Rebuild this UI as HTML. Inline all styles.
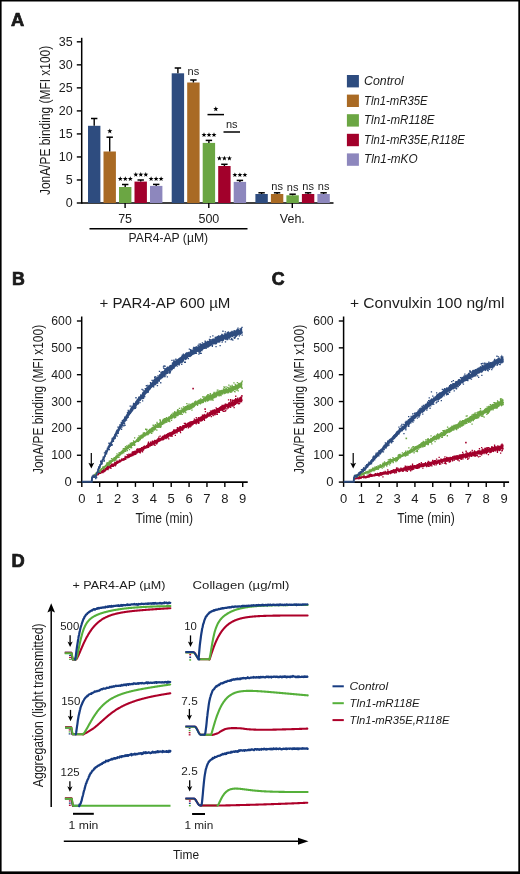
<!DOCTYPE html>
<html><head><meta charset="utf-8"><style>
html,body{margin:0;padding:0;background:#fff;}
body{width:520px;height:874px;overflow:hidden;}
svg{display:block;font-family:"Liberation Sans", sans-serif;will-change:transform;}
text{fill:#1c1c1c;}
</style></head><body>
<svg width="520" height="874" viewBox="0 0 520 874">
<rect x="0" y="0" width="520" height="874" fill="#fff"/>
<text x="11.1" y="26.1" font-size="18.3" text-anchor="start" font-weight="bold" font-style="normal" stroke="#111" stroke-width="0.7">A</text>
<line x1="81.7" y1="37.8" x2="81.7" y2="203.75" stroke="#000" stroke-width="1.5"/>
<line x1="76.8" y1="203.0" x2="81.7" y2="203.0" stroke="#000" stroke-width="1.4"/>
<text x="72.6" y="207.4" font-size="12.5" text-anchor="end" font-weight="normal" font-style="normal" >0</text>
<line x1="76.8" y1="179.975" x2="81.7" y2="179.975" stroke="#000" stroke-width="1.4"/>
<text x="72.6" y="184.375" font-size="12.5" text-anchor="end" font-weight="normal" font-style="normal" >5</text>
<line x1="76.8" y1="156.95" x2="81.7" y2="156.95" stroke="#000" stroke-width="1.4"/>
<text x="72.6" y="161.35" font-size="12.5" text-anchor="end" font-weight="normal" font-style="normal" >10</text>
<line x1="76.8" y1="133.925" x2="81.7" y2="133.925" stroke="#000" stroke-width="1.4"/>
<text x="72.6" y="138.32500000000002" font-size="12.5" text-anchor="end" font-weight="normal" font-style="normal" >15</text>
<line x1="76.8" y1="110.89999999999999" x2="81.7" y2="110.89999999999999" stroke="#000" stroke-width="1.4"/>
<text x="72.6" y="115.3" font-size="12.5" text-anchor="end" font-weight="normal" font-style="normal" >20</text>
<line x1="76.8" y1="87.87499999999999" x2="81.7" y2="87.87499999999999" stroke="#000" stroke-width="1.4"/>
<text x="72.6" y="92.27499999999999" font-size="12.5" text-anchor="end" font-weight="normal" font-style="normal" >25</text>
<line x1="76.8" y1="64.85" x2="81.7" y2="64.85" stroke="#000" stroke-width="1.4"/>
<text x="72.6" y="69.25" font-size="12.5" text-anchor="end" font-weight="normal" font-style="normal" >30</text>
<line x1="76.8" y1="41.82499999999999" x2="81.7" y2="41.82499999999999" stroke="#000" stroke-width="1.4"/>
<text x="72.6" y="46.22499999999999" font-size="12.5" text-anchor="end" font-weight="normal" font-style="normal" >35</text>
<line x1="81.7" y1="203.0" x2="333.5" y2="203.0" stroke="#000" stroke-width="1.6"/>
<text transform="translate(49.7,120.45) rotate(-90)" x="0" y="0" font-size="15" text-anchor="middle" textLength="149.3" lengthAdjust="spacingAndGlyphs">JonA/PE binding (MFI x100)</text>
<rect x="88.00" y="125.8" width="12.4" height="77.20" fill="#2e4c7f"/>
<line x1="94.2" y1="118.5" x2="94.2" y2="125.8" stroke="#000" stroke-width="1.4"/>
<line x1="91.0" y1="118.5" x2="97.4" y2="118.5" stroke="#000" stroke-width="1.5"/>
<rect x="103.50" y="151.5" width="12.4" height="51.50" fill="#a96a24"/>
<line x1="109.7" y1="137.2" x2="109.7" y2="151.5" stroke="#000" stroke-width="1.4"/>
<line x1="106.5" y1="137.2" x2="112.9" y2="137.2" stroke="#000" stroke-width="1.5"/>
<rect x="119.00" y="187.0" width="12.4" height="16.00" fill="#6ba643"/>
<line x1="125.2" y1="184.5" x2="125.2" y2="187.0" stroke="#000" stroke-width="1.4"/>
<line x1="122.0" y1="184.5" x2="128.4" y2="184.5" stroke="#000" stroke-width="1.5"/>
<rect x="134.50" y="181.6" width="12.4" height="21.40" fill="#a2002b"/>
<line x1="140.7" y1="180.0" x2="140.7" y2="181.6" stroke="#000" stroke-width="1.4"/>
<line x1="137.5" y1="180.0" x2="143.89999999999998" y2="180.0" stroke="#000" stroke-width="1.5"/>
<rect x="150.00" y="185.9" width="12.4" height="17.10" fill="#8d87bd"/>
<line x1="156.2" y1="184.4" x2="156.2" y2="185.9" stroke="#000" stroke-width="1.4"/>
<line x1="153.0" y1="184.4" x2="159.39999999999998" y2="184.4" stroke="#000" stroke-width="1.5"/>
<rect x="171.70" y="73.3" width="12.4" height="129.70" fill="#2e4c7f"/>
<line x1="177.89999999999998" y1="68.0" x2="177.89999999999998" y2="73.3" stroke="#000" stroke-width="1.4"/>
<line x1="174.7" y1="68.0" x2="181.09999999999997" y2="68.0" stroke="#000" stroke-width="1.5"/>
<rect x="187.20" y="82.5" width="12.4" height="120.50" fill="#a96a24"/>
<line x1="193.39999999999998" y1="80.0" x2="193.39999999999998" y2="82.5" stroke="#000" stroke-width="1.4"/>
<line x1="190.2" y1="80.0" x2="196.59999999999997" y2="80.0" stroke="#000" stroke-width="1.5"/>
<rect x="202.70" y="142.9" width="12.4" height="60.10" fill="#6ba643"/>
<line x1="208.89999999999998" y1="140.4" x2="208.89999999999998" y2="142.9" stroke="#000" stroke-width="1.4"/>
<line x1="205.7" y1="140.4" x2="212.09999999999997" y2="140.4" stroke="#000" stroke-width="1.5"/>
<rect x="218.20" y="166.0" width="12.4" height="37.00" fill="#a2002b"/>
<line x1="224.39999999999998" y1="164.3" x2="224.39999999999998" y2="166.0" stroke="#000" stroke-width="1.4"/>
<line x1="221.2" y1="164.3" x2="227.59999999999997" y2="164.3" stroke="#000" stroke-width="1.5"/>
<rect x="233.70" y="181.9" width="12.4" height="21.10" fill="#8d87bd"/>
<line x1="239.89999999999998" y1="180.4" x2="239.89999999999998" y2="181.9" stroke="#000" stroke-width="1.4"/>
<line x1="236.7" y1="180.4" x2="243.09999999999997" y2="180.4" stroke="#000" stroke-width="1.5"/>
<rect x="255.40" y="194.0" width="12.4" height="9.00" fill="#2e4c7f"/>
<line x1="261.6" y1="192.8" x2="261.6" y2="194.0" stroke="#000" stroke-width="1.4"/>
<line x1="258.40000000000003" y1="192.8" x2="264.8" y2="192.8" stroke="#000" stroke-width="1.5"/>
<rect x="270.90" y="194.0" width="12.4" height="9.00" fill="#a96a24"/>
<line x1="277.09999999999997" y1="192.8" x2="277.09999999999997" y2="194.0" stroke="#000" stroke-width="1.4"/>
<line x1="273.9" y1="192.8" x2="280.29999999999995" y2="192.8" stroke="#000" stroke-width="1.5"/>
<rect x="286.40" y="195.3" width="12.4" height="7.70" fill="#6ba643"/>
<line x1="292.59999999999997" y1="194.2" x2="292.59999999999997" y2="195.3" stroke="#000" stroke-width="1.4"/>
<line x1="289.4" y1="194.2" x2="295.79999999999995" y2="194.2" stroke="#000" stroke-width="1.5"/>
<rect x="301.90" y="194.0" width="12.4" height="9.00" fill="#a2002b"/>
<line x1="308.09999999999997" y1="192.8" x2="308.09999999999997" y2="194.0" stroke="#000" stroke-width="1.4"/>
<line x1="304.9" y1="192.8" x2="311.29999999999995" y2="192.8" stroke="#000" stroke-width="1.5"/>
<rect x="317.40" y="194.0" width="12.4" height="9.00" fill="#8d87bd"/>
<line x1="323.59999999999997" y1="192.8" x2="323.59999999999997" y2="194.0" stroke="#000" stroke-width="1.4"/>
<line x1="320.4" y1="192.8" x2="326.79999999999995" y2="192.8" stroke="#000" stroke-width="1.5"/>
<line x1="125.1" y1="203.0" x2="125.1" y2="208.0" stroke="#000" stroke-width="1.4"/>
<line x1="208.8" y1="203.0" x2="208.8" y2="208.0" stroke="#000" stroke-width="1.4"/>
<line x1="292.3" y1="203.0" x2="292.3" y2="208.0" stroke="#000" stroke-width="1.4"/>
<text x="125.1" y="223.2" font-size="12.5" text-anchor="middle" font-weight="normal" font-style="normal" >75</text>
<text x="208.9" y="223.2" font-size="12.5" text-anchor="middle" font-weight="normal" font-style="normal" >500</text>
<text x="292.3" y="223.0" font-size="12.5" text-anchor="middle" font-weight="normal" font-style="normal" >Veh.</text>
<line x1="89.5" y1="228.7" x2="247.5" y2="228.7" stroke="#000" stroke-width="1.5"/>
<text x="128.6" y="242.2" font-size="12.5" text-anchor="start" font-weight="normal" font-style="normal" textLength="79.5" lengthAdjust="spacingAndGlyphs" >PAR4-AP (&#181;M)</text>
<polygon points="109.80,128.50 110.47,130.28 112.37,130.37 110.88,131.55 111.39,133.38 109.80,132.33 108.21,133.38 108.72,131.55 107.23,130.37 109.13,130.28" fill="#000"/>
<polygon points="120.30,176.30 120.94,178.02 122.77,178.10 121.34,179.24 121.83,181.00 120.30,179.99 118.77,181.00 119.26,179.24 117.83,178.10 119.66,178.02" fill="#000"/>
<polygon points="125.30,176.30 125.94,178.02 127.77,178.10 126.34,179.24 126.83,181.00 125.30,179.99 123.77,181.00 124.26,179.24 122.83,178.10 124.66,178.02" fill="#000"/>
<polygon points="130.30,176.30 130.94,178.02 132.77,178.10 131.34,179.24 131.83,181.00 130.30,179.99 128.77,181.00 129.26,179.24 127.83,178.10 129.66,178.02" fill="#000"/>
<polygon points="135.80,172.00 136.44,173.72 138.27,173.80 136.84,174.94 137.33,176.70 135.80,175.69 134.27,176.70 134.76,174.94 133.33,173.80 135.16,173.72" fill="#000"/>
<polygon points="140.80,172.00 141.44,173.72 143.27,173.80 141.84,174.94 142.33,176.70 140.80,175.69 139.27,176.70 139.76,174.94 138.33,173.80 140.16,173.72" fill="#000"/>
<polygon points="145.80,172.00 146.44,173.72 148.27,173.80 146.84,174.94 147.33,176.70 145.80,175.69 144.27,176.70 144.76,174.94 143.33,173.80 145.16,173.72" fill="#000"/>
<polygon points="151.10,176.30 151.74,178.02 153.57,178.10 152.14,179.24 152.63,181.00 151.10,179.99 149.57,181.00 150.06,179.24 148.63,178.10 150.46,178.02" fill="#000"/>
<polygon points="156.10,176.30 156.74,178.02 158.57,178.10 157.14,179.24 157.63,181.00 156.10,179.99 154.57,181.00 155.06,179.24 153.63,178.10 155.46,178.02" fill="#000"/>
<polygon points="161.10,176.30 161.74,178.02 163.57,178.10 162.14,179.24 162.63,181.00 161.10,179.99 159.57,181.00 160.06,179.24 158.63,178.10 160.46,178.02" fill="#000"/>
<text x="193.4" y="75.0" font-size="11" text-anchor="middle" font-weight="normal" font-style="normal" >ns</text>
<polygon points="204.00,132.20 204.64,133.92 206.47,134.00 205.04,135.14 205.53,136.90 204.00,135.89 202.47,136.90 202.96,135.14 201.53,134.00 203.36,133.92" fill="#000"/>
<polygon points="209.00,132.20 209.64,133.92 211.47,134.00 210.04,135.14 210.53,136.90 209.00,135.89 207.47,136.90 207.96,135.14 206.53,134.00 208.36,133.92" fill="#000"/>
<polygon points="214.00,132.20 214.64,133.92 216.47,134.00 215.04,135.14 215.53,136.90 214.00,135.89 212.47,136.90 212.96,135.14 211.53,134.00 213.36,133.92" fill="#000"/>
<polygon points="219.40,155.70 220.04,157.42 221.87,157.50 220.44,158.64 220.93,160.40 219.40,159.39 217.87,160.40 218.36,158.64 216.93,157.50 218.76,157.42" fill="#000"/>
<polygon points="224.40,155.70 225.04,157.42 226.87,157.50 225.44,158.64 225.93,160.40 224.40,159.39 222.87,160.40 223.36,158.64 221.93,157.50 223.76,157.42" fill="#000"/>
<polygon points="229.40,155.70 230.04,157.42 231.87,157.50 230.44,158.64 230.93,160.40 229.40,159.39 227.87,160.40 228.36,158.64 226.93,157.50 228.76,157.42" fill="#000"/>
<polygon points="234.90,172.40 235.54,174.12 237.37,174.20 235.94,175.34 236.43,177.10 234.90,176.09 233.37,177.10 233.86,175.34 232.43,174.20 234.26,174.12" fill="#000"/>
<polygon points="239.90,172.40 240.54,174.12 242.37,174.20 240.94,175.34 241.43,177.10 239.90,176.09 238.37,177.10 238.86,175.34 237.43,174.20 239.26,174.12" fill="#000"/>
<polygon points="244.90,172.40 245.54,174.12 247.37,174.20 245.94,175.34 246.43,177.10 244.90,176.09 243.37,177.10 243.86,175.34 242.43,174.20 244.26,174.12" fill="#000"/>
<line x1="207.5" y1="114.6" x2="224.0" y2="114.6" stroke="#000" stroke-width="1.5"/>
<polygon points="215.80,106.30 216.47,108.08 218.37,108.17 216.88,109.35 217.39,111.18 215.80,110.13 214.21,111.18 214.72,109.35 213.23,108.17 215.13,108.08" fill="#000"/>
<line x1="223.5" y1="132.0" x2="240.0" y2="132.0" stroke="#000" stroke-width="1.5"/>
<text x="231.7" y="127.7" font-size="11" text-anchor="middle" font-weight="normal" font-style="normal" >ns</text>
<text x="277.09999999999997" y="189.6" font-size="11" text-anchor="middle" font-weight="normal" font-style="normal" >ns</text>
<text x="292.59999999999997" y="190.6" font-size="11" text-anchor="middle" font-weight="normal" font-style="normal" >ns</text>
<text x="308.09999999999997" y="189.6" font-size="11" text-anchor="middle" font-weight="normal" font-style="normal" >ns</text>
<text x="323.59999999999997" y="189.6" font-size="11" text-anchor="middle" font-weight="normal" font-style="normal" >ns</text>
<rect x="346.9" y="75.00" width="12" height="12.4" fill="#2e4c7f"/>
<text x="364.0" y="85.00" font-size="12.5" text-anchor="start" font-weight="normal" font-style="italic" textLength="39.8" lengthAdjust="spacingAndGlyphs" >Control</text>
<rect x="346.9" y="94.60" width="12" height="12.4" fill="#a96a24"/>
<text x="364.0" y="104.60" font-size="12.5" text-anchor="start" font-weight="normal" font-style="italic" textLength="63.6" lengthAdjust="spacingAndGlyphs" >Tln1-mR35E</text>
<rect x="346.9" y="114.20" width="12" height="12.4" fill="#6ba643"/>
<text x="364.0" y="124.20" font-size="12.5" text-anchor="start" font-weight="normal" font-style="italic" textLength="70.6" lengthAdjust="spacingAndGlyphs" >Tln1-mR118E</text>
<rect x="346.9" y="133.80" width="12" height="12.4" fill="#a2002b"/>
<text x="364.0" y="143.80" font-size="12.5" text-anchor="start" font-weight="normal" font-style="italic" textLength="100.8" lengthAdjust="spacingAndGlyphs" >Tln1-mR35E,R118E</text>
<rect x="346.9" y="153.40" width="12" height="12.4" fill="#8d87bd"/>
<text x="364.0" y="163.40" font-size="12.5" text-anchor="start" font-weight="normal" font-style="italic" textLength="53.6" lengthAdjust="spacingAndGlyphs" >Tln1-mKO</text>
<text x="12.0" y="284.9" font-size="17.8" text-anchor="start" font-weight="bold" font-style="normal" stroke="#111" stroke-width="0.7">B</text>
<line x1="81.7" y1="316.5" x2="81.7" y2="482.85" stroke="#000" stroke-width="1.5"/>
<line x1="76.9" y1="482.1" x2="81.7" y2="482.1" stroke="#000" stroke-width="1.4"/>
<text x="71.7" y="486.1" font-size="13" text-anchor="end" font-weight="normal" font-style="normal" >0</text>
<line x1="76.9" y1="455.25" x2="81.7" y2="455.25" stroke="#000" stroke-width="1.4"/>
<text x="71.7" y="459.25" font-size="13" text-anchor="end" font-weight="normal" font-style="normal" textLength="20.4" lengthAdjust="spacingAndGlyphs" >100</text>
<line x1="76.9" y1="428.40000000000003" x2="81.7" y2="428.40000000000003" stroke="#000" stroke-width="1.4"/>
<text x="71.7" y="432.40000000000003" font-size="13" text-anchor="end" font-weight="normal" font-style="normal" textLength="20.4" lengthAdjust="spacingAndGlyphs" >200</text>
<line x1="76.9" y1="401.55" x2="81.7" y2="401.55" stroke="#000" stroke-width="1.4"/>
<text x="71.7" y="405.55" font-size="13" text-anchor="end" font-weight="normal" font-style="normal" textLength="20.4" lengthAdjust="spacingAndGlyphs" >300</text>
<line x1="76.9" y1="374.70000000000005" x2="81.7" y2="374.70000000000005" stroke="#000" stroke-width="1.4"/>
<text x="71.7" y="378.70000000000005" font-size="13" text-anchor="end" font-weight="normal" font-style="normal" textLength="20.4" lengthAdjust="spacingAndGlyphs" >400</text>
<line x1="76.9" y1="347.85" x2="81.7" y2="347.85" stroke="#000" stroke-width="1.4"/>
<text x="71.7" y="351.85" font-size="13" text-anchor="end" font-weight="normal" font-style="normal" textLength="20.4" lengthAdjust="spacingAndGlyphs" >500</text>
<line x1="76.9" y1="321.0" x2="81.7" y2="321.0" stroke="#000" stroke-width="1.4"/>
<text x="71.7" y="325.0" font-size="13" text-anchor="end" font-weight="normal" font-style="normal" textLength="20.4" lengthAdjust="spacingAndGlyphs" >600</text>
<line x1="81.7" y1="482.1" x2="247.71999999999997" y2="482.1" stroke="#000" stroke-width="1.6"/>
<line x1="81.8" y1="482.1" x2="81.8" y2="486.90000000000003" stroke="#000" stroke-width="1.4"/>
<text x="81.8" y="502.7" font-size="13" text-anchor="middle" font-weight="normal" font-style="normal" >0</text>
<line x1="99.67999999999999" y1="482.1" x2="99.67999999999999" y2="486.90000000000003" stroke="#000" stroke-width="1.4"/>
<text x="99.67999999999999" y="502.7" font-size="13" text-anchor="middle" font-weight="normal" font-style="normal" >1</text>
<line x1="117.56" y1="482.1" x2="117.56" y2="486.90000000000003" stroke="#000" stroke-width="1.4"/>
<text x="117.56" y="502.7" font-size="13" text-anchor="middle" font-weight="normal" font-style="normal" >2</text>
<line x1="135.44" y1="482.1" x2="135.44" y2="486.90000000000003" stroke="#000" stroke-width="1.4"/>
<text x="135.44" y="502.7" font-size="13" text-anchor="middle" font-weight="normal" font-style="normal" >3</text>
<line x1="153.32" y1="482.1" x2="153.32" y2="486.90000000000003" stroke="#000" stroke-width="1.4"/>
<text x="153.32" y="502.7" font-size="13" text-anchor="middle" font-weight="normal" font-style="normal" >4</text>
<line x1="171.2" y1="482.1" x2="171.2" y2="486.90000000000003" stroke="#000" stroke-width="1.4"/>
<text x="171.2" y="502.7" font-size="13" text-anchor="middle" font-weight="normal" font-style="normal" >5</text>
<line x1="189.07999999999998" y1="482.1" x2="189.07999999999998" y2="486.90000000000003" stroke="#000" stroke-width="1.4"/>
<text x="189.07999999999998" y="502.7" font-size="13" text-anchor="middle" font-weight="normal" font-style="normal" >6</text>
<line x1="206.95999999999998" y1="482.1" x2="206.95999999999998" y2="486.90000000000003" stroke="#000" stroke-width="1.4"/>
<text x="206.95999999999998" y="502.7" font-size="13" text-anchor="middle" font-weight="normal" font-style="normal" >7</text>
<line x1="224.83999999999997" y1="482.1" x2="224.83999999999997" y2="486.90000000000003" stroke="#000" stroke-width="1.4"/>
<text x="224.83999999999997" y="502.7" font-size="13" text-anchor="middle" font-weight="normal" font-style="normal" >8</text>
<line x1="242.71999999999997" y1="482.1" x2="242.71999999999997" y2="486.90000000000003" stroke="#000" stroke-width="1.4"/>
<text x="242.71999999999997" y="502.7" font-size="13" text-anchor="middle" font-weight="normal" font-style="normal" >9</text>
<text x="99.6" y="307.9" font-size="14" text-anchor="start" font-weight="normal" font-style="normal" textLength="130.8" lengthAdjust="spacingAndGlyphs" >+ PAR4-AP 600 &#181;M</text>
<text x="135.5" y="523.2" font-size="14" text-anchor="start" font-weight="normal" font-style="normal" textLength="57.5" lengthAdjust="spacingAndGlyphs" >Time (min)</text>
<text transform="translate(42.7,399.45) rotate(-90)" x="0" y="0" font-size="15" text-anchor="middle" textLength="149.1" lengthAdjust="spacingAndGlyphs">JonA/PE binding (MFI x100)</text>
<polygon points="91.8,477.6 92.6,476.6 93.4,475.9 94.2,475.0 95.0,474.7 95.8,474.5 96.6,473.8 97.4,473.1 98.2,473.0 99.0,472.6 99.8,471.9 100.6,471.5 101.4,470.8 102.2,470.9 103.0,469.8 103.8,469.1 104.6,469.1 105.4,468.4 106.2,467.1 107.0,467.2 107.8,467.0 108.6,466.4 109.4,466.0 110.2,465.9 111.0,465.1 111.8,464.5 112.6,464.3 113.4,463.6 114.2,463.2 115.0,462.9 115.8,461.7 116.6,461.4 117.4,460.6 118.2,461.0 119.0,459.6 119.8,460.0 120.6,459.9 121.4,459.1 122.2,459.0 123.0,457.9 123.8,458.1 124.6,457.4 125.4,456.8 126.2,455.9 127.0,456.2 127.8,455.0 128.6,454.9 129.4,453.9 130.2,453.9 131.0,453.7 131.8,452.9 132.6,452.4 133.4,451.8 134.2,451.6 135.0,451.3 135.8,451.3 136.6,449.5 137.4,449.6 138.2,448.5 139.0,449.4 139.8,448.1 140.6,448.1 141.4,448.4 142.2,447.5 143.0,447.4 143.8,446.9 144.6,445.8 145.4,446.0 146.2,444.9 147.0,444.8 147.8,443.7 148.6,444.7 149.4,443.0 150.2,442.3 151.0,442.7 151.8,442.1 152.6,441.6 153.4,440.9 154.2,440.3 155.0,439.9 155.8,440.2 156.6,439.3 157.4,439.2 158.2,437.6 159.0,437.9 159.8,438.0 160.6,437.7 161.4,437.5 162.2,436.3 163.0,435.7 163.8,436.0 164.6,435.1 165.4,434.8 166.2,434.0 167.0,433.8 167.8,433.1 168.6,432.7 169.4,432.3 170.2,432.2 171.0,431.8 171.8,432.1 172.6,431.0 173.4,429.7 174.2,429.3 175.0,429.6 175.8,429.2 176.6,429.0 177.4,428.3 178.2,427.9 179.0,427.2 179.8,426.1 180.6,426.2 181.4,426.9 182.2,426.0 183.0,425.0 183.8,424.9 184.6,424.5 185.4,424.3 186.2,424.1 187.0,422.9 187.8,423.0 188.6,423.5 189.4,421.7 190.2,421.8 191.0,421.3 191.8,421.2 192.6,421.7 193.4,420.5 194.2,420.1 195.0,420.2 195.8,419.0 196.6,418.2 197.4,418.6 198.2,418.3 199.0,417.4 199.8,417.2 200.6,416.9 201.4,416.3 202.2,416.1 203.0,415.2 203.8,414.9 204.6,413.6 205.4,414.7 206.2,414.5 207.0,413.0 207.8,412.1 208.6,413.5 209.4,413.1 210.2,412.3 211.0,410.2 211.8,411.0 212.6,409.8 213.4,409.8 214.2,409.4 215.0,409.1 215.8,409.8 216.6,408.0 217.4,408.2 218.2,407.9 219.0,407.2 219.8,406.8 220.6,405.9 221.4,406.0 222.2,405.3 223.0,405.4 223.8,405.6 224.6,405.1 225.4,403.9 226.2,403.5 227.0,404.0 227.8,404.0 228.6,402.1 229.4,401.8 230.2,402.8 231.0,401.5 231.8,401.7 232.6,401.2 233.4,401.8 234.2,399.5 235.0,399.5 235.8,399.4 236.6,398.6 237.4,397.1 238.2,399.0 239.0,397.4 239.8,397.7 240.6,396.3 241.4,396.8 242.2,395.9 242.2,402.4 241.4,402.2 240.6,402.5 239.8,402.6 239.0,402.2 238.2,402.9 237.4,403.1 236.6,403.9 235.8,405.0 235.0,404.9 234.2,405.5 233.4,405.3 232.6,406.2 231.8,405.8 231.0,406.6 230.2,407.0 229.4,407.4 228.6,408.6 227.8,407.7 227.0,408.1 226.2,407.1 225.4,409.8 224.6,409.8 223.8,409.6 223.0,411.9 222.2,411.1 221.4,410.5 220.6,410.6 219.8,411.7 219.0,412.4 218.2,412.9 217.4,413.4 216.6,412.6 215.8,413.7 215.0,414.6 214.2,414.9 213.4,414.0 212.6,415.4 211.8,415.0 211.0,415.7 210.2,416.4 209.4,416.7 208.6,416.7 207.8,417.2 207.0,418.0 206.2,418.6 205.4,418.3 204.6,419.3 203.8,420.1 203.0,419.8 202.2,421.2 201.4,420.4 200.6,421.6 199.8,421.3 199.0,422.2 198.2,422.5 197.4,422.9 196.6,423.2 195.8,422.9 195.0,423.7 194.2,423.5 193.4,424.6 192.6,424.6 191.8,425.3 191.0,425.7 190.2,427.2 189.4,426.1 188.6,426.9 187.8,427.0 187.0,427.3 186.2,428.4 185.4,427.8 184.6,428.8 183.8,428.4 183.0,429.9 182.2,430.0 181.4,429.5 180.6,431.3 179.8,431.1 179.0,431.5 178.2,431.9 177.4,432.4 176.6,432.5 175.8,432.8 175.0,434.1 174.2,434.3 173.4,434.8 172.6,434.7 171.8,435.3 171.0,435.9 170.2,436.5 169.4,435.9 168.6,436.4 167.8,437.7 167.0,438.4 166.2,438.2 165.4,438.8 164.6,438.7 163.8,440.2 163.0,440.6 162.2,440.4 161.4,440.4 160.6,441.0 159.8,441.8 159.0,441.8 158.2,442.5 157.4,443.3 156.6,443.3 155.8,443.2 155.0,443.7 154.2,444.0 153.4,444.7 152.6,444.4 151.8,445.5 151.0,445.9 150.2,446.5 149.4,446.2 148.6,447.0 147.8,447.8 147.0,447.7 146.2,448.2 145.4,449.1 144.6,448.9 143.8,449.2 143.0,450.4 142.2,450.6 141.4,450.9 140.6,451.6 139.8,451.5 139.0,451.7 138.2,453.1 137.4,453.3 136.6,453.4 135.8,454.5 135.0,455.3 134.2,455.0 133.4,455.2 132.6,455.9 131.8,456.2 131.0,456.6 130.2,457.3 129.4,456.7 128.6,458.0 127.8,458.1 127.0,458.1 126.2,458.8 125.4,459.2 124.6,460.3 123.8,460.6 123.0,460.2 122.2,461.2 121.4,461.3 120.6,461.7 119.8,462.3 119.0,462.8 118.2,463.7 117.4,463.5 116.6,464.5 115.8,464.7 115.0,465.3 114.2,464.8 113.4,465.8 112.6,466.6 111.8,466.6 111.0,467.7 110.2,468.0 109.4,468.2 108.6,468.4 107.8,469.3 107.0,469.1 106.2,470.3 105.4,470.7 104.6,471.1 103.8,471.3 103.0,472.1 102.2,472.2 101.4,472.9 100.6,473.0 99.8,474.0 99.0,474.0 98.2,474.5 97.4,474.9 96.6,475.3 95.8,475.8 95.0,477.1 94.2,476.8 93.4,477.3 92.6,477.7 91.8,477.7" fill="#a2002b"/>
<path d="M209.8 412.3h1.3v1.3h-1.3zM192.0 422.2h1.3v1.3h-1.3zM171.4 434.7h1.3v1.3h-1.3zM170.6 434.7h1.3v1.3h-1.3zM238.3 400.5h1.3v1.3h-1.3zM170.2 433.8h1.3v1.3h-1.3zM104.7 468.6h1.3v1.3h-1.3zM103.3 469.5h1.3v1.3h-1.3zM181.1 428.5h1.3v1.3h-1.3zM201.6 417.1h1.3v1.3h-1.3zM186.0 425.6h1.3v1.3h-1.3zM203.1 414.5h1.3v1.3h-1.3zM136.1 449.0h1.3v1.3h-1.3zM147.6 442.6h1.3v1.3h-1.3zM131.8 453.0h1.3v1.3h-1.3zM147.8 446.7h1.3v1.3h-1.3zM132.0 454.9h1.3v1.3h-1.3zM216.8 408.0h1.3v1.3h-1.3zM114.2 461.8h1.3v1.3h-1.3zM123.2 459.2h1.3v1.3h-1.3zM198.8 419.5h1.3v1.3h-1.3zM151.6 440.9h1.3v1.3h-1.3zM143.1 448.8h1.3v1.3h-1.3zM237.7 400.4h1.3v1.3h-1.3zM225.7 408.3h1.3v1.3h-1.3zM124.9 457.8h1.3v1.3h-1.3zM115.4 463.6h1.3v1.3h-1.3zM165.7 435.9h1.3v1.3h-1.3zM177.9 427.6h1.3v1.3h-1.3zM144.0 446.6h1.3v1.3h-1.3zM180.5 426.7h1.3v1.3h-1.3zM193.5 422.8h1.3v1.3h-1.3zM213.9 409.4h1.3v1.3h-1.3zM128.3 453.6h1.3v1.3h-1.3zM188.5 425.0h1.3v1.3h-1.3zM100.8 472.0h1.3v1.3h-1.3zM101.8 471.6h1.3v1.3h-1.3zM100.4 472.2h1.3v1.3h-1.3zM109.5 464.7h1.3v1.3h-1.3zM209.0 412.4h1.3v1.3h-1.3zM147.6 444.2h1.3v1.3h-1.3zM165.8 435.4h1.3v1.3h-1.3zM159.5 435.5h1.3v1.3h-1.3zM123.1 458.3h1.3v1.3h-1.3zM99.0 472.4h1.3v1.3h-1.3zM119.3 459.4h1.3v1.3h-1.3zM220.4 408.4h1.3v1.3h-1.3zM142.8 449.2h1.3v1.3h-1.3zM155.0 441.1h1.3v1.3h-1.3zM131.7 454.9h1.3v1.3h-1.3zM202.9 418.5h1.3v1.3h-1.3zM197.1 420.3h1.3v1.3h-1.3zM149.5 444.5h1.3v1.3h-1.3zM167.8 433.8h1.3v1.3h-1.3zM151.3 444.8h1.3v1.3h-1.3zM177.8 428.5h1.3v1.3h-1.3zM180.8 426.5h1.3v1.3h-1.3zM178.4 430.1h1.3v1.3h-1.3zM226.9 403.7h1.3v1.3h-1.3zM234.1 402.6h1.3v1.3h-1.3zM99.8 472.5h1.3v1.3h-1.3zM148.9 444.4h1.3v1.3h-1.3zM98.2 472.8h1.3v1.3h-1.3zM148.1 446.0h1.3v1.3h-1.3zM212.1 413.6h1.3v1.3h-1.3zM193.7 418.5h1.3v1.3h-1.3zM176.9 427.6h1.3v1.3h-1.3zM105.1 469.7h1.3v1.3h-1.3zM213.4 412.3h1.3v1.3h-1.3zM183.7 422.8h1.3v1.3h-1.3zM137.4 448.7h1.3v1.3h-1.3zM209.5 413.5h1.3v1.3h-1.3zM98.0 472.1h1.3v1.3h-1.3zM120.2 460.5h1.3v1.3h-1.3zM210.1 413.4h1.3v1.3h-1.3zM99.0 472.5h1.3v1.3h-1.3zM111.9 463.6h1.3v1.3h-1.3zM167.1 435.7h1.3v1.3h-1.3zM198.3 422.5h1.3v1.3h-1.3zM180.2 426.7h1.3v1.3h-1.3zM97.7 473.9h1.3v1.3h-1.3zM133.2 454.0h1.3v1.3h-1.3zM197.7 420.4h1.3v1.3h-1.3zM144.2 446.7h1.3v1.3h-1.3zM121.2 458.2h1.3v1.3h-1.3zM92.5 475.7h1.3v1.3h-1.3zM131.4 454.7h1.3v1.3h-1.3zM231.2 405.1h1.3v1.3h-1.3zM99.6 472.8h1.3v1.3h-1.3zM174.8 432.3h1.3v1.3h-1.3zM228.1 406.4h1.3v1.3h-1.3zM196.8 418.9h1.3v1.3h-1.3zM134.1 450.7h1.3v1.3h-1.3zM189.1 423.9h1.3v1.3h-1.3zM110.0 466.2h1.3v1.3h-1.3zM166.7 435.1h1.3v1.3h-1.3zM131.5 451.8h1.3v1.3h-1.3zM223.0 406.0h1.3v1.3h-1.3zM221.5 404.8h1.3v1.3h-1.3zM206.0 415.5h1.3v1.3h-1.3zM148.3 443.2h1.3v1.3h-1.3zM211.2 412.3h1.3v1.3h-1.3zM238.6 400.3h1.3v1.3h-1.3zM147.4 445.3h1.3v1.3h-1.3zM170.6 435.1h1.3v1.3h-1.3zM116.4 461.0h1.3v1.3h-1.3zM108.3 464.8h1.3v1.3h-1.3zM199.8 420.0h1.3v1.3h-1.3zM101.2 472.0h1.3v1.3h-1.3zM182.0 429.5h1.3v1.3h-1.3zM109.1 466.5h1.3v1.3h-1.3zM192.1 423.0h1.3v1.3h-1.3zM204.7 416.1h1.3v1.3h-1.3zM232.7 399.7h1.3v1.3h-1.3zM150.4 442.7h1.3v1.3h-1.3zM150.4 444.2h1.3v1.3h-1.3zM151.9 441.9h1.3v1.3h-1.3zM197.6 422.7h1.3v1.3h-1.3zM209.8 410.4h1.3v1.3h-1.3zM109.5 465.7h1.3v1.3h-1.3zM140.7 450.2h1.3v1.3h-1.3zM100.4 470.9h1.3v1.3h-1.3zM127.3 454.7h1.3v1.3h-1.3zM201.8 414.8h1.3v1.3h-1.3zM232.1 401.2h1.3v1.3h-1.3zM238.6 402.7h1.3v1.3h-1.3zM102.3 470.6h1.3v1.3h-1.3zM152.2 443.3h1.3v1.3h-1.3zM222.5 406.2h1.3v1.3h-1.3zM167.6 435.8h1.3v1.3h-1.3zM144.4 446.9h1.3v1.3h-1.3zM209.0 412.0h1.3v1.3h-1.3zM221.3 406.9h1.3v1.3h-1.3zM114.0 463.7h1.3v1.3h-1.3zM169.4 435.4h1.3v1.3h-1.3zM114.2 463.3h1.3v1.3h-1.3zM119.1 461.1h1.3v1.3h-1.3zM171.4 435.7h1.3v1.3h-1.3zM129.9 453.6h1.3v1.3h-1.3zM212.4 409.7h1.3v1.3h-1.3zM146.8 446.8h1.3v1.3h-1.3zM119.2 461.0h1.3v1.3h-1.3zM186.2 424.9h1.3v1.3h-1.3zM131.3 454.2h1.3v1.3h-1.3zM102.1 470.1h1.3v1.3h-1.3zM241.4 399.4h1.3v1.3h-1.3zM119.7 459.9h1.3v1.3h-1.3zM111.8 465.5h1.3v1.3h-1.3zM164.0 434.6h1.3v1.3h-1.3zM92.8 475.6h1.3v1.3h-1.3zM210.1 413.4h1.3v1.3h-1.3zM103.4 469.2h1.3v1.3h-1.3zM98.1 473.2h1.3v1.3h-1.3zM236.5 400.5h1.3v1.3h-1.3zM169.4 432.7h1.3v1.3h-1.3zM230.9 403.7h1.3v1.3h-1.3zM226.2 404.4h1.3v1.3h-1.3zM201.8 414.4h1.3v1.3h-1.3zM96.6 472.9h1.3v1.3h-1.3zM188.3 422.6h1.3v1.3h-1.3zM101.9 470.1h1.3v1.3h-1.3zM93.8 475.5h1.3v1.3h-1.3zM218.3 411.0h1.3v1.3h-1.3zM138.0 450.9h1.3v1.3h-1.3zM203.8 419.6h1.3v1.3h-1.3zM171.3 434.6h1.3v1.3h-1.3zM209.3 413.3h1.3v1.3h-1.3zM187.7 427.1h1.3v1.3h-1.3zM237.5 402.6h1.3v1.3h-1.3zM163.1 436.2h1.3v1.3h-1.3zM219.6 409.2h1.3v1.3h-1.3zM214.9 413.0h1.3v1.3h-1.3zM179.8 428.7h1.3v1.3h-1.3zM167.8 436.0h1.3v1.3h-1.3zM156.4 440.9h1.3v1.3h-1.3zM188.7 425.0h1.3v1.3h-1.3zM121.4 459.0h1.3v1.3h-1.3zM157.8 440.2h1.3v1.3h-1.3zM188.8 423.1h1.3v1.3h-1.3zM138.1 451.0h1.3v1.3h-1.3zM124.5 455.7h1.3v1.3h-1.3zM108.1 467.2h1.3v1.3h-1.3zM212.4 414.5h1.3v1.3h-1.3zM223.0 408.2h1.3v1.3h-1.3zM216.8 410.0h1.3v1.3h-1.3zM197.7 420.3h1.3v1.3h-1.3zM182.5 425.5h1.3v1.3h-1.3zM100.8 470.5h1.3v1.3h-1.3zM223.7 406.0h1.3v1.3h-1.3zM162.9 436.7h1.3v1.3h-1.3zM194.7 422.5h1.3v1.3h-1.3zM110.3 464.8h1.3v1.3h-1.3zM203.6 418.3h1.3v1.3h-1.3zM114.1 461.9h1.3v1.3h-1.3zM235.3 399.6h1.3v1.3h-1.3zM198.3 418.9h1.3v1.3h-1.3zM171.4 434.4h1.3v1.3h-1.3zM189.8 422.2h1.3v1.3h-1.3zM126.5 454.0h1.3v1.3h-1.3zM166.7 435.6h1.3v1.3h-1.3zM105.0 468.6h1.3v1.3h-1.3zM133.9 451.0h1.3v1.3h-1.3zM134.8 450.6h1.3v1.3h-1.3zM116.8 461.2h1.3v1.3h-1.3zM154.3 441.6h1.3v1.3h-1.3zM101.6 471.2h1.3v1.3h-1.3zM96.0 473.1h1.3v1.3h-1.3zM141.9 451.2h1.3v1.3h-1.3zM240.3 398.8h1.3v1.3h-1.3zM200.8 417.1h1.3v1.3h-1.3zM156.1 441.5h1.3v1.3h-1.3zM122.0 459.1h1.3v1.3h-1.3zM110.3 467.8h1.3v1.3h-1.3zM154.4 443.0h1.3v1.3h-1.3zM189.8 422.6h1.3v1.3h-1.3zM215.6 409.8h1.3v1.3h-1.3zM161.3 437.1h1.3v1.3h-1.3zM219.4 408.1h1.3v1.3h-1.3zM213.4 412.9h1.3v1.3h-1.3zM219.1 407.6h1.3v1.3h-1.3zM141.8 450.3h1.3v1.3h-1.3zM161.9 437.3h1.3v1.3h-1.3zM116.1 462.2h1.3v1.3h-1.3zM179.5 430.0h1.3v1.3h-1.3zM98.5 471.2h1.3v1.3h-1.3zM162.3 435.8h1.3v1.3h-1.3zM116.6 462.6h1.3v1.3h-1.3zM163.5 436.6h1.3v1.3h-1.3zM119.2 460.5h1.3v1.3h-1.3zM92.4 476.5h1.3v1.3h-1.3zM155.2 440.1h1.3v1.3h-1.3zM156.1 440.2h1.3v1.3h-1.3zM173.0 429.6h1.3v1.3h-1.3zM110.8 463.6h1.3v1.3h-1.3zM166.6 437.0h1.3v1.3h-1.3zM136.9 449.5h1.3v1.3h-1.3zM104.3 468.5h1.3v1.3h-1.3zM153.4 443.9h1.3v1.3h-1.3zM191.8 424.1h1.3v1.3h-1.3zM137.4 449.8h1.3v1.3h-1.3zM198.7 417.8h1.3v1.3h-1.3zM210.0 413.1h1.3v1.3h-1.3zM94.3 474.5h1.3v1.3h-1.3zM124.4 458.3h1.3v1.3h-1.3zM134.5 452.3h1.3v1.3h-1.3zM180.7 428.0h1.3v1.3h-1.3zM164.9 437.1h1.3v1.3h-1.3zM177.0 430.8h1.3v1.3h-1.3zM103.2 471.2h1.3v1.3h-1.3zM135.1 453.8h1.3v1.3h-1.3zM116.2 460.5h1.3v1.3h-1.3zM203.6 418.0h1.3v1.3h-1.3zM194.3 419.0h1.3v1.3h-1.3zM137.7 448.4h1.3v1.3h-1.3zM223.1 408.4h1.3v1.3h-1.3zM112.4 463.7h1.3v1.3h-1.3zM94.8 474.6h1.3v1.3h-1.3zM147.9 446.3h1.3v1.3h-1.3zM192.0 421.0h1.3v1.3h-1.3zM233.5 400.2h1.3v1.3h-1.3zM168.2 434.7h1.3v1.3h-1.3zM112.6 465.5h1.3v1.3h-1.3zM181.4 428.3h1.3v1.3h-1.3zM94.7 473.9h1.3v1.3h-1.3zM214.4 409.9h1.3v1.3h-1.3zM140.3 448.7h1.3v1.3h-1.3zM107.4 469.0h1.3v1.3h-1.3zM114.5 464.1h1.3v1.3h-1.3zM216.0 412.0h1.3v1.3h-1.3zM227.6 407.3h1.3v1.3h-1.3zM119.7 459.9h1.3v1.3h-1.3zM241.3 399.4h1.3v1.3h-1.3zM220.7 409.1h1.3v1.3h-1.3zM141.4 447.0h1.3v1.3h-1.3zM99.8 471.7h1.3v1.3h-1.3zM114.8 463.6h1.3v1.3h-1.3zM157.4 438.3h1.3v1.3h-1.3zM122.9 459.4h1.3v1.3h-1.3zM119.3 461.3h1.3v1.3h-1.3zM132.9 454.3h1.3v1.3h-1.3zM223.3 405.3h1.3v1.3h-1.3zM97.6 473.1h1.3v1.3h-1.3zM230.0 406.6h1.3v1.3h-1.3zM159.3 440.0h1.3v1.3h-1.3zM202.4 415.5h1.3v1.3h-1.3zM168.6 434.3h1.3v1.3h-1.3zM233.4 405.0h1.3v1.3h-1.3zM119.2 460.4h1.3v1.3h-1.3zM130.3 454.9h1.3v1.3h-1.3zM168.1 438.3h1.3v1.3h-1.3zM168.0 434.2h1.3v1.3h-1.3zM141.6 448.1h1.3v1.3h-1.3zM137.8 449.0h1.3v1.3h-1.3zM105.5 467.8h1.3v1.3h-1.3zM167.2 437.0h1.3v1.3h-1.3zM216.3 410.0h1.3v1.3h-1.3zM221.7 405.3h1.3v1.3h-1.3zM154.1 440.2h1.3v1.3h-1.3zM238.5 399.7h1.3v1.3h-1.3zM236.6 402.1h1.3v1.3h-1.3zM139.9 448.1h1.3v1.3h-1.3zM109.6 466.7h1.3v1.3h-1.3zM217.0 408.9h1.3v1.3h-1.3zM232.7 403.1h1.3v1.3h-1.3zM189.1 424.4h1.3v1.3h-1.3zM236.2 402.0h1.3v1.3h-1.3zM163.5 436.0h1.3v1.3h-1.3zM170.4 432.8h1.3v1.3h-1.3zM103.2 470.1h1.3v1.3h-1.3zM147.4 443.3h1.3v1.3h-1.3zM230.3 403.9h1.3v1.3h-1.3zM107.6 467.6h1.3v1.3h-1.3zM112.7 465.2h1.3v1.3h-1.3zM97.1 473.3h1.3v1.3h-1.3zM166.2 434.9h1.3v1.3h-1.3zM182.3 427.2h1.3v1.3h-1.3zM171.7 431.2h1.3v1.3h-1.3zM223.5 406.3h1.3v1.3h-1.3zM193.8 421.9h1.3v1.3h-1.3zM187.3 424.9h1.3v1.3h-1.3zM182.2 425.2h1.3v1.3h-1.3zM167.8 433.9h1.3v1.3h-1.3zM103.3 467.9h1.3v1.3h-1.3zM106.7 468.3h1.3v1.3h-1.3zM188.4 423.0h1.3v1.3h-1.3zM123.8 458.2h1.3v1.3h-1.3zM154.2 439.8h1.3v1.3h-1.3zM188.9 423.5h1.3v1.3h-1.3zM181.8 427.9h1.3v1.3h-1.3zM128.7 456.4h1.3v1.3h-1.3zM132.1 451.6h1.3v1.3h-1.3zM113.2 464.7h1.3v1.3h-1.3zM191.1 422.2h1.3v1.3h-1.3zM199.7 416.8h1.3v1.3h-1.3zM111.9 465.1h1.3v1.3h-1.3zM132.6 452.7h1.3v1.3h-1.3zM114.4 462.9h1.3v1.3h-1.3zM183.6 425.1h1.3v1.3h-1.3zM136.4 451.3h1.3v1.3h-1.3zM222.1 407.4h1.3v1.3h-1.3zM131.9 453.2h1.3v1.3h-1.3zM188.4 422.2h1.3v1.3h-1.3zM187.2 423.6h1.3v1.3h-1.3zM232.9 403.0h1.3v1.3h-1.3zM200.2 420.3h1.3v1.3h-1.3zM231.6 402.8h1.3v1.3h-1.3zM179.5 430.7h1.3v1.3h-1.3zM92.7 476.0h1.3v1.3h-1.3zM140.9 447.0h1.3v1.3h-1.3zM202.8 417.8h1.3v1.3h-1.3zM143.4 445.9h1.3v1.3h-1.3zM190.5 423.5h1.3v1.3h-1.3zM109.7 466.9h1.3v1.3h-1.3zM188.8 423.1h1.3v1.3h-1.3zM149.7 443.7h1.3v1.3h-1.3zM233.5 407.0h1.3v1.3h-1.3zM102.8 470.1h1.3v1.3h-1.3zM146.0 446.1h1.3v1.3h-1.3zM206.8 416.2h1.3v1.3h-1.3zM150.8 443.1h1.3v1.3h-1.3zM161.3 437.6h1.3v1.3h-1.3zM142.1 448.4h1.3v1.3h-1.3zM106.7 465.6h1.3v1.3h-1.3zM140.0 450.9h1.3v1.3h-1.3zM223.1 404.7h1.3v1.3h-1.3zM206.8 412.7h1.3v1.3h-1.3zM138.4 450.6h1.3v1.3h-1.3zM192.0 422.1h1.3v1.3h-1.3zM210.8 410.4h1.3v1.3h-1.3zM211.2 413.0h1.3v1.3h-1.3zM100.4 470.5h1.3v1.3h-1.3zM116.7 461.2h1.3v1.3h-1.3zM235.0 398.1h1.3v1.3h-1.3zM134.0 451.2h1.3v1.3h-1.3zM208.5 414.7h1.3v1.3h-1.3zM186.3 425.1h1.3v1.3h-1.3zM222.5 407.8h1.3v1.3h-1.3zM103.8 470.1h1.3v1.3h-1.3zM231.7 402.7h1.3v1.3h-1.3zM223.0 405.6h1.3v1.3h-1.3zM127.8 455.4h1.3v1.3h-1.3zM198.4 421.8h1.3v1.3h-1.3zM93.1 475.8h1.3v1.3h-1.3zM221.4 408.3h1.3v1.3h-1.3zM154.1 441.3h1.3v1.3h-1.3zM202.8 417.1h1.3v1.3h-1.3zM210.9 413.5h1.3v1.3h-1.3zM96.1 473.9h1.3v1.3h-1.3zM223.9 406.1h1.3v1.3h-1.3zM107.8 466.3h1.3v1.3h-1.3zM115.3 461.9h1.3v1.3h-1.3zM160.3 438.8h1.3v1.3h-1.3zM130.0 455.4h1.3v1.3h-1.3zM189.0 425.1h1.3v1.3h-1.3zM120.6 459.7h1.3v1.3h-1.3zM185.2 424.0h1.3v1.3h-1.3zM206.0 416.3h1.3v1.3h-1.3zM236.1 402.0h1.3v1.3h-1.3zM151.8 440.5h1.3v1.3h-1.3zM134.9 452.8h1.3v1.3h-1.3zM178.5 429.8h1.3v1.3h-1.3zM189.5 426.2h1.3v1.3h-1.3zM230.1 401.3h1.3v1.3h-1.3zM179.7 426.1h1.3v1.3h-1.3zM157.7 440.8h1.3v1.3h-1.3zM136.6 448.5h1.3v1.3h-1.3zM200.5 416.5h1.3v1.3h-1.3zM187.4 422.5h1.3v1.3h-1.3zM102.9 469.1h1.3v1.3h-1.3zM136.9 448.2h1.3v1.3h-1.3zM117.1 461.4h1.3v1.3h-1.3zM166.2 436.7h1.3v1.3h-1.3zM149.1 444.8h1.3v1.3h-1.3zM115.9 462.8h1.3v1.3h-1.3zM171.3 431.9h1.3v1.3h-1.3zM190.7 425.2h1.3v1.3h-1.3zM143.1 448.1h1.3v1.3h-1.3zM216.8 411.9h1.3v1.3h-1.3zM107.3 465.9h1.3v1.3h-1.3zM100.7 471.4h1.3v1.3h-1.3zM197.8 417.1h1.3v1.3h-1.3zM176.3 430.5h1.3v1.3h-1.3zM204.5 416.2h1.3v1.3h-1.3zM231.8 400.5h1.3v1.3h-1.3zM168.5 434.3h1.3v1.3h-1.3zM214.2 413.4h1.3v1.3h-1.3zM189.0 424.4h1.3v1.3h-1.3zM169.0 434.7h1.3v1.3h-1.3zM167.4 433.2h1.3v1.3h-1.3zM240.4 397.3h1.3v1.3h-1.3zM143.8 445.5h1.3v1.3h-1.3zM155.6 440.9h1.3v1.3h-1.3zM163.1 438.6h1.3v1.3h-1.3zM187.7 424.9h1.3v1.3h-1.3zM101.3 470.8h1.3v1.3h-1.3zM189.5 421.4h1.3v1.3h-1.3zM97.9 473.2h1.3v1.3h-1.3zM148.9 444.0h1.3v1.3h-1.3zM158.2 436.5h1.3v1.3h-1.3zM176.7 427.0h1.3v1.3h-1.3zM177.6 428.8h1.3v1.3h-1.3zM182.3 425.4h1.3v1.3h-1.3zM95.8 475.1h1.3v1.3h-1.3zM141.2 448.4h1.3v1.3h-1.3zM202.4 415.0h1.3v1.3h-1.3zM154.5 440.6h1.3v1.3h-1.3zM215.6 413.5h1.3v1.3h-1.3zM173.4 430.0h1.3v1.3h-1.3zM177.2 430.8h1.3v1.3h-1.3zM193.2 422.2h1.3v1.3h-1.3zM239.0 402.4h1.3v1.3h-1.3zM92.7 476.3h1.3v1.3h-1.3zM109.9 465.4h1.3v1.3h-1.3zM105.4 468.8h1.3v1.3h-1.3zM123.0 458.5h1.3v1.3h-1.3zM95.3 475.0h1.3v1.3h-1.3zM239.7 398.9h1.3v1.3h-1.3zM114.6 465.1h1.3v1.3h-1.3zM163.0 436.7h1.3v1.3h-1.3zM223.9 407.4h1.3v1.3h-1.3zM163.0 435.9h1.3v1.3h-1.3zM129.0 455.2h1.3v1.3h-1.3zM135.8 451.4h1.3v1.3h-1.3zM155.2 441.2h1.3v1.3h-1.3zM138.1 451.3h1.3v1.3h-1.3zM162.5 436.3h1.3v1.3h-1.3zM153.9 440.4h1.3v1.3h-1.3zM104.3 470.0h1.3v1.3h-1.3zM222.8 406.5h1.3v1.3h-1.3zM236.9 399.0h1.3v1.3h-1.3zM176.2 431.9h1.3v1.3h-1.3zM106.3 468.6h1.3v1.3h-1.3zM227.9 399.3h1.3v1.3h-1.3zM146.4 445.1h1.3v1.3h-1.3zM149.2 445.2h1.3v1.3h-1.3zM130.3 455.4h1.3v1.3h-1.3zM230.9 402.2h1.3v1.3h-1.3zM195.6 423.1h1.3v1.3h-1.3zM137.1 449.6h1.3v1.3h-1.3zM147.4 444.8h1.3v1.3h-1.3zM155.3 441.1h1.3v1.3h-1.3zM149.0 444.2h1.3v1.3h-1.3zM192.6 423.2h1.3v1.3h-1.3zM234.0 403.8h1.3v1.3h-1.3zM98.6 472.4h1.3v1.3h-1.3zM218.8 411.7h1.3v1.3h-1.3zM219.0 407.5h1.3v1.3h-1.3zM124.9 457.1h1.3v1.3h-1.3zM238.3 403.3h1.3v1.3h-1.3zM223.1 407.2h1.3v1.3h-1.3zM200.1 420.0h1.3v1.3h-1.3zM108.1 466.5h1.3v1.3h-1.3zM159.0 438.6h1.3v1.3h-1.3zM205.3 415.3h1.3v1.3h-1.3zM174.9 431.0h1.3v1.3h-1.3zM100.9 470.8h1.3v1.3h-1.3zM206.3 415.1h1.3v1.3h-1.3zM153.5 442.8h1.3v1.3h-1.3zM125.1 458.6h1.3v1.3h-1.3zM144.1 447.0h1.3v1.3h-1.3zM107.6 467.7h1.3v1.3h-1.3zM146.1 447.1h1.3v1.3h-1.3zM94.5 474.3h1.3v1.3h-1.3zM241.3 395.1h1.3v1.3h-1.3zM112.6 465.8h1.3v1.3h-1.3zM142.8 449.4h1.3v1.3h-1.3zM137.1 450.7h1.3v1.3h-1.3zM160.8 438.6h1.3v1.3h-1.3zM142.8 446.3h1.3v1.3h-1.3zM224.7 403.4h1.3v1.3h-1.3zM120.1 460.4h1.3v1.3h-1.3zM241.1 395.4h1.3v1.3h-1.3zM150.8 444.6h1.3v1.3h-1.3zM239.0 398.1h1.3v1.3h-1.3zM142.2 448.3h1.3v1.3h-1.3zM104.2 470.7h1.3v1.3h-1.3zM216.7 413.7h1.3v1.3h-1.3zM115.8 462.2h1.3v1.3h-1.3zM203.1 418.6h1.3v1.3h-1.3zM223.7 404.6h1.3v1.3h-1.3zM124.7 456.8h1.3v1.3h-1.3zM139.6 449.8h1.3v1.3h-1.3zM176.4 432.2h1.3v1.3h-1.3zM222.0 406.3h1.3v1.3h-1.3zM219.9 409.5h1.3v1.3h-1.3zM164.8 436.1h1.3v1.3h-1.3zM176.8 427.7h1.3v1.3h-1.3zM212.2 411.9h1.3v1.3h-1.3zM115.3 464.2h1.3v1.3h-1.3zM231.4 402.8h1.3v1.3h-1.3zM221.2 408.8h1.3v1.3h-1.3zM127.1 457.1h1.3v1.3h-1.3zM186.1 423.8h1.3v1.3h-1.3zM201.6 419.6h1.3v1.3h-1.3zM188.9 426.2h1.3v1.3h-1.3zM102.9 471.2h1.3v1.3h-1.3zM101.4 471.8h1.3v1.3h-1.3zM125.5 456.5h1.3v1.3h-1.3zM107.8 466.5h1.3v1.3h-1.3zM164.6 434.9h1.3v1.3h-1.3zM202.3 415.3h1.3v1.3h-1.3zM178.2 427.7h1.3v1.3h-1.3zM227.5 406.8h1.3v1.3h-1.3zM165.4 437.9h1.3v1.3h-1.3zM159.3 437.9h1.3v1.3h-1.3zM111.2 465.8h1.3v1.3h-1.3zM234.6 398.9h1.3v1.3h-1.3zM192.6 421.2h1.3v1.3h-1.3zM238.6 397.5h1.3v1.3h-1.3zM231.8 399.5h1.3v1.3h-1.3zM104.9 468.8h1.3v1.3h-1.3zM182.3 427.1h1.3v1.3h-1.3zM165.0 435.2h1.3v1.3h-1.3zM204.9 414.8h1.3v1.3h-1.3zM98.8 471.6h1.3v1.3h-1.3zM190.7 422.5h1.3v1.3h-1.3zM183.4 425.4h1.3v1.3h-1.3zM147.9 445.1h1.3v1.3h-1.3zM110.9 464.1h1.3v1.3h-1.3zM194.6 421.2h1.3v1.3h-1.3zM99.3 472.4h1.3v1.3h-1.3zM142.6 449.3h1.3v1.3h-1.3zM96.3 474.5h1.3v1.3h-1.3zM138.1 450.4h1.3v1.3h-1.3zM129.4 454.0h1.3v1.3h-1.3zM184.7 422.7h1.3v1.3h-1.3zM194.3 420.9h1.3v1.3h-1.3zM197.9 421.7h1.3v1.3h-1.3zM153.5 444.2h1.3v1.3h-1.3zM204.8 411.0h1.3v1.3h-1.3zM190.8 421.3h1.3v1.3h-1.3zM172.0 431.6h1.3v1.3h-1.3zM208.6 412.0h1.3v1.3h-1.3zM237.3 400.6h1.3v1.3h-1.3zM164.0 436.4h1.3v1.3h-1.3zM235.8 399.8h1.3v1.3h-1.3zM185.3 425.4h1.3v1.3h-1.3zM150.0 441.5h1.3v1.3h-1.3zM163.4 435.2h1.3v1.3h-1.3zM190.1 421.5h1.3v1.3h-1.3zM139.3 450.6h1.3v1.3h-1.3zM230.1 400.3h1.3v1.3h-1.3zM149.8 443.5h1.3v1.3h-1.3zM185.5 426.6h1.3v1.3h-1.3zM220.6 408.0h1.3v1.3h-1.3zM216.1 411.8h1.3v1.3h-1.3zM192.8 420.5h1.3v1.3h-1.3zM198.8 419.5h1.3v1.3h-1.3zM205.2 417.2h1.3v1.3h-1.3zM179.9 431.9h1.3v1.3h-1.3zM156.8 441.2h1.3v1.3h-1.3zM226.4 408.2h1.3v1.3h-1.3zM116.1 462.3h1.3v1.3h-1.3zM111.4 465.1h1.3v1.3h-1.3zM138.9 451.8h1.3v1.3h-1.3zM127.2 456.7h1.3v1.3h-1.3zM237.6 403.0h1.3v1.3h-1.3zM171.4 433.6h1.3v1.3h-1.3zM224.3 410.6h1.3v1.3h-1.3zM174.7 434.7h1.3v1.3h-1.3zM124.6 456.6h1.3v1.3h-1.3zM222.9 410.7h1.3v1.3h-1.3zM223.9 407.4h1.3v1.3h-1.3zM110.7 465.8h1.3v1.3h-1.3zM206.7 414.6h1.3v1.3h-1.3zM177.1 430.8h1.3v1.3h-1.3zM119.0 459.5h1.3v1.3h-1.3zM142.6 446.7h1.3v1.3h-1.3zM201.8 415.8h1.3v1.3h-1.3zM120.1 460.3h1.3v1.3h-1.3zM182.9 428.2h1.3v1.3h-1.3zM171.8 433.5h1.3v1.3h-1.3zM171.5 433.1h1.3v1.3h-1.3zM119.4 459.8h1.3v1.3h-1.3zM215.5 407.2h1.3v1.3h-1.3zM172.9 432.4h1.3v1.3h-1.3zM195.1 420.8h1.3v1.3h-1.3zM185.9 425.8h1.3v1.3h-1.3zM140.0 451.0h1.3v1.3h-1.3zM202.2 416.7h1.3v1.3h-1.3zM151.5 442.6h1.3v1.3h-1.3zM230.0 399.0h1.3v1.3h-1.3zM160.6 439.0h1.3v1.3h-1.3zM121.2 459.4h1.3v1.3h-1.3zM161.6 436.5h1.3v1.3h-1.3zM151.0 443.7h1.3v1.3h-1.3zM234.3 399.5h1.3v1.3h-1.3zM138.2 449.4h1.3v1.3h-1.3zM225.1 409.9h1.3v1.3h-1.3zM96.0 474.5h1.3v1.3h-1.3zM112.2 465.4h1.3v1.3h-1.3zM136.2 452.1h1.3v1.3h-1.3zM202.9 417.9h1.3v1.3h-1.3zM182.1 427.4h1.3v1.3h-1.3zM154.4 444.7h1.3v1.3h-1.3zM154.0 441.5h1.3v1.3h-1.3zM217.9 410.9h1.3v1.3h-1.3zM124.6 457.3h1.3v1.3h-1.3zM209.8 412.7h1.3v1.3h-1.3zM147.9 441.4h1.3v1.3h-1.3zM195.6 416.9h1.3v1.3h-1.3zM214.2 414.2h1.3v1.3h-1.3zM156.3 442.6h1.3v1.3h-1.3zM121.3 458.9h1.3v1.3h-1.3zM128.1 455.5h1.3v1.3h-1.3zM129.0 455.8h1.3v1.3h-1.3zM106.5 466.9h1.3v1.3h-1.3zM156.0 443.1h1.3v1.3h-1.3zM188.4 422.1h1.3v1.3h-1.3zM150.0 442.7h1.3v1.3h-1.3zM235.1 395.6h1.3v1.3h-1.3zM232.5 405.5h1.3v1.3h-1.3zM208.2 414.2h1.3v1.3h-1.3zM210.7 416.0h1.3v1.3h-1.3zM138.9 448.3h1.3v1.3h-1.3zM205.4 416.1h1.3v1.3h-1.3zM100.0 471.6h1.3v1.3h-1.3zM95.1 474.7h1.3v1.3h-1.3zM102.3 471.9h1.3v1.3h-1.3zM139.6 452.3h1.3v1.3h-1.3zM200.8 420.2h1.3v1.3h-1.3zM96.8 473.2h1.3v1.3h-1.3zM149.4 445.3h1.3v1.3h-1.3zM181.2 429.8h1.3v1.3h-1.3zM218.6 410.1h1.3v1.3h-1.3zM176.3 430.9h1.3v1.3h-1.3zM128.8 455.7h1.3v1.3h-1.3zM105.1 467.9h1.3v1.3h-1.3zM167.8 434.7h1.3v1.3h-1.3zM212.6 415.0h1.3v1.3h-1.3zM216.4 408.2h1.3v1.3h-1.3zM184.7 425.9h1.3v1.3h-1.3zM119.1 461.5h1.3v1.3h-1.3zM103.4 468.5h1.3v1.3h-1.3zM99.4 471.9h1.3v1.3h-1.3zM132.5 451.0h1.3v1.3h-1.3z" fill="#a2002b"/>
<polygon points="91.8,476.7 92.6,476.0 93.4,475.8 94.2,474.7 95.0,474.2 95.8,473.6 96.6,472.7 97.4,472.2 98.2,471.5 99.0,470.7 99.8,470.2 100.6,469.4 101.4,468.3 102.2,468.4 103.0,466.7 103.8,466.7 104.6,466.1 105.4,465.1 106.2,464.3 107.0,463.4 107.8,463.1 108.6,462.1 109.4,461.4 110.2,460.8 111.0,459.6 111.8,459.8 112.6,458.9 113.4,458.2 114.2,458.2 115.0,456.7 115.8,456.3 116.6,455.3 117.4,454.9 118.2,453.5 119.0,453.7 119.8,453.2 120.6,451.7 121.4,451.3 122.2,450.3 123.0,450.1 123.8,449.2 124.6,448.9 125.4,447.7 126.2,446.9 127.0,447.0 127.8,446.5 128.6,445.4 129.4,444.6 130.2,443.8 131.0,443.1 131.8,442.1 132.6,442.2 133.4,441.7 134.2,440.9 135.0,440.9 135.8,439.9 136.6,439.1 137.4,438.7 138.2,437.3 139.0,437.4 139.8,436.2 140.6,435.8 141.4,435.6 142.2,434.4 143.0,433.5 143.8,433.5 144.6,433.5 145.4,432.5 146.2,432.6 147.0,431.4 147.8,430.2 148.6,429.8 149.4,428.8 150.2,428.5 151.0,428.2 151.8,427.1 152.6,426.8 153.4,426.6 154.2,426.2 155.0,425.8 155.8,424.4 156.6,424.4 157.4,424.2 158.2,423.3 159.0,423.1 159.8,421.9 160.6,421.9 161.4,421.7 162.2,419.8 163.0,419.6 163.8,420.1 164.6,418.8 165.4,418.6 166.2,418.5 167.0,418.0 167.8,417.3 168.6,416.6 169.4,416.5 170.2,415.8 171.0,415.9 171.8,415.0 172.6,414.7 173.4,414.4 174.2,412.5 175.0,412.7 175.8,412.4 176.6,411.8 177.4,411.6 178.2,410.5 179.0,411.2 179.8,411.2 180.6,409.4 181.4,409.5 182.2,408.4 183.0,408.8 183.8,407.6 184.6,408.5 185.4,406.7 186.2,405.4 187.0,405.7 187.8,404.9 188.6,405.3 189.4,405.3 190.2,403.8 191.0,403.8 191.8,403.5 192.6,402.6 193.4,402.4 194.2,403.3 195.0,401.6 195.8,401.5 196.6,401.4 197.4,400.6 198.2,400.1 199.0,399.2 199.8,399.3 200.6,399.3 201.4,399.3 202.2,398.9 203.0,398.9 203.8,397.0 204.6,397.8 205.4,396.6 206.2,395.6 207.0,395.7 207.8,396.1 208.6,395.3 209.4,395.2 210.2,394.2 211.0,394.1 211.8,395.0 212.6,394.1 213.4,394.3 214.2,392.8 215.0,392.2 215.8,392.6 216.6,392.3 217.4,391.5 218.2,390.7 219.0,391.4 219.8,389.8 220.6,390.7 221.4,390.2 222.2,390.5 223.0,389.5 223.8,388.9 224.6,388.6 225.4,388.5 226.2,387.6 227.0,388.4 227.8,388.8 228.6,386.7 229.4,387.7 230.2,387.3 231.0,387.4 231.8,386.0 232.6,386.5 233.4,386.5 234.2,385.9 235.0,385.2 235.8,384.8 236.6,384.5 237.4,384.4 238.2,383.1 239.0,382.5 239.8,383.3 240.6,383.4 241.4,382.8 242.2,383.3 242.2,387.7 241.4,388.1 240.6,387.3 239.8,388.6 239.0,387.5 238.2,389.6 237.4,390.1 236.6,389.3 235.8,389.6 235.0,389.5 234.2,390.3 233.4,391.4 232.6,390.3 231.8,391.5 231.0,392.3 230.2,392.1 229.4,392.1 228.6,391.5 227.8,392.6 227.0,393.1 226.2,393.4 225.4,393.8 224.6,394.4 223.8,393.2 223.0,394.9 222.2,394.5 221.4,394.5 220.6,394.9 219.8,395.8 219.0,397.3 218.2,395.4 217.4,396.0 216.6,397.3 215.8,397.3 215.0,398.5 214.2,398.0 213.4,399.1 212.6,398.2 211.8,399.3 211.0,399.8 210.2,398.6 209.4,400.2 208.6,401.0 207.8,402.1 207.0,401.3 206.2,400.8 205.4,401.5 204.6,400.7 203.8,402.9 203.0,403.1 202.2,402.8 201.4,403.4 200.6,404.7 199.8,404.1 199.0,404.2 198.2,404.4 197.4,404.9 196.6,405.1 195.8,405.4 195.0,406.2 194.2,407.4 193.4,406.7 192.6,407.5 191.8,408.5 191.0,409.0 190.2,408.1 189.4,408.9 188.6,409.9 187.8,410.5 187.0,410.0 186.2,411.1 185.4,411.8 184.6,412.3 183.8,413.7 183.0,412.4 182.2,412.3 181.4,413.9 180.6,413.1 179.8,414.8 179.0,414.3 178.2,415.9 177.4,415.9 176.6,416.6 175.8,416.7 175.0,417.8 174.2,416.7 173.4,418.2 172.6,418.2 171.8,418.7 171.0,418.6 170.2,419.4 169.4,421.4 168.6,420.6 167.8,421.8 167.0,421.0 166.2,422.3 165.4,423.6 164.6,423.4 163.8,423.4 163.0,424.9 162.2,424.9 161.4,425.6 160.6,425.5 159.8,426.6 159.0,427.0 158.2,427.9 157.4,427.9 156.6,427.6 155.8,428.7 155.0,429.5 154.2,430.4 153.4,430.5 152.6,431.0 151.8,431.9 151.0,432.8 150.2,433.6 149.4,433.7 148.6,434.1 147.8,434.6 147.0,434.7 146.2,435.6 145.4,436.0 144.6,436.4 143.8,437.6 143.0,437.7 142.2,438.3 141.4,438.8 140.6,440.0 139.8,440.3 139.0,440.9 138.2,442.2 137.4,442.0 136.6,441.9 135.8,442.9 135.0,443.5 134.2,444.3 133.4,446.0 132.6,446.0 131.8,446.2 131.0,446.6 130.2,447.3 129.4,448.2 128.6,448.5 127.8,449.1 127.0,449.7 126.2,450.7 125.4,451.2 124.6,451.9 123.8,452.3 123.0,453.3 122.2,454.4 121.4,454.0 120.6,455.3 119.8,455.7 119.0,456.4 118.2,456.2 117.4,457.3 116.6,458.3 115.8,458.9 115.0,459.4 114.2,460.4 113.4,461.3 112.6,462.0 111.8,461.8 111.0,463.3 110.2,464.0 109.4,464.5 108.6,464.6 107.8,466.1 107.0,466.1 106.2,467.1 105.4,467.6 104.6,468.4 103.8,468.8 103.0,469.0 102.2,469.6 101.4,470.9 100.6,471.5 99.8,472.0 99.0,472.4 98.2,473.1 97.4,473.8 96.6,474.3 95.8,475.0 95.0,475.5 94.2,476.4 93.4,477.1 92.6,476.9 91.8,477.9" fill="#6ba643"/>
<path d="M227.7 390.9h1.3v1.3h-1.3zM127.5 447.1h1.3v1.3h-1.3zM117.7 454.2h1.3v1.3h-1.3zM179.2 413.7h1.3v1.3h-1.3zM122.5 451.3h1.3v1.3h-1.3zM173.8 414.3h1.3v1.3h-1.3zM234.1 386.7h1.3v1.3h-1.3zM221.2 392.0h1.3v1.3h-1.3zM128.8 448.9h1.3v1.3h-1.3zM229.0 389.0h1.3v1.3h-1.3zM151.8 428.2h1.3v1.3h-1.3zM170.3 414.9h1.3v1.3h-1.3zM140.7 434.6h1.3v1.3h-1.3zM241.6 380.5h1.3v1.3h-1.3zM138.0 438.9h1.3v1.3h-1.3zM202.3 399.8h1.3v1.3h-1.3zM184.8 406.6h1.3v1.3h-1.3zM195.1 400.4h1.3v1.3h-1.3zM107.7 462.8h1.3v1.3h-1.3zM172.4 414.6h1.3v1.3h-1.3zM241.1 381.8h1.3v1.3h-1.3zM176.3 413.7h1.3v1.3h-1.3zM121.6 451.7h1.3v1.3h-1.3zM100.0 469.6h1.3v1.3h-1.3zM141.5 437.2h1.3v1.3h-1.3zM203.6 398.0h1.3v1.3h-1.3zM95.9 474.0h1.3v1.3h-1.3zM99.4 469.2h1.3v1.3h-1.3zM190.3 406.6h1.3v1.3h-1.3zM223.9 392.0h1.3v1.3h-1.3zM157.7 424.2h1.3v1.3h-1.3zM185.4 408.8h1.3v1.3h-1.3zM130.6 442.4h1.3v1.3h-1.3zM132.9 440.2h1.3v1.3h-1.3zM163.1 420.8h1.3v1.3h-1.3zM124.9 447.8h1.3v1.3h-1.3zM160.0 424.1h1.3v1.3h-1.3zM114.3 457.6h1.3v1.3h-1.3zM230.2 389.6h1.3v1.3h-1.3zM189.0 406.9h1.3v1.3h-1.3zM106.2 464.6h1.3v1.3h-1.3zM121.0 452.1h1.3v1.3h-1.3zM216.0 393.1h1.3v1.3h-1.3zM147.8 430.7h1.3v1.3h-1.3zM131.0 446.9h1.3v1.3h-1.3zM95.6 472.0h1.3v1.3h-1.3zM193.0 403.9h1.3v1.3h-1.3zM177.4 414.3h1.3v1.3h-1.3zM217.7 394.0h1.3v1.3h-1.3zM117.5 456.6h1.3v1.3h-1.3zM204.6 399.8h1.3v1.3h-1.3zM215.7 391.4h1.3v1.3h-1.3zM215.3 393.5h1.3v1.3h-1.3zM203.7 396.4h1.3v1.3h-1.3zM158.3 425.9h1.3v1.3h-1.3zM99.2 471.4h1.3v1.3h-1.3zM188.4 405.8h1.3v1.3h-1.3zM96.0 473.3h1.3v1.3h-1.3zM105.0 465.0h1.3v1.3h-1.3zM153.3 425.2h1.3v1.3h-1.3zM110.2 460.5h1.3v1.3h-1.3zM159.7 420.7h1.3v1.3h-1.3zM219.3 391.3h1.3v1.3h-1.3zM118.2 454.6h1.3v1.3h-1.3zM211.4 397.2h1.3v1.3h-1.3zM241.2 387.3h1.3v1.3h-1.3zM97.7 471.2h1.3v1.3h-1.3zM155.4 426.5h1.3v1.3h-1.3zM197.9 402.6h1.3v1.3h-1.3zM201.5 401.2h1.3v1.3h-1.3zM134.0 437.3h1.3v1.3h-1.3zM213.0 393.5h1.3v1.3h-1.3zM147.6 432.8h1.3v1.3h-1.3zM122.2 449.5h1.3v1.3h-1.3zM169.5 417.6h1.3v1.3h-1.3zM183.7 410.6h1.3v1.3h-1.3zM217.3 389.4h1.3v1.3h-1.3zM191.4 404.7h1.3v1.3h-1.3zM104.6 466.0h1.3v1.3h-1.3zM178.0 412.2h1.3v1.3h-1.3zM143.6 432.0h1.3v1.3h-1.3zM197.5 402.7h1.3v1.3h-1.3zM98.9 470.1h1.3v1.3h-1.3zM190.4 407.0h1.3v1.3h-1.3zM210.4 397.0h1.3v1.3h-1.3zM98.2 470.7h1.3v1.3h-1.3zM94.5 474.2h1.3v1.3h-1.3zM225.4 388.7h1.3v1.3h-1.3zM225.9 388.4h1.3v1.3h-1.3zM118.5 452.0h1.3v1.3h-1.3zM230.0 387.9h1.3v1.3h-1.3zM152.9 429.1h1.3v1.3h-1.3zM169.7 417.2h1.3v1.3h-1.3zM162.5 421.4h1.3v1.3h-1.3zM142.2 434.4h1.3v1.3h-1.3zM224.3 389.4h1.3v1.3h-1.3zM183.4 410.5h1.3v1.3h-1.3zM231.5 384.7h1.3v1.3h-1.3zM185.1 412.0h1.3v1.3h-1.3zM230.3 388.1h1.3v1.3h-1.3zM169.1 421.0h1.3v1.3h-1.3zM163.1 423.0h1.3v1.3h-1.3zM177.5 411.6h1.3v1.3h-1.3zM93.0 475.6h1.3v1.3h-1.3zM206.8 398.1h1.3v1.3h-1.3zM113.0 459.1h1.3v1.3h-1.3zM233.2 388.8h1.3v1.3h-1.3zM98.8 470.1h1.3v1.3h-1.3zM198.0 400.5h1.3v1.3h-1.3zM207.0 396.7h1.3v1.3h-1.3zM173.1 412.5h1.3v1.3h-1.3zM106.5 463.8h1.3v1.3h-1.3zM213.4 395.2h1.3v1.3h-1.3zM140.2 437.2h1.3v1.3h-1.3zM135.2 440.9h1.3v1.3h-1.3zM195.6 402.1h1.3v1.3h-1.3zM237.4 387.3h1.3v1.3h-1.3zM106.5 461.9h1.3v1.3h-1.3zM157.3 424.1h1.3v1.3h-1.3zM192.8 403.6h1.3v1.3h-1.3zM133.5 443.2h1.3v1.3h-1.3zM230.4 389.5h1.3v1.3h-1.3zM182.2 411.1h1.3v1.3h-1.3zM103.5 466.6h1.3v1.3h-1.3zM115.3 457.7h1.3v1.3h-1.3zM113.6 456.9h1.3v1.3h-1.3zM160.3 422.9h1.3v1.3h-1.3zM228.2 384.5h1.3v1.3h-1.3zM108.9 463.8h1.3v1.3h-1.3zM114.8 458.9h1.3v1.3h-1.3zM123.8 448.7h1.3v1.3h-1.3zM177.8 410.6h1.3v1.3h-1.3zM156.4 421.8h1.3v1.3h-1.3zM154.7 423.9h1.3v1.3h-1.3zM113.8 458.0h1.3v1.3h-1.3zM215.3 393.6h1.3v1.3h-1.3zM163.8 418.0h1.3v1.3h-1.3zM221.5 390.4h1.3v1.3h-1.3zM96.7 471.8h1.3v1.3h-1.3zM160.5 423.4h1.3v1.3h-1.3zM147.2 432.8h1.3v1.3h-1.3zM217.9 392.4h1.3v1.3h-1.3zM195.6 403.0h1.3v1.3h-1.3zM170.0 416.7h1.3v1.3h-1.3zM116.3 453.3h1.3v1.3h-1.3zM194.1 403.8h1.3v1.3h-1.3zM226.0 389.5h1.3v1.3h-1.3zM208.2 398.4h1.3v1.3h-1.3zM236.7 382.0h1.3v1.3h-1.3zM180.5 412.0h1.3v1.3h-1.3zM139.0 436.6h1.3v1.3h-1.3zM125.2 448.8h1.3v1.3h-1.3zM211.6 397.8h1.3v1.3h-1.3zM213.5 391.7h1.3v1.3h-1.3zM187.0 404.7h1.3v1.3h-1.3zM209.0 398.5h1.3v1.3h-1.3zM164.8 418.0h1.3v1.3h-1.3zM219.4 390.3h1.3v1.3h-1.3zM195.9 403.7h1.3v1.3h-1.3zM128.3 445.6h1.3v1.3h-1.3zM179.9 412.3h1.3v1.3h-1.3zM190.2 406.0h1.3v1.3h-1.3zM122.5 450.6h1.3v1.3h-1.3zM232.0 389.6h1.3v1.3h-1.3zM212.5 399.4h1.3v1.3h-1.3zM113.9 457.7h1.3v1.3h-1.3zM125.0 450.6h1.3v1.3h-1.3zM92.5 476.3h1.3v1.3h-1.3zM232.5 387.5h1.3v1.3h-1.3zM118.2 454.7h1.3v1.3h-1.3zM216.7 391.4h1.3v1.3h-1.3zM168.6 416.5h1.3v1.3h-1.3zM100.7 469.2h1.3v1.3h-1.3zM123.7 449.5h1.3v1.3h-1.3zM130.7 445.9h1.3v1.3h-1.3zM206.4 395.2h1.3v1.3h-1.3zM147.1 431.3h1.3v1.3h-1.3zM113.4 457.5h1.3v1.3h-1.3zM233.5 386.6h1.3v1.3h-1.3zM169.0 419.3h1.3v1.3h-1.3zM102.1 466.6h1.3v1.3h-1.3zM237.5 387.4h1.3v1.3h-1.3zM193.1 402.9h1.3v1.3h-1.3zM158.1 423.7h1.3v1.3h-1.3zM113.9 458.9h1.3v1.3h-1.3zM195.8 402.2h1.3v1.3h-1.3zM106.7 464.6h1.3v1.3h-1.3zM232.5 387.6h1.3v1.3h-1.3zM204.4 398.3h1.3v1.3h-1.3zM198.7 400.6h1.3v1.3h-1.3zM207.2 394.0h1.3v1.3h-1.3zM221.2 390.0h1.3v1.3h-1.3zM162.2 421.8h1.3v1.3h-1.3zM213.4 395.1h1.3v1.3h-1.3zM108.6 460.7h1.3v1.3h-1.3zM196.8 404.1h1.3v1.3h-1.3zM204.4 399.8h1.3v1.3h-1.3zM123.7 447.9h1.3v1.3h-1.3zM108.8 461.0h1.3v1.3h-1.3zM229.1 389.6h1.3v1.3h-1.3zM225.4 386.3h1.3v1.3h-1.3zM108.6 461.5h1.3v1.3h-1.3zM180.2 410.7h1.3v1.3h-1.3zM119.2 453.2h1.3v1.3h-1.3zM122.7 450.4h1.3v1.3h-1.3zM231.0 388.7h1.3v1.3h-1.3zM191.2 403.5h1.3v1.3h-1.3zM205.5 397.2h1.3v1.3h-1.3zM134.3 444.3h1.3v1.3h-1.3zM208.1 394.3h1.3v1.3h-1.3zM192.2 403.7h1.3v1.3h-1.3zM143.9 434.2h1.3v1.3h-1.3zM166.3 417.9h1.3v1.3h-1.3zM129.4 446.8h1.3v1.3h-1.3zM181.0 410.5h1.3v1.3h-1.3zM120.1 453.6h1.3v1.3h-1.3zM159.2 419.2h1.3v1.3h-1.3zM219.9 394.5h1.3v1.3h-1.3zM190.4 407.5h1.3v1.3h-1.3zM182.1 408.4h1.3v1.3h-1.3zM108.9 463.4h1.3v1.3h-1.3zM214.9 394.7h1.3v1.3h-1.3zM184.7 410.1h1.3v1.3h-1.3zM233.9 390.7h1.3v1.3h-1.3zM231.7 387.9h1.3v1.3h-1.3zM231.4 385.7h1.3v1.3h-1.3zM172.0 415.5h1.3v1.3h-1.3zM207.2 395.0h1.3v1.3h-1.3zM107.3 462.5h1.3v1.3h-1.3zM98.8 469.9h1.3v1.3h-1.3zM209.6 395.0h1.3v1.3h-1.3zM192.7 406.4h1.3v1.3h-1.3zM233.6 388.8h1.3v1.3h-1.3zM137.6 437.4h1.3v1.3h-1.3zM166.1 421.1h1.3v1.3h-1.3zM209.7 393.1h1.3v1.3h-1.3zM183.1 408.1h1.3v1.3h-1.3zM218.9 392.3h1.3v1.3h-1.3zM151.1 430.9h1.3v1.3h-1.3zM218.4 394.2h1.3v1.3h-1.3zM220.8 392.7h1.3v1.3h-1.3zM227.1 392.1h1.3v1.3h-1.3zM151.6 429.8h1.3v1.3h-1.3zM227.9 392.0h1.3v1.3h-1.3zM138.3 437.0h1.3v1.3h-1.3zM180.9 407.5h1.3v1.3h-1.3zM238.6 384.5h1.3v1.3h-1.3zM188.4 408.0h1.3v1.3h-1.3zM180.7 411.1h1.3v1.3h-1.3zM146.1 434.0h1.3v1.3h-1.3zM168.9 418.7h1.3v1.3h-1.3zM165.5 420.5h1.3v1.3h-1.3zM193.4 405.5h1.3v1.3h-1.3zM172.8 413.9h1.3v1.3h-1.3zM139.7 438.9h1.3v1.3h-1.3zM120.7 450.9h1.3v1.3h-1.3zM239.7 384.8h1.3v1.3h-1.3zM184.7 405.9h1.3v1.3h-1.3zM118.0 455.0h1.3v1.3h-1.3zM142.7 432.6h1.3v1.3h-1.3zM189.3 408.7h1.3v1.3h-1.3zM127.8 444.5h1.3v1.3h-1.3zM225.9 390.4h1.3v1.3h-1.3zM172.9 414.8h1.3v1.3h-1.3zM193.9 402.1h1.3v1.3h-1.3zM191.3 407.4h1.3v1.3h-1.3zM116.3 455.3h1.3v1.3h-1.3zM231.4 390.9h1.3v1.3h-1.3zM218.5 390.7h1.3v1.3h-1.3zM114.0 456.9h1.3v1.3h-1.3zM177.3 409.0h1.3v1.3h-1.3zM171.0 417.2h1.3v1.3h-1.3zM138.4 439.6h1.3v1.3h-1.3zM148.2 431.4h1.3v1.3h-1.3zM130.9 443.7h1.3v1.3h-1.3zM186.5 405.8h1.3v1.3h-1.3zM156.2 429.5h1.3v1.3h-1.3zM107.2 464.3h1.3v1.3h-1.3zM126.1 445.3h1.3v1.3h-1.3zM114.8 456.7h1.3v1.3h-1.3zM186.2 402.9h1.3v1.3h-1.3zM175.0 416.7h1.3v1.3h-1.3zM150.8 432.4h1.3v1.3h-1.3zM173.9 417.1h1.3v1.3h-1.3zM186.1 407.6h1.3v1.3h-1.3zM124.5 448.3h1.3v1.3h-1.3zM100.5 468.0h1.3v1.3h-1.3zM235.9 387.4h1.3v1.3h-1.3zM119.9 451.9h1.3v1.3h-1.3zM128.3 445.5h1.3v1.3h-1.3zM197.4 400.8h1.3v1.3h-1.3zM239.4 384.5h1.3v1.3h-1.3zM110.6 461.6h1.3v1.3h-1.3zM152.3 431.0h1.3v1.3h-1.3zM220.0 392.5h1.3v1.3h-1.3zM104.8 465.5h1.3v1.3h-1.3zM129.6 443.4h1.3v1.3h-1.3zM183.9 406.7h1.3v1.3h-1.3zM216.1 391.6h1.3v1.3h-1.3zM107.5 464.2h1.3v1.3h-1.3zM154.4 427.2h1.3v1.3h-1.3zM180.6 412.4h1.3v1.3h-1.3zM173.9 415.3h1.3v1.3h-1.3zM172.2 414.8h1.3v1.3h-1.3zM240.5 382.1h1.3v1.3h-1.3zM239.2 384.4h1.3v1.3h-1.3zM123.6 447.9h1.3v1.3h-1.3zM130.4 447.3h1.3v1.3h-1.3zM151.9 428.9h1.3v1.3h-1.3zM107.2 463.1h1.3v1.3h-1.3zM114.0 460.1h1.3v1.3h-1.3zM176.6 412.3h1.3v1.3h-1.3zM239.6 386.2h1.3v1.3h-1.3zM136.1 439.8h1.3v1.3h-1.3zM121.8 451.8h1.3v1.3h-1.3zM184.3 408.1h1.3v1.3h-1.3zM136.6 440.3h1.3v1.3h-1.3zM94.2 475.2h1.3v1.3h-1.3zM106.2 463.1h1.3v1.3h-1.3zM223.3 386.3h1.3v1.3h-1.3zM108.4 463.9h1.3v1.3h-1.3zM188.0 407.1h1.3v1.3h-1.3zM154.7 428.0h1.3v1.3h-1.3zM207.1 397.0h1.3v1.3h-1.3zM168.2 420.6h1.3v1.3h-1.3zM126.7 449.9h1.3v1.3h-1.3zM123.7 448.2h1.3v1.3h-1.3zM127.3 447.8h1.3v1.3h-1.3zM127.1 446.2h1.3v1.3h-1.3zM129.6 442.7h1.3v1.3h-1.3zM136.9 438.9h1.3v1.3h-1.3zM181.5 411.2h1.3v1.3h-1.3zM171.0 413.8h1.3v1.3h-1.3zM102.4 466.3h1.3v1.3h-1.3zM155.0 428.4h1.3v1.3h-1.3zM231.1 388.1h1.3v1.3h-1.3zM232.5 388.3h1.3v1.3h-1.3zM139.9 435.3h1.3v1.3h-1.3zM115.4 455.8h1.3v1.3h-1.3zM135.9 440.3h1.3v1.3h-1.3zM112.0 459.7h1.3v1.3h-1.3zM130.8 444.3h1.3v1.3h-1.3zM230.3 391.6h1.3v1.3h-1.3zM223.2 391.2h1.3v1.3h-1.3zM159.7 420.6h1.3v1.3h-1.3zM174.3 412.7h1.3v1.3h-1.3zM196.8 402.1h1.3v1.3h-1.3zM196.9 404.6h1.3v1.3h-1.3zM195.8 401.4h1.3v1.3h-1.3zM202.1 399.0h1.3v1.3h-1.3zM180.5 410.7h1.3v1.3h-1.3zM112.0 458.6h1.3v1.3h-1.3zM194.8 401.7h1.3v1.3h-1.3zM192.1 404.1h1.3v1.3h-1.3zM116.4 456.9h1.3v1.3h-1.3zM121.3 452.3h1.3v1.3h-1.3zM187.3 406.5h1.3v1.3h-1.3zM149.8 430.5h1.3v1.3h-1.3zM213.3 392.2h1.3v1.3h-1.3zM133.6 443.3h1.3v1.3h-1.3zM191.7 406.1h1.3v1.3h-1.3zM184.0 409.3h1.3v1.3h-1.3zM108.7 460.4h1.3v1.3h-1.3zM133.8 444.7h1.3v1.3h-1.3zM145.0 428.6h1.3v1.3h-1.3zM137.3 437.4h1.3v1.3h-1.3zM105.8 463.7h1.3v1.3h-1.3zM127.3 447.7h1.3v1.3h-1.3zM172.4 412.6h1.3v1.3h-1.3zM125.9 448.2h1.3v1.3h-1.3zM187.1 406.8h1.3v1.3h-1.3zM154.2 426.3h1.3v1.3h-1.3zM160.3 424.2h1.3v1.3h-1.3zM123.1 452.1h1.3v1.3h-1.3zM209.7 397.1h1.3v1.3h-1.3zM103.7 466.1h1.3v1.3h-1.3zM233.3 382.3h1.3v1.3h-1.3zM180.2 413.5h1.3v1.3h-1.3zM233.2 386.5h1.3v1.3h-1.3zM174.2 410.9h1.3v1.3h-1.3zM144.7 433.7h1.3v1.3h-1.3zM147.4 433.9h1.3v1.3h-1.3zM231.0 387.6h1.3v1.3h-1.3zM170.0 414.7h1.3v1.3h-1.3zM151.1 432.6h1.3v1.3h-1.3zM115.5 457.2h1.3v1.3h-1.3zM114.8 457.4h1.3v1.3h-1.3zM154.3 428.4h1.3v1.3h-1.3zM159.7 419.5h1.3v1.3h-1.3zM212.3 395.1h1.3v1.3h-1.3zM110.3 460.6h1.3v1.3h-1.3zM160.0 426.8h1.3v1.3h-1.3zM112.0 458.7h1.3v1.3h-1.3zM130.1 443.7h1.3v1.3h-1.3zM165.8 416.9h1.3v1.3h-1.3zM223.2 389.1h1.3v1.3h-1.3zM111.9 459.2h1.3v1.3h-1.3zM118.2 454.5h1.3v1.3h-1.3zM197.7 401.4h1.3v1.3h-1.3zM170.9 419.7h1.3v1.3h-1.3zM105.3 465.6h1.3v1.3h-1.3zM193.9 404.9h1.3v1.3h-1.3zM235.3 389.3h1.3v1.3h-1.3zM202.5 400.8h1.3v1.3h-1.3zM241.0 383.4h1.3v1.3h-1.3zM203.1 396.3h1.3v1.3h-1.3zM141.3 436.6h1.3v1.3h-1.3zM211.7 393.8h1.3v1.3h-1.3zM177.0 415.0h1.3v1.3h-1.3zM105.8 463.9h1.3v1.3h-1.3zM146.3 428.8h1.3v1.3h-1.3zM233.5 387.1h1.3v1.3h-1.3zM190.0 407.6h1.3v1.3h-1.3zM147.4 431.2h1.3v1.3h-1.3zM198.0 402.0h1.3v1.3h-1.3zM194.2 403.8h1.3v1.3h-1.3zM115.8 458.3h1.3v1.3h-1.3zM161.0 422.9h1.3v1.3h-1.3zM212.6 395.0h1.3v1.3h-1.3zM109.5 460.8h1.3v1.3h-1.3zM174.0 411.5h1.3v1.3h-1.3zM109.9 462.7h1.3v1.3h-1.3zM133.2 443.8h1.3v1.3h-1.3zM206.7 395.8h1.3v1.3h-1.3zM145.6 433.8h1.3v1.3h-1.3zM215.0 394.8h1.3v1.3h-1.3zM200.6 399.7h1.3v1.3h-1.3zM187.1 406.5h1.3v1.3h-1.3zM114.6 458.1h1.3v1.3h-1.3zM159.7 421.1h1.3v1.3h-1.3zM223.4 389.7h1.3v1.3h-1.3zM186.7 407.2h1.3v1.3h-1.3zM102.4 467.5h1.3v1.3h-1.3zM167.2 418.1h1.3v1.3h-1.3zM161.9 422.1h1.3v1.3h-1.3zM165.0 420.8h1.3v1.3h-1.3zM154.1 425.4h1.3v1.3h-1.3zM213.7 394.8h1.3v1.3h-1.3zM171.7 414.8h1.3v1.3h-1.3zM220.4 395.0h1.3v1.3h-1.3zM234.6 383.7h1.3v1.3h-1.3zM225.9 389.3h1.3v1.3h-1.3zM207.2 398.8h1.3v1.3h-1.3zM95.4 473.2h1.3v1.3h-1.3zM92.4 475.5h1.3v1.3h-1.3zM117.8 453.9h1.3v1.3h-1.3zM169.4 417.7h1.3v1.3h-1.3zM136.9 437.5h1.3v1.3h-1.3zM111.9 459.4h1.3v1.3h-1.3zM230.6 387.9h1.3v1.3h-1.3zM156.4 422.9h1.3v1.3h-1.3zM121.9 451.6h1.3v1.3h-1.3zM168.6 416.8h1.3v1.3h-1.3zM238.8 385.9h1.3v1.3h-1.3zM200.2 402.3h1.3v1.3h-1.3zM230.3 388.9h1.3v1.3h-1.3zM109.5 460.2h1.3v1.3h-1.3zM202.9 400.1h1.3v1.3h-1.3zM142.6 432.5h1.3v1.3h-1.3zM146.0 431.4h1.3v1.3h-1.3zM160.4 425.6h1.3v1.3h-1.3zM161.3 422.2h1.3v1.3h-1.3zM210.3 399.2h1.3v1.3h-1.3zM136.3 439.5h1.3v1.3h-1.3zM161.1 422.4h1.3v1.3h-1.3zM156.9 423.2h1.3v1.3h-1.3zM185.2 410.0h1.3v1.3h-1.3zM175.6 413.2h1.3v1.3h-1.3zM99.2 470.7h1.3v1.3h-1.3zM219.7 393.1h1.3v1.3h-1.3zM188.2 407.6h1.3v1.3h-1.3zM114.9 457.4h1.3v1.3h-1.3zM166.2 419.1h1.3v1.3h-1.3zM226.7 389.6h1.3v1.3h-1.3zM224.0 389.2h1.3v1.3h-1.3zM152.5 424.6h1.3v1.3h-1.3zM127.8 447.2h1.3v1.3h-1.3zM234.4 391.3h1.3v1.3h-1.3zM202.0 402.0h1.3v1.3h-1.3zM191.3 409.5h1.3v1.3h-1.3zM153.3 428.4h1.3v1.3h-1.3zM221.4 389.7h1.3v1.3h-1.3zM121.0 450.7h1.3v1.3h-1.3zM215.9 395.4h1.3v1.3h-1.3zM211.7 396.3h1.3v1.3h-1.3zM170.2 416.5h1.3v1.3h-1.3zM146.5 433.5h1.3v1.3h-1.3zM194.7 401.8h1.3v1.3h-1.3zM150.2 430.6h1.3v1.3h-1.3zM154.0 426.7h1.3v1.3h-1.3zM132.4 443.1h1.3v1.3h-1.3zM209.2 399.1h1.3v1.3h-1.3zM115.1 456.7h1.3v1.3h-1.3zM166.1 421.7h1.3v1.3h-1.3zM158.2 426.6h1.3v1.3h-1.3zM239.5 383.6h1.3v1.3h-1.3zM108.6 464.9h1.3v1.3h-1.3zM176.6 410.8h1.3v1.3h-1.3zM125.3 448.4h1.3v1.3h-1.3zM234.2 388.6h1.3v1.3h-1.3zM110.9 457.9h1.3v1.3h-1.3zM229.1 391.0h1.3v1.3h-1.3zM188.6 408.7h1.3v1.3h-1.3zM120.7 452.2h1.3v1.3h-1.3zM154.1 427.6h1.3v1.3h-1.3zM133.4 442.5h1.3v1.3h-1.3zM163.5 420.6h1.3v1.3h-1.3zM215.4 396.3h1.3v1.3h-1.3zM164.0 420.0h1.3v1.3h-1.3zM239.3 385.2h1.3v1.3h-1.3zM228.4 389.9h1.3v1.3h-1.3zM124.5 450.4h1.3v1.3h-1.3zM112.0 460.8h1.3v1.3h-1.3zM194.3 400.9h1.3v1.3h-1.3zM145.9 429.5h1.3v1.3h-1.3zM131.8 443.2h1.3v1.3h-1.3zM230.4 388.3h1.3v1.3h-1.3zM178.6 410.0h1.3v1.3h-1.3zM132.3 443.5h1.3v1.3h-1.3zM176.3 414.4h1.3v1.3h-1.3zM174.4 415.0h1.3v1.3h-1.3zM211.6 399.1h1.3v1.3h-1.3zM153.8 425.6h1.3v1.3h-1.3zM167.5 418.5h1.3v1.3h-1.3zM114.9 459.4h1.3v1.3h-1.3zM219.0 394.1h1.3v1.3h-1.3zM229.5 386.4h1.3v1.3h-1.3zM92.5 475.8h1.3v1.3h-1.3zM205.0 400.9h1.3v1.3h-1.3zM237.6 390.3h1.3v1.3h-1.3zM220.5 393.5h1.3v1.3h-1.3zM211.6 398.1h1.3v1.3h-1.3zM124.3 447.8h1.3v1.3h-1.3zM240.2 384.5h1.3v1.3h-1.3zM147.9 433.3h1.3v1.3h-1.3zM220.3 390.2h1.3v1.3h-1.3zM208.4 397.0h1.3v1.3h-1.3zM182.8 406.2h1.3v1.3h-1.3zM236.3 389.4h1.3v1.3h-1.3zM235.2 386.4h1.3v1.3h-1.3zM158.5 425.1h1.3v1.3h-1.3zM162.7 418.8h1.3v1.3h-1.3zM227.1 386.8h1.3v1.3h-1.3zM159.6 426.5h1.3v1.3h-1.3zM222.0 390.8h1.3v1.3h-1.3zM126.1 447.1h1.3v1.3h-1.3zM129.9 445.6h1.3v1.3h-1.3zM150.1 430.8h1.3v1.3h-1.3zM138.3 435.3h1.3v1.3h-1.3zM159.9 421.6h1.3v1.3h-1.3zM125.3 448.6h1.3v1.3h-1.3zM116.7 455.6h1.3v1.3h-1.3zM149.0 431.1h1.3v1.3h-1.3zM118.7 453.4h1.3v1.3h-1.3zM143.4 434.1h1.3v1.3h-1.3zM151.4 429.3h1.3v1.3h-1.3zM232.9 386.0h1.3v1.3h-1.3zM154.5 425.5h1.3v1.3h-1.3zM180.4 409.9h1.3v1.3h-1.3zM230.2 388.4h1.3v1.3h-1.3zM158.5 423.9h1.3v1.3h-1.3zM133.3 441.4h1.3v1.3h-1.3zM176.9 412.4h1.3v1.3h-1.3zM215.4 394.0h1.3v1.3h-1.3zM134.6 441.7h1.3v1.3h-1.3zM202.3 400.5h1.3v1.3h-1.3zM164.1 418.4h1.3v1.3h-1.3zM171.1 418.0h1.3v1.3h-1.3zM188.4 403.6h1.3v1.3h-1.3zM162.1 422.8h1.3v1.3h-1.3zM120.0 451.9h1.3v1.3h-1.3zM126.7 448.2h1.3v1.3h-1.3zM99.4 471.0h1.3v1.3h-1.3zM223.9 386.8h1.3v1.3h-1.3zM189.5 407.2h1.3v1.3h-1.3zM232.4 388.2h1.3v1.3h-1.3zM139.6 436.6h1.3v1.3h-1.3zM175.7 414.3h1.3v1.3h-1.3zM177.4 411.7h1.3v1.3h-1.3zM113.0 458.8h1.3v1.3h-1.3zM175.2 412.0h1.3v1.3h-1.3zM182.6 411.1h1.3v1.3h-1.3zM156.7 426.3h1.3v1.3h-1.3zM144.3 435.1h1.3v1.3h-1.3zM127.5 445.8h1.3v1.3h-1.3zM103.7 468.3h1.3v1.3h-1.3zM181.6 413.8h1.3v1.3h-1.3zM121.5 451.5h1.3v1.3h-1.3zM104.2 465.7h1.3v1.3h-1.3zM239.1 384.5h1.3v1.3h-1.3zM225.2 391.7h1.3v1.3h-1.3zM146.1 434.3h1.3v1.3h-1.3zM162.5 420.3h1.3v1.3h-1.3zM122.7 447.9h1.3v1.3h-1.3zM239.5 386.1h1.3v1.3h-1.3zM137.1 439.2h1.3v1.3h-1.3zM217.0 393.8h1.3v1.3h-1.3zM203.8 400.1h1.3v1.3h-1.3zM94.7 473.2h1.3v1.3h-1.3zM97.7 471.5h1.3v1.3h-1.3zM157.9 424.0h1.3v1.3h-1.3zM96.7 472.6h1.3v1.3h-1.3zM229.4 391.2h1.3v1.3h-1.3zM237.1 386.0h1.3v1.3h-1.3zM183.7 407.5h1.3v1.3h-1.3zM137.9 440.6h1.3v1.3h-1.3zM124.0 450.5h1.3v1.3h-1.3zM112.5 458.9h1.3v1.3h-1.3zM176.9 409.6h1.3v1.3h-1.3zM115.7 455.4h1.3v1.3h-1.3zM125.0 448.9h1.3v1.3h-1.3zM199.7 402.1h1.3v1.3h-1.3zM222.0 390.3h1.3v1.3h-1.3zM186.8 408.2h1.3v1.3h-1.3zM235.0 385.3h1.3v1.3h-1.3zM214.3 393.7h1.3v1.3h-1.3zM156.8 426.1h1.3v1.3h-1.3zM145.6 432.5h1.3v1.3h-1.3zM121.7 451.6h1.3v1.3h-1.3zM212.0 397.2h1.3v1.3h-1.3zM167.7 420.2h1.3v1.3h-1.3zM223.1 389.8h1.3v1.3h-1.3zM165.9 418.9h1.3v1.3h-1.3zM222.9 388.3h1.3v1.3h-1.3zM200.1 398.3h1.3v1.3h-1.3zM177.3 413.1h1.3v1.3h-1.3zM202.4 398.7h1.3v1.3h-1.3zM202.0 396.3h1.3v1.3h-1.3zM99.1 470.7h1.3v1.3h-1.3zM213.0 393.3h1.3v1.3h-1.3zM108.4 462.2h1.3v1.3h-1.3zM172.9 415.8h1.3v1.3h-1.3zM164.8 420.7h1.3v1.3h-1.3zM206.0 398.0h1.3v1.3h-1.3zM124.8 446.1h1.3v1.3h-1.3zM196.4 403.6h1.3v1.3h-1.3zM210.0 395.1h1.3v1.3h-1.3zM143.6 432.1h1.3v1.3h-1.3zM178.8 407.8h1.3v1.3h-1.3zM154.0 429.3h1.3v1.3h-1.3zM205.0 398.8h1.3v1.3h-1.3zM224.0 390.8h1.3v1.3h-1.3zM168.3 418.9h1.3v1.3h-1.3zM93.9 474.5h1.3v1.3h-1.3zM229.7 385.4h1.3v1.3h-1.3zM179.8 412.4h1.3v1.3h-1.3zM119.1 454.8h1.3v1.3h-1.3zM201.6 401.1h1.3v1.3h-1.3zM159.8 425.8h1.3v1.3h-1.3zM118.3 456.6h1.3v1.3h-1.3zM143.2 433.4h1.3v1.3h-1.3zM183.2 408.5h1.3v1.3h-1.3zM142.1 436.9h1.3v1.3h-1.3zM113.2 458.7h1.3v1.3h-1.3zM100.5 469.3h1.3v1.3h-1.3zM149.7 431.5h1.3v1.3h-1.3zM201.1 401.7h1.3v1.3h-1.3zM143.7 433.6h1.3v1.3h-1.3zM153.5 427.6h1.3v1.3h-1.3zM212.1 394.0h1.3v1.3h-1.3zM187.7 406.6h1.3v1.3h-1.3zM239.1 382.9h1.3v1.3h-1.3zM216.7 389.5h1.3v1.3h-1.3zM232.5 386.5h1.3v1.3h-1.3zM168.2 416.9h1.3v1.3h-1.3zM207.7 399.1h1.3v1.3h-1.3zM241.5 387.8h1.3v1.3h-1.3zM93.9 474.6h1.3v1.3h-1.3zM162.3 422.4h1.3v1.3h-1.3zM203.3 398.1h1.3v1.3h-1.3zM126.7 446.1h1.3v1.3h-1.3zM102.7 467.1h1.3v1.3h-1.3zM167.4 417.9h1.3v1.3h-1.3zM101.9 468.3h1.3v1.3h-1.3zM115.7 456.5h1.3v1.3h-1.3zM99.7 471.3h1.3v1.3h-1.3z" fill="#6ba643"/>
<polygon points="91.8,475.6 92.6,475.6 93.4,475.8 94.2,475.4 95.0,475.6 95.8,473.9 96.6,471.7 97.4,469.9 98.2,468.1 99.0,466.1 99.8,464.4 100.6,462.9 101.4,460.0 102.2,458.9 103.0,457.3 103.8,456.1 104.6,453.7 105.4,452.3 106.2,450.3 107.0,448.8 107.8,446.7 108.6,445.5 109.4,443.9 110.2,442.4 111.0,441.0 111.8,439.4 112.6,438.0 113.4,436.6 114.2,435.1 115.0,432.9 115.8,431.9 116.6,430.1 117.4,429.2 118.2,427.8 119.0,425.7 119.8,425.5 120.6,423.4 121.4,422.5 122.2,420.9 123.0,419.7 123.8,418.8 124.6,416.6 125.4,416.4 126.2,414.5 127.0,413.8 127.8,412.7 128.6,411.1 129.4,410.5 130.2,408.8 131.0,407.1 131.8,406.3 132.6,405.4 133.4,404.9 134.2,402.9 135.0,403.0 135.8,400.8 136.6,400.0 137.4,399.0 138.2,397.7 139.0,396.5 139.8,396.7 140.6,393.8 141.4,395.2 142.2,392.4 143.0,391.6 143.8,390.9 144.6,389.9 145.4,389.1 146.2,388.1 147.0,387.4 147.8,385.9 148.6,385.5 149.4,384.9 150.2,383.7 151.0,383.1 151.8,382.5 152.6,380.7 153.4,380.2 154.2,379.0 155.0,377.6 155.8,378.4 156.6,376.8 157.4,376.8 158.2,376.7 159.0,374.5 159.8,374.0 160.6,373.3 161.4,371.6 162.2,371.5 163.0,371.4 163.8,370.6 164.6,369.1 165.4,369.4 166.2,367.8 167.0,366.6 167.8,366.6 168.6,366.8 169.4,365.5 170.2,365.5 171.0,364.5 171.8,364.7 172.6,362.3 173.4,361.9 174.2,360.9 175.0,360.5 175.8,360.8 176.6,359.8 177.4,359.2 178.2,358.5 179.0,358.0 179.8,357.4 180.6,356.9 181.4,356.1 182.2,355.2 183.0,354.7 183.8,355.1 184.6,354.1 185.4,354.1 186.2,352.4 187.0,352.4 187.8,352.3 188.6,351.9 189.4,352.4 190.2,349.8 191.0,350.1 191.8,349.6 192.6,349.5 193.4,349.3 194.2,347.9 195.0,348.2 195.8,347.0 196.6,345.9 197.4,346.6 198.2,346.2 199.0,346.3 199.8,344.9 200.6,343.3 201.4,344.0 202.2,344.6 203.0,342.5 203.8,343.8 204.6,342.6 205.4,341.8 206.2,342.1 207.0,340.7 207.8,340.7 208.6,341.0 209.4,340.6 210.2,339.6 211.0,340.9 211.8,339.0 212.6,338.7 213.4,338.7 214.2,339.2 215.0,338.2 215.8,337.4 216.6,336.8 217.4,336.7 218.2,335.7 219.0,335.1 219.8,335.9 220.6,335.0 221.4,335.1 222.2,334.3 223.0,334.3 223.8,335.1 224.6,334.3 225.4,334.1 226.2,333.7 227.0,331.6 227.8,332.1 228.6,331.6 229.4,332.4 230.2,332.0 231.0,331.3 231.8,331.4 232.6,331.7 233.4,331.4 234.2,331.1 235.0,330.7 235.8,330.5 236.6,329.3 237.4,329.5 238.2,329.7 239.0,329.3 239.8,330.2 240.6,328.1 241.4,327.3 242.2,328.4 242.2,334.7 241.4,333.4 240.6,335.4 239.8,333.6 239.0,335.5 238.2,334.4 237.4,336.3 236.6,335.7 235.8,336.7 235.0,336.0 234.2,335.8 233.4,336.6 232.6,337.4 231.8,336.2 231.0,338.2 230.2,337.4 229.4,338.6 228.6,338.2 227.8,339.2 227.0,339.3 226.2,340.5 225.4,339.7 224.6,339.1 223.8,340.3 223.0,341.2 222.2,340.8 221.4,340.6 220.6,341.3 219.8,341.5 219.0,343.1 218.2,342.5 217.4,342.8 216.6,342.7 215.8,344.5 215.0,344.6 214.2,344.3 213.4,344.4 212.6,344.5 211.8,345.3 211.0,345.5 210.2,346.5 209.4,346.7 208.6,347.4 207.8,347.9 207.0,347.5 206.2,347.6 205.4,348.7 204.6,349.1 203.8,349.0 203.0,350.1 202.2,350.0 201.4,350.0 200.6,352.9 199.8,351.6 199.0,351.2 198.2,352.2 197.4,351.8 196.6,352.5 195.8,354.0 195.0,353.9 194.2,354.6 193.4,354.7 192.6,355.0 191.8,355.9 191.0,356.6 190.2,357.3 189.4,357.1 188.6,356.9 187.8,358.3 187.0,358.3 186.2,360.0 185.4,360.2 184.6,359.3 183.8,361.4 183.0,361.2 182.2,362.5 181.4,362.4 180.6,363.2 179.8,364.4 179.0,364.5 178.2,364.9 177.4,364.9 176.6,365.9 175.8,366.5 175.0,367.3 174.2,369.2 173.4,368.7 172.6,369.6 171.8,371.2 171.0,370.0 170.2,371.4 169.4,370.9 168.6,371.0 167.8,374.0 167.0,374.0 166.2,374.6 165.4,374.6 164.6,377.6 163.8,376.7 163.0,378.1 162.2,377.4 161.4,379.3 160.6,379.6 159.8,380.3 159.0,380.9 158.2,381.9 157.4,382.9 156.6,383.4 155.8,384.0 155.0,384.9 154.2,385.8 153.4,387.4 152.6,386.8 151.8,387.8 151.0,388.4 150.2,390.1 149.4,390.5 148.6,391.5 147.8,393.2 147.0,392.8 146.2,393.7 145.4,394.7 144.6,396.2 143.8,397.2 143.0,397.7 142.2,399.1 141.4,399.3 140.6,401.1 139.8,401.1 139.0,403.1 138.2,404.0 137.4,404.8 136.6,406.2 135.8,406.9 135.0,407.9 134.2,408.3 133.4,410.2 132.6,411.4 131.8,412.6 131.0,413.5 130.2,414.5 129.4,414.7 128.6,416.7 127.8,418.0 127.0,419.3 126.2,420.3 125.4,421.8 124.6,422.2 123.8,424.0 123.0,425.0 122.2,425.9 121.4,428.1 120.6,429.3 119.8,430.2 119.0,431.8 118.2,433.3 117.4,434.2 116.6,435.3 115.8,437.2 115.0,438.4 114.2,439.9 113.4,441.0 112.6,442.6 111.8,444.0 111.0,446.0 110.2,447.0 109.4,448.7 108.6,449.9 107.8,451.6 107.0,453.4 106.2,454.5 105.4,456.8 104.6,458.8 103.8,459.5 103.0,461.6 102.2,463.1 101.4,464.4 100.6,467.0 99.8,468.4 99.0,470.3 98.2,472.1 97.4,474.3 96.6,476.1 95.8,478.4 95.0,477.1 94.2,477.2 93.4,477.1 92.6,476.7 91.8,477.2" fill="#2e4c7f"/>
<path d="M121.7 420.0h1.3v1.3h-1.3zM163.5 371.3h1.3v1.3h-1.3zM149.8 384.8h1.3v1.3h-1.3zM183.9 356.1h1.3v1.3h-1.3zM129.5 405.5h1.3v1.3h-1.3zM107.2 448.6h1.3v1.3h-1.3zM163.4 365.3h1.3v1.3h-1.3zM187.7 355.1h1.3v1.3h-1.3zM149.5 387.5h1.3v1.3h-1.3zM239.7 332.4h1.3v1.3h-1.3zM152.8 379.7h1.3v1.3h-1.3zM137.0 403.2h1.3v1.3h-1.3zM213.8 338.4h1.3v1.3h-1.3zM161.9 370.9h1.3v1.3h-1.3zM133.0 404.0h1.3v1.3h-1.3zM135.0 401.6h1.3v1.3h-1.3zM233.7 333.3h1.3v1.3h-1.3zM235.8 334.1h1.3v1.3h-1.3zM188.7 348.5h1.3v1.3h-1.3zM133.8 403.9h1.3v1.3h-1.3zM198.4 350.3h1.3v1.3h-1.3zM124.5 418.9h1.3v1.3h-1.3zM140.3 398.0h1.3v1.3h-1.3zM173.1 360.7h1.3v1.3h-1.3zM152.1 385.8h1.3v1.3h-1.3zM144.6 387.9h1.3v1.3h-1.3zM237.7 332.0h1.3v1.3h-1.3zM117.6 432.6h1.3v1.3h-1.3zM183.9 361.6h1.3v1.3h-1.3zM97.9 469.5h1.3v1.3h-1.3zM105.9 453.1h1.3v1.3h-1.3zM123.5 418.7h1.3v1.3h-1.3zM240.3 329.6h1.3v1.3h-1.3zM200.7 349.7h1.3v1.3h-1.3zM221.8 337.2h1.3v1.3h-1.3zM99.6 464.7h1.3v1.3h-1.3zM194.0 347.1h1.3v1.3h-1.3zM157.9 378.1h1.3v1.3h-1.3zM154.4 382.8h1.3v1.3h-1.3zM198.0 346.4h1.3v1.3h-1.3zM138.2 398.2h1.3v1.3h-1.3zM168.9 372.1h1.3v1.3h-1.3zM131.1 409.2h1.3v1.3h-1.3zM150.6 384.3h1.3v1.3h-1.3zM171.8 362.6h1.3v1.3h-1.3zM115.8 431.5h1.3v1.3h-1.3zM133.4 405.1h1.3v1.3h-1.3zM155.0 384.0h1.3v1.3h-1.3zM162.8 371.6h1.3v1.3h-1.3zM211.7 345.8h1.3v1.3h-1.3zM188.2 351.7h1.3v1.3h-1.3zM176.2 361.3h1.3v1.3h-1.3zM222.1 339.1h1.3v1.3h-1.3zM121.6 422.5h1.3v1.3h-1.3zM107.7 446.1h1.3v1.3h-1.3zM151.0 384.3h1.3v1.3h-1.3zM112.7 439.3h1.3v1.3h-1.3zM175.2 358.6h1.3v1.3h-1.3zM177.9 360.4h1.3v1.3h-1.3zM111.8 439.7h1.3v1.3h-1.3zM199.1 346.7h1.3v1.3h-1.3zM175.3 364.8h1.3v1.3h-1.3zM155.4 378.7h1.3v1.3h-1.3zM229.2 333.5h1.3v1.3h-1.3zM220.0 338.0h1.3v1.3h-1.3zM125.2 419.1h1.3v1.3h-1.3zM117.1 430.1h1.3v1.3h-1.3zM228.9 338.2h1.3v1.3h-1.3zM115.7 431.1h1.3v1.3h-1.3zM205.3 347.6h1.3v1.3h-1.3zM138.9 396.6h1.3v1.3h-1.3zM146.1 389.6h1.3v1.3h-1.3zM174.9 364.2h1.3v1.3h-1.3zM230.5 338.9h1.3v1.3h-1.3zM92.5 476.2h1.3v1.3h-1.3zM116.4 430.8h1.3v1.3h-1.3zM199.8 350.5h1.3v1.3h-1.3zM151.1 384.0h1.3v1.3h-1.3zM135.2 401.5h1.3v1.3h-1.3zM236.0 333.2h1.3v1.3h-1.3zM131.6 408.4h1.3v1.3h-1.3zM198.9 350.2h1.3v1.3h-1.3zM236.2 330.7h1.3v1.3h-1.3zM206.1 345.0h1.3v1.3h-1.3zM198.1 349.8h1.3v1.3h-1.3zM200.2 347.8h1.3v1.3h-1.3zM212.5 341.1h1.3v1.3h-1.3zM132.7 405.1h1.3v1.3h-1.3zM185.8 357.9h1.3v1.3h-1.3zM212.1 341.6h1.3v1.3h-1.3zM224.9 337.2h1.3v1.3h-1.3zM227.5 334.2h1.3v1.3h-1.3zM227.2 335.2h1.3v1.3h-1.3zM106.7 447.7h1.3v1.3h-1.3zM148.4 387.6h1.3v1.3h-1.3zM160.3 377.3h1.3v1.3h-1.3zM225.4 336.0h1.3v1.3h-1.3zM154.8 382.9h1.3v1.3h-1.3zM131.7 408.7h1.3v1.3h-1.3zM95.1 478.0h1.3v1.3h-1.3zM135.3 402.7h1.3v1.3h-1.3zM208.8 338.8h1.3v1.3h-1.3zM95.2 476.1h1.3v1.3h-1.3zM116.8 430.6h1.3v1.3h-1.3zM138.6 396.6h1.3v1.3h-1.3zM171.6 367.4h1.3v1.3h-1.3zM146.4 390.3h1.3v1.3h-1.3zM224.0 337.4h1.3v1.3h-1.3zM123.2 419.8h1.3v1.3h-1.3zM176.1 362.9h1.3v1.3h-1.3zM208.4 343.6h1.3v1.3h-1.3zM231.0 338.1h1.3v1.3h-1.3zM222.7 335.2h1.3v1.3h-1.3zM112.4 438.8h1.3v1.3h-1.3zM210.5 342.9h1.3v1.3h-1.3zM193.1 346.8h1.3v1.3h-1.3zM155.2 376.4h1.3v1.3h-1.3zM96.0 477.0h1.3v1.3h-1.3zM117.3 426.4h1.3v1.3h-1.3zM204.1 346.5h1.3v1.3h-1.3zM104.7 452.2h1.3v1.3h-1.3zM138.9 396.8h1.3v1.3h-1.3zM130.3 405.5h1.3v1.3h-1.3zM203.6 343.1h1.3v1.3h-1.3zM145.8 392.2h1.3v1.3h-1.3zM105.2 450.3h1.3v1.3h-1.3zM147.5 389.9h1.3v1.3h-1.3zM141.0 396.7h1.3v1.3h-1.3zM199.3 352.6h1.3v1.3h-1.3zM140.0 396.1h1.3v1.3h-1.3zM195.8 352.7h1.3v1.3h-1.3zM172.6 367.3h1.3v1.3h-1.3zM224.8 335.3h1.3v1.3h-1.3zM201.7 342.2h1.3v1.3h-1.3zM153.1 386.2h1.3v1.3h-1.3zM164.6 368.1h1.3v1.3h-1.3zM162.6 372.2h1.3v1.3h-1.3zM222.4 339.1h1.3v1.3h-1.3zM112.8 440.4h1.3v1.3h-1.3zM155.5 377.9h1.3v1.3h-1.3zM172.1 365.3h1.3v1.3h-1.3zM157.3 377.6h1.3v1.3h-1.3zM181.5 361.5h1.3v1.3h-1.3zM166.7 376.3h1.3v1.3h-1.3zM154.0 377.0h1.3v1.3h-1.3zM194.8 352.4h1.3v1.3h-1.3zM141.4 388.7h1.3v1.3h-1.3zM182.8 357.6h1.3v1.3h-1.3zM201.0 344.0h1.3v1.3h-1.3zM111.7 444.2h1.3v1.3h-1.3zM140.9 396.4h1.3v1.3h-1.3zM233.3 331.2h1.3v1.3h-1.3zM236.5 330.7h1.3v1.3h-1.3zM240.4 329.3h1.3v1.3h-1.3zM98.5 467.6h1.3v1.3h-1.3zM215.6 339.3h1.3v1.3h-1.3zM231.9 335.1h1.3v1.3h-1.3zM226.9 339.0h1.3v1.3h-1.3zM199.0 349.5h1.3v1.3h-1.3zM193.1 348.1h1.3v1.3h-1.3zM199.7 343.4h1.3v1.3h-1.3zM178.1 359.0h1.3v1.3h-1.3zM210.0 344.8h1.3v1.3h-1.3zM167.2 368.5h1.3v1.3h-1.3zM125.9 414.9h1.3v1.3h-1.3zM106.3 450.9h1.3v1.3h-1.3zM227.9 331.5h1.3v1.3h-1.3zM204.9 341.9h1.3v1.3h-1.3zM118.6 429.0h1.3v1.3h-1.3zM215.0 339.3h1.3v1.3h-1.3zM137.0 399.8h1.3v1.3h-1.3zM187.1 355.5h1.3v1.3h-1.3zM145.4 389.4h1.3v1.3h-1.3zM124.2 417.5h1.3v1.3h-1.3zM118.4 427.3h1.3v1.3h-1.3zM102.8 458.9h1.3v1.3h-1.3zM103.3 456.9h1.3v1.3h-1.3zM102.5 456.4h1.3v1.3h-1.3zM105.6 451.4h1.3v1.3h-1.3zM216.8 340.8h1.3v1.3h-1.3zM169.5 372.3h1.3v1.3h-1.3zM111.4 438.4h1.3v1.3h-1.3zM170.6 367.5h1.3v1.3h-1.3zM173.2 363.8h1.3v1.3h-1.3zM166.4 372.2h1.3v1.3h-1.3zM123.0 421.8h1.3v1.3h-1.3zM157.1 382.2h1.3v1.3h-1.3zM222.3 338.3h1.3v1.3h-1.3zM149.5 384.9h1.3v1.3h-1.3zM167.5 367.8h1.3v1.3h-1.3zM231.1 334.7h1.3v1.3h-1.3zM126.9 415.7h1.3v1.3h-1.3zM200.6 352.8h1.3v1.3h-1.3zM164.4 376.0h1.3v1.3h-1.3zM209.8 339.5h1.3v1.3h-1.3zM145.9 391.1h1.3v1.3h-1.3zM173.2 361.1h1.3v1.3h-1.3zM147.2 384.8h1.3v1.3h-1.3zM221.6 339.1h1.3v1.3h-1.3zM228.8 335.9h1.3v1.3h-1.3zM186.6 352.5h1.3v1.3h-1.3zM238.7 335.2h1.3v1.3h-1.3zM201.5 344.0h1.3v1.3h-1.3zM216.2 336.6h1.3v1.3h-1.3zM225.8 337.2h1.3v1.3h-1.3zM132.8 407.0h1.3v1.3h-1.3zM239.6 330.6h1.3v1.3h-1.3zM150.5 385.0h1.3v1.3h-1.3zM166.4 370.6h1.3v1.3h-1.3zM119.1 426.8h1.3v1.3h-1.3zM214.9 339.6h1.3v1.3h-1.3zM142.5 389.6h1.3v1.3h-1.3zM195.2 346.6h1.3v1.3h-1.3zM124.8 419.4h1.3v1.3h-1.3zM144.7 389.9h1.3v1.3h-1.3zM149.6 387.5h1.3v1.3h-1.3zM127.5 416.8h1.3v1.3h-1.3zM97.4 469.3h1.3v1.3h-1.3zM207.2 344.2h1.3v1.3h-1.3zM234.1 337.8h1.3v1.3h-1.3zM126.0 417.8h1.3v1.3h-1.3zM116.5 435.5h1.3v1.3h-1.3zM144.1 396.0h1.3v1.3h-1.3zM104.5 455.5h1.3v1.3h-1.3zM189.2 353.1h1.3v1.3h-1.3zM147.2 386.7h1.3v1.3h-1.3zM176.2 359.4h1.3v1.3h-1.3zM227.5 336.2h1.3v1.3h-1.3zM220.9 338.7h1.3v1.3h-1.3zM229.9 333.8h1.3v1.3h-1.3zM231.9 335.5h1.3v1.3h-1.3zM180.3 357.8h1.3v1.3h-1.3zM167.2 372.2h1.3v1.3h-1.3zM97.8 469.1h1.3v1.3h-1.3zM107.5 448.1h1.3v1.3h-1.3zM170.4 366.7h1.3v1.3h-1.3zM220.1 337.7h1.3v1.3h-1.3zM156.8 385.0h1.3v1.3h-1.3zM92.7 474.6h1.3v1.3h-1.3zM123.9 419.9h1.3v1.3h-1.3zM205.7 347.3h1.3v1.3h-1.3zM115.8 434.2h1.3v1.3h-1.3zM122.0 421.8h1.3v1.3h-1.3zM134.8 407.8h1.3v1.3h-1.3zM183.2 354.6h1.3v1.3h-1.3zM217.1 335.9h1.3v1.3h-1.3zM124.9 419.2h1.3v1.3h-1.3zM181.7 354.6h1.3v1.3h-1.3zM171.3 359.8h1.3v1.3h-1.3zM158.6 379.2h1.3v1.3h-1.3zM178.9 362.3h1.3v1.3h-1.3zM213.8 342.3h1.3v1.3h-1.3zM124.7 417.2h1.3v1.3h-1.3zM166.4 370.5h1.3v1.3h-1.3zM106.8 447.7h1.3v1.3h-1.3zM168.8 372.5h1.3v1.3h-1.3zM210.3 344.0h1.3v1.3h-1.3zM241.3 332.2h1.3v1.3h-1.3zM163.2 367.8h1.3v1.3h-1.3zM136.5 403.5h1.3v1.3h-1.3zM178.7 364.2h1.3v1.3h-1.3zM147.7 391.2h1.3v1.3h-1.3zM109.6 445.5h1.3v1.3h-1.3zM170.5 366.6h1.3v1.3h-1.3zM211.6 340.7h1.3v1.3h-1.3zM225.3 337.3h1.3v1.3h-1.3zM238.3 332.3h1.3v1.3h-1.3zM147.1 389.4h1.3v1.3h-1.3zM129.8 410.0h1.3v1.3h-1.3zM108.7 449.0h1.3v1.3h-1.3zM157.3 375.3h1.3v1.3h-1.3zM212.7 341.0h1.3v1.3h-1.3zM127.2 413.1h1.3v1.3h-1.3zM219.1 340.8h1.3v1.3h-1.3zM198.5 351.6h1.3v1.3h-1.3zM122.2 424.9h1.3v1.3h-1.3zM186.5 357.0h1.3v1.3h-1.3zM214.6 336.8h1.3v1.3h-1.3zM231.5 338.7h1.3v1.3h-1.3zM116.4 432.8h1.3v1.3h-1.3zM215.0 339.8h1.3v1.3h-1.3zM208.1 343.2h1.3v1.3h-1.3zM128.6 411.7h1.3v1.3h-1.3zM136.2 403.0h1.3v1.3h-1.3zM235.2 333.1h1.3v1.3h-1.3zM146.2 388.9h1.3v1.3h-1.3zM135.3 397.1h1.3v1.3h-1.3zM199.7 347.3h1.3v1.3h-1.3zM112.0 440.5h1.3v1.3h-1.3zM164.3 373.2h1.3v1.3h-1.3zM145.7 390.1h1.3v1.3h-1.3zM173.4 365.5h1.3v1.3h-1.3zM182.3 360.5h1.3v1.3h-1.3zM187.8 353.1h1.3v1.3h-1.3zM156.8 382.5h1.3v1.3h-1.3zM224.7 331.3h1.3v1.3h-1.3zM217.0 336.1h1.3v1.3h-1.3zM231.6 331.4h1.3v1.3h-1.3zM158.8 370.7h1.3v1.3h-1.3zM201.2 344.1h1.3v1.3h-1.3zM156.5 382.2h1.3v1.3h-1.3zM133.8 408.0h1.3v1.3h-1.3zM189.6 353.5h1.3v1.3h-1.3zM233.5 337.1h1.3v1.3h-1.3zM212.3 341.8h1.3v1.3h-1.3zM134.8 402.7h1.3v1.3h-1.3zM126.2 416.4h1.3v1.3h-1.3zM207.4 343.1h1.3v1.3h-1.3zM197.5 350.4h1.3v1.3h-1.3zM221.2 333.8h1.3v1.3h-1.3zM114.0 437.9h1.3v1.3h-1.3zM220.9 336.4h1.3v1.3h-1.3zM156.8 380.9h1.3v1.3h-1.3zM133.0 402.7h1.3v1.3h-1.3zM143.4 392.0h1.3v1.3h-1.3zM240.6 330.9h1.3v1.3h-1.3zM235.0 334.6h1.3v1.3h-1.3zM104.7 451.6h1.3v1.3h-1.3zM139.3 402.0h1.3v1.3h-1.3zM199.7 348.6h1.3v1.3h-1.3zM97.4 468.9h1.3v1.3h-1.3zM97.5 471.6h1.3v1.3h-1.3zM98.9 466.6h1.3v1.3h-1.3zM221.9 340.0h1.3v1.3h-1.3zM142.0 400.3h1.3v1.3h-1.3zM139.8 399.3h1.3v1.3h-1.3zM210.7 340.7h1.3v1.3h-1.3zM139.8 396.5h1.3v1.3h-1.3zM202.5 347.4h1.3v1.3h-1.3zM147.3 389.3h1.3v1.3h-1.3zM136.6 399.5h1.3v1.3h-1.3zM150.0 384.1h1.3v1.3h-1.3zM117.3 431.6h1.3v1.3h-1.3zM103.4 460.8h1.3v1.3h-1.3zM222.3 330.6h1.3v1.3h-1.3zM221.9 338.9h1.3v1.3h-1.3zM161.0 374.3h1.3v1.3h-1.3zM195.0 351.9h1.3v1.3h-1.3zM221.0 339.6h1.3v1.3h-1.3zM150.5 385.3h1.3v1.3h-1.3zM198.5 345.5h1.3v1.3h-1.3zM204.9 341.3h1.3v1.3h-1.3zM103.8 452.3h1.3v1.3h-1.3zM112.8 440.6h1.3v1.3h-1.3zM204.3 344.5h1.3v1.3h-1.3zM197.6 347.2h1.3v1.3h-1.3zM119.8 425.3h1.3v1.3h-1.3zM215.7 336.5h1.3v1.3h-1.3zM211.8 342.2h1.3v1.3h-1.3zM141.9 398.0h1.3v1.3h-1.3zM143.0 396.3h1.3v1.3h-1.3zM108.7 442.8h1.3v1.3h-1.3zM158.7 380.4h1.3v1.3h-1.3zM108.6 444.6h1.3v1.3h-1.3zM173.3 359.5h1.3v1.3h-1.3zM185.5 352.7h1.3v1.3h-1.3zM179.1 357.7h1.3v1.3h-1.3zM102.9 457.6h1.3v1.3h-1.3zM185.0 353.5h1.3v1.3h-1.3zM204.5 341.2h1.3v1.3h-1.3zM113.4 436.5h1.3v1.3h-1.3zM181.1 363.6h1.3v1.3h-1.3zM214.5 338.5h1.3v1.3h-1.3zM121.1 424.9h1.3v1.3h-1.3zM228.6 334.8h1.3v1.3h-1.3zM237.4 338.1h1.3v1.3h-1.3zM198.5 343.4h1.3v1.3h-1.3zM222.4 339.6h1.3v1.3h-1.3zM132.8 403.6h1.3v1.3h-1.3zM191.5 350.6h1.3v1.3h-1.3zM230.5 333.7h1.3v1.3h-1.3zM98.8 471.8h1.3v1.3h-1.3zM214.8 338.2h1.3v1.3h-1.3zM127.6 409.7h1.3v1.3h-1.3zM211.8 344.6h1.3v1.3h-1.3zM188.1 352.0h1.3v1.3h-1.3zM211.9 340.8h1.3v1.3h-1.3zM152.1 383.5h1.3v1.3h-1.3zM159.4 376.5h1.3v1.3h-1.3zM230.3 333.6h1.3v1.3h-1.3zM102.8 458.3h1.3v1.3h-1.3zM115.5 434.1h1.3v1.3h-1.3zM237.5 333.7h1.3v1.3h-1.3zM228.6 333.6h1.3v1.3h-1.3zM114.1 434.2h1.3v1.3h-1.3zM237.6 329.0h1.3v1.3h-1.3zM131.8 409.2h1.3v1.3h-1.3zM225.4 335.7h1.3v1.3h-1.3zM227.3 336.4h1.3v1.3h-1.3zM95.7 474.9h1.3v1.3h-1.3zM93.6 476.7h1.3v1.3h-1.3zM141.0 396.4h1.3v1.3h-1.3zM231.3 335.5h1.3v1.3h-1.3zM210.4 339.1h1.3v1.3h-1.3zM150.0 383.1h1.3v1.3h-1.3zM220.3 337.0h1.3v1.3h-1.3zM138.1 396.7h1.3v1.3h-1.3zM144.1 394.0h1.3v1.3h-1.3zM120.6 421.7h1.3v1.3h-1.3zM235.5 332.4h1.3v1.3h-1.3zM212.2 335.3h1.3v1.3h-1.3zM161.2 371.8h1.3v1.3h-1.3zM131.6 407.3h1.3v1.3h-1.3zM236.5 331.3h1.3v1.3h-1.3zM151.4 379.8h1.3v1.3h-1.3zM123.6 420.1h1.3v1.3h-1.3zM155.6 382.4h1.3v1.3h-1.3zM199.6 349.0h1.3v1.3h-1.3zM207.3 341.9h1.3v1.3h-1.3zM108.4 445.2h1.3v1.3h-1.3zM233.5 330.1h1.3v1.3h-1.3zM192.9 352.7h1.3v1.3h-1.3zM101.5 463.1h1.3v1.3h-1.3zM217.3 337.8h1.3v1.3h-1.3zM237.4 327.5h1.3v1.3h-1.3zM217.3 339.5h1.3v1.3h-1.3zM93.6 476.1h1.3v1.3h-1.3zM162.8 366.2h1.3v1.3h-1.3zM180.2 359.7h1.3v1.3h-1.3zM224.8 341.3h1.3v1.3h-1.3zM167.3 371.4h1.3v1.3h-1.3zM103.7 456.8h1.3v1.3h-1.3zM231.6 334.5h1.3v1.3h-1.3zM234.4 335.2h1.3v1.3h-1.3zM164.8 369.0h1.3v1.3h-1.3zM100.1 462.2h1.3v1.3h-1.3zM217.5 339.9h1.3v1.3h-1.3zM203.0 344.0h1.3v1.3h-1.3zM237.3 332.3h1.3v1.3h-1.3zM93.3 474.5h1.3v1.3h-1.3zM157.2 380.3h1.3v1.3h-1.3zM134.6 406.1h1.3v1.3h-1.3zM108.3 446.8h1.3v1.3h-1.3zM202.0 346.6h1.3v1.3h-1.3zM143.1 397.3h1.3v1.3h-1.3zM98.0 466.7h1.3v1.3h-1.3zM112.1 437.5h1.3v1.3h-1.3zM212.6 338.4h1.3v1.3h-1.3zM182.7 356.6h1.3v1.3h-1.3zM124.3 416.6h1.3v1.3h-1.3zM196.2 349.4h1.3v1.3h-1.3zM111.6 438.9h1.3v1.3h-1.3zM192.7 347.7h1.3v1.3h-1.3zM190.0 349.1h1.3v1.3h-1.3zM93.0 476.4h1.3v1.3h-1.3zM168.6 368.0h1.3v1.3h-1.3zM200.7 346.3h1.3v1.3h-1.3zM205.5 344.5h1.3v1.3h-1.3zM197.6 348.3h1.3v1.3h-1.3zM224.4 338.0h1.3v1.3h-1.3zM205.1 346.0h1.3v1.3h-1.3zM229.9 332.7h1.3v1.3h-1.3zM154.1 379.4h1.3v1.3h-1.3zM97.3 468.4h1.3v1.3h-1.3zM119.2 424.2h1.3v1.3h-1.3zM135.2 406.6h1.3v1.3h-1.3zM98.4 466.0h1.3v1.3h-1.3zM108.3 442.6h1.3v1.3h-1.3zM169.7 365.1h1.3v1.3h-1.3zM129.9 408.8h1.3v1.3h-1.3zM134.8 404.6h1.3v1.3h-1.3zM202.9 343.5h1.3v1.3h-1.3zM219.9 339.3h1.3v1.3h-1.3zM221.0 338.5h1.3v1.3h-1.3zM147.5 391.5h1.3v1.3h-1.3zM198.2 353.5h1.3v1.3h-1.3zM219.5 345.0h1.3v1.3h-1.3zM114.7 437.5h1.3v1.3h-1.3zM122.1 419.7h1.3v1.3h-1.3zM189.0 352.6h1.3v1.3h-1.3zM131.8 408.4h1.3v1.3h-1.3zM120.9 428.6h1.3v1.3h-1.3zM147.1 390.5h1.3v1.3h-1.3zM94.6 476.4h1.3v1.3h-1.3zM157.6 377.5h1.3v1.3h-1.3zM99.2 466.6h1.3v1.3h-1.3zM128.7 413.9h1.3v1.3h-1.3zM124.7 417.2h1.3v1.3h-1.3zM141.4 397.3h1.3v1.3h-1.3zM110.9 443.7h1.3v1.3h-1.3zM162.6 373.0h1.3v1.3h-1.3zM194.9 352.5h1.3v1.3h-1.3zM142.8 397.7h1.3v1.3h-1.3zM230.7 334.1h1.3v1.3h-1.3zM220.6 337.7h1.3v1.3h-1.3zM137.9 399.1h1.3v1.3h-1.3zM98.0 467.5h1.3v1.3h-1.3zM206.9 344.1h1.3v1.3h-1.3zM128.0 412.3h1.3v1.3h-1.3zM141.8 394.3h1.3v1.3h-1.3zM178.7 358.5h1.3v1.3h-1.3zM241.4 326.7h1.3v1.3h-1.3zM136.9 398.8h1.3v1.3h-1.3zM162.2 374.6h1.3v1.3h-1.3zM185.9 352.6h1.3v1.3h-1.3zM194.3 348.8h1.3v1.3h-1.3zM123.9 423.1h1.3v1.3h-1.3zM181.1 361.6h1.3v1.3h-1.3zM173.5 362.5h1.3v1.3h-1.3zM190.6 354.1h1.3v1.3h-1.3zM109.3 443.3h1.3v1.3h-1.3zM111.0 444.6h1.3v1.3h-1.3zM237.9 330.1h1.3v1.3h-1.3zM214.9 340.3h1.3v1.3h-1.3zM215.8 343.0h1.3v1.3h-1.3zM231.7 331.5h1.3v1.3h-1.3zM235.7 335.4h1.3v1.3h-1.3zM150.9 382.7h1.3v1.3h-1.3zM204.8 345.3h1.3v1.3h-1.3zM188.0 353.4h1.3v1.3h-1.3zM175.8 362.3h1.3v1.3h-1.3zM193.7 351.2h1.3v1.3h-1.3zM139.9 397.1h1.3v1.3h-1.3zM221.0 335.1h1.3v1.3h-1.3zM153.0 384.7h1.3v1.3h-1.3zM114.3 436.9h1.3v1.3h-1.3zM93.8 476.4h1.3v1.3h-1.3zM187.7 357.9h1.3v1.3h-1.3zM126.8 412.1h1.3v1.3h-1.3zM235.0 335.6h1.3v1.3h-1.3zM121.3 426.4h1.3v1.3h-1.3zM139.4 396.7h1.3v1.3h-1.3zM239.2 333.6h1.3v1.3h-1.3zM169.8 371.0h1.3v1.3h-1.3zM229.9 332.9h1.3v1.3h-1.3zM208.9 339.4h1.3v1.3h-1.3zM109.9 442.7h1.3v1.3h-1.3zM124.4 424.8h1.3v1.3h-1.3zM150.0 386.3h1.3v1.3h-1.3zM223.8 333.5h1.3v1.3h-1.3zM142.1 394.1h1.3v1.3h-1.3zM161.3 372.0h1.3v1.3h-1.3zM164.0 371.1h1.3v1.3h-1.3zM140.7 396.6h1.3v1.3h-1.3zM209.7 336.2h1.3v1.3h-1.3zM100.4 463.7h1.3v1.3h-1.3zM125.9 419.5h1.3v1.3h-1.3zM215.4 339.3h1.3v1.3h-1.3zM184.2 355.7h1.3v1.3h-1.3zM168.6 371.0h1.3v1.3h-1.3zM147.4 385.5h1.3v1.3h-1.3zM111.6 437.8h1.3v1.3h-1.3zM160.4 371.8h1.3v1.3h-1.3zM239.6 330.6h1.3v1.3h-1.3zM181.1 359.8h1.3v1.3h-1.3zM178.3 360.5h1.3v1.3h-1.3zM240.1 332.2h1.3v1.3h-1.3zM224.4 338.2h1.3v1.3h-1.3zM241.4 331.6h1.3v1.3h-1.3zM234.6 330.6h1.3v1.3h-1.3zM191.9 351.1h1.3v1.3h-1.3zM137.8 402.9h1.3v1.3h-1.3zM186.0 352.8h1.3v1.3h-1.3zM144.2 391.6h1.3v1.3h-1.3zM213.3 339.7h1.3v1.3h-1.3zM112.7 437.9h1.3v1.3h-1.3zM161.3 371.8h1.3v1.3h-1.3zM217.8 335.6h1.3v1.3h-1.3zM160.1 382.1h1.3v1.3h-1.3zM182.0 360.6h1.3v1.3h-1.3zM106.8 448.1h1.3v1.3h-1.3zM134.8 403.7h1.3v1.3h-1.3zM234.8 334.2h1.3v1.3h-1.3zM190.3 351.9h1.3v1.3h-1.3zM146.7 390.8h1.3v1.3h-1.3zM169.4 366.0h1.3v1.3h-1.3zM207.9 342.4h1.3v1.3h-1.3zM209.8 342.1h1.3v1.3h-1.3zM215.9 338.5h1.3v1.3h-1.3zM135.4 397.3h1.3v1.3h-1.3zM127.8 413.7h1.3v1.3h-1.3zM187.6 355.1h1.3v1.3h-1.3zM170.9 367.6h1.3v1.3h-1.3zM176.6 359.4h1.3v1.3h-1.3zM124.2 419.7h1.3v1.3h-1.3zM139.8 398.0h1.3v1.3h-1.3zM204.5 340.6h1.3v1.3h-1.3zM145.7 385.1h1.3v1.3h-1.3zM205.3 345.7h1.3v1.3h-1.3zM99.1 464.3h1.3v1.3h-1.3zM234.2 335.1h1.3v1.3h-1.3zM123.2 425.2h1.3v1.3h-1.3zM163.6 371.0h1.3v1.3h-1.3zM229.7 332.6h1.3v1.3h-1.3zM130.0 410.3h1.3v1.3h-1.3zM126.1 417.5h1.3v1.3h-1.3zM239.4 328.3h1.3v1.3h-1.3zM227.3 338.1h1.3v1.3h-1.3zM171.7 368.3h1.3v1.3h-1.3zM101.3 462.2h1.3v1.3h-1.3zM182.5 356.4h1.3v1.3h-1.3zM129.7 412.8h1.3v1.3h-1.3zM124.1 421.0h1.3v1.3h-1.3zM231.4 330.7h1.3v1.3h-1.3zM184.7 361.6h1.3v1.3h-1.3zM158.5 376.4h1.3v1.3h-1.3zM101.5 461.2h1.3v1.3h-1.3zM147.7 386.9h1.3v1.3h-1.3zM221.2 338.3h1.3v1.3h-1.3zM137.4 403.2h1.3v1.3h-1.3zM140.4 394.8h1.3v1.3h-1.3zM182.8 353.4h1.3v1.3h-1.3zM129.8 409.6h1.3v1.3h-1.3zM175.4 359.5h1.3v1.3h-1.3zM207.0 341.8h1.3v1.3h-1.3zM135.0 403.3h1.3v1.3h-1.3zM162.8 373.0h1.3v1.3h-1.3zM178.3 364.1h1.3v1.3h-1.3zM146.4 387.1h1.3v1.3h-1.3zM125.6 417.7h1.3v1.3h-1.3zM109.3 443.7h1.3v1.3h-1.3zM176.6 365.4h1.3v1.3h-1.3zM232.2 339.5h1.3v1.3h-1.3zM95.0 475.8h1.3v1.3h-1.3zM221.5 341.4h1.3v1.3h-1.3zM236.0 330.8h1.3v1.3h-1.3zM173.2 360.4h1.3v1.3h-1.3zM236.8 328.8h1.3v1.3h-1.3zM197.5 344.7h1.3v1.3h-1.3zM173.6 361.7h1.3v1.3h-1.3zM161.4 373.8h1.3v1.3h-1.3zM161.8 377.0h1.3v1.3h-1.3zM194.1 352.3h1.3v1.3h-1.3zM127.2 415.5h1.3v1.3h-1.3zM199.0 346.7h1.3v1.3h-1.3zM165.5 368.9h1.3v1.3h-1.3zM193.0 351.3h1.3v1.3h-1.3zM232.7 333.5h1.3v1.3h-1.3zM127.0 415.3h1.3v1.3h-1.3zM152.4 384.1h1.3v1.3h-1.3zM133.3 405.6h1.3v1.3h-1.3zM100.0 460.6h1.3v1.3h-1.3zM185.1 353.2h1.3v1.3h-1.3zM186.1 353.4h1.3v1.3h-1.3zM241.5 334.5h1.3v1.3h-1.3zM182.0 357.1h1.3v1.3h-1.3zM151.3 385.9h1.3v1.3h-1.3zM226.8 338.8h1.3v1.3h-1.3zM94.5 475.8h1.3v1.3h-1.3zM137.4 399.5h1.3v1.3h-1.3zM204.5 344.2h1.3v1.3h-1.3zM116.3 429.7h1.3v1.3h-1.3zM146.1 390.7h1.3v1.3h-1.3zM219.0 341.1h1.3v1.3h-1.3zM143.7 394.2h1.3v1.3h-1.3zM128.5 414.3h1.3v1.3h-1.3zM225.2 337.6h1.3v1.3h-1.3zM103.7 459.4h1.3v1.3h-1.3zM220.2 336.3h1.3v1.3h-1.3zM139.3 398.4h1.3v1.3h-1.3zM123.2 422.1h1.3v1.3h-1.3zM165.1 374.4h1.3v1.3h-1.3zM164.4 365.6h1.3v1.3h-1.3zM236.3 330.7h1.3v1.3h-1.3zM204.6 344.4h1.3v1.3h-1.3zM160.9 372.3h1.3v1.3h-1.3zM175.7 364.8h1.3v1.3h-1.3zM139.7 398.0h1.3v1.3h-1.3zM239.0 330.2h1.3v1.3h-1.3zM149.8 381.9h1.3v1.3h-1.3zM224.5 332.9h1.3v1.3h-1.3zM190.2 350.4h1.3v1.3h-1.3zM229.0 335.6h1.3v1.3h-1.3zM145.1 388.1h1.3v1.3h-1.3zM154.4 376.0h1.3v1.3h-1.3zM147.3 385.1h1.3v1.3h-1.3zM215.7 338.3h1.3v1.3h-1.3zM234.6 336.6h1.3v1.3h-1.3zM215.4 345.9h1.3v1.3h-1.3zM159.6 374.9h1.3v1.3h-1.3zM216.0 341.9h1.3v1.3h-1.3zM201.3 350.0h1.3v1.3h-1.3zM169.7 370.6h1.3v1.3h-1.3zM119.6 426.1h1.3v1.3h-1.3zM127.7 410.8h1.3v1.3h-1.3zM197.3 347.5h1.3v1.3h-1.3z" fill="#2e4c7f"/>
<line x1="91.3" y1="453.0" x2="91.3" y2="464.2" stroke="#000" stroke-width="1.2"/>
<polygon points="88.40,462.70 91.30,464.10 94.20,462.70 91.30,468.50" fill="#000"/>
<rect x="192.29999999999998" y="387.8" width="1.6" height="1.6" fill="#a2002b"/>
<rect x="204.29999999999998" y="408.3" width="1.6" height="1.6" fill="#a2002b"/>
<polyline points="81.8,481.70000000000005 91.81,481.70000000000005 92.17,476.6" fill="none" stroke="#2e4c7f" stroke-width="2"/>
<text x="271.8" y="284.9" font-size="17.8" text-anchor="start" font-weight="bold" font-style="normal" stroke="#111" stroke-width="0.7">C</text>
<line x1="343.6" y1="316.5" x2="343.6" y2="482.85" stroke="#000" stroke-width="1.5"/>
<line x1="338.8" y1="482.1" x2="343.6" y2="482.1" stroke="#000" stroke-width="1.4"/>
<text x="333.6" y="486.1" font-size="13" text-anchor="end" font-weight="normal" font-style="normal" >0</text>
<line x1="338.8" y1="455.25" x2="343.6" y2="455.25" stroke="#000" stroke-width="1.4"/>
<text x="333.6" y="459.25" font-size="13" text-anchor="end" font-weight="normal" font-style="normal" textLength="20.4" lengthAdjust="spacingAndGlyphs" >100</text>
<line x1="338.8" y1="428.40000000000003" x2="343.6" y2="428.40000000000003" stroke="#000" stroke-width="1.4"/>
<text x="333.6" y="432.40000000000003" font-size="13" text-anchor="end" font-weight="normal" font-style="normal" textLength="20.4" lengthAdjust="spacingAndGlyphs" >200</text>
<line x1="338.8" y1="401.55" x2="343.6" y2="401.55" stroke="#000" stroke-width="1.4"/>
<text x="333.6" y="405.55" font-size="13" text-anchor="end" font-weight="normal" font-style="normal" textLength="20.4" lengthAdjust="spacingAndGlyphs" >300</text>
<line x1="338.8" y1="374.70000000000005" x2="343.6" y2="374.70000000000005" stroke="#000" stroke-width="1.4"/>
<text x="333.6" y="378.70000000000005" font-size="13" text-anchor="end" font-weight="normal" font-style="normal" textLength="20.4" lengthAdjust="spacingAndGlyphs" >400</text>
<line x1="338.8" y1="347.85" x2="343.6" y2="347.85" stroke="#000" stroke-width="1.4"/>
<text x="333.6" y="351.85" font-size="13" text-anchor="end" font-weight="normal" font-style="normal" textLength="20.4" lengthAdjust="spacingAndGlyphs" >500</text>
<line x1="338.8" y1="321.0" x2="343.6" y2="321.0" stroke="#000" stroke-width="1.4"/>
<text x="333.6" y="325.0" font-size="13" text-anchor="end" font-weight="normal" font-style="normal" textLength="20.4" lengthAdjust="spacingAndGlyphs" >600</text>
<line x1="343.6" y1="482.1" x2="509.07" y2="482.1" stroke="#000" stroke-width="1.6"/>
<line x1="343.6" y1="482.1" x2="343.6" y2="486.90000000000003" stroke="#000" stroke-width="1.4"/>
<text x="343.6" y="502.7" font-size="13" text-anchor="middle" font-weight="normal" font-style="normal" >0</text>
<line x1="361.43" y1="482.1" x2="361.43" y2="486.90000000000003" stroke="#000" stroke-width="1.4"/>
<text x="361.43" y="502.7" font-size="13" text-anchor="middle" font-weight="normal" font-style="normal" >1</text>
<line x1="379.26" y1="482.1" x2="379.26" y2="486.90000000000003" stroke="#000" stroke-width="1.4"/>
<text x="379.26" y="502.7" font-size="13" text-anchor="middle" font-weight="normal" font-style="normal" >2</text>
<line x1="397.09000000000003" y1="482.1" x2="397.09000000000003" y2="486.90000000000003" stroke="#000" stroke-width="1.4"/>
<text x="397.09000000000003" y="502.7" font-size="13" text-anchor="middle" font-weight="normal" font-style="normal" >3</text>
<line x1="414.92" y1="482.1" x2="414.92" y2="486.90000000000003" stroke="#000" stroke-width="1.4"/>
<text x="414.92" y="502.7" font-size="13" text-anchor="middle" font-weight="normal" font-style="normal" >4</text>
<line x1="432.75" y1="482.1" x2="432.75" y2="486.90000000000003" stroke="#000" stroke-width="1.4"/>
<text x="432.75" y="502.7" font-size="13" text-anchor="middle" font-weight="normal" font-style="normal" >5</text>
<line x1="450.58000000000004" y1="482.1" x2="450.58000000000004" y2="486.90000000000003" stroke="#000" stroke-width="1.4"/>
<text x="450.58000000000004" y="502.7" font-size="13" text-anchor="middle" font-weight="normal" font-style="normal" >6</text>
<line x1="468.41" y1="482.1" x2="468.41" y2="486.90000000000003" stroke="#000" stroke-width="1.4"/>
<text x="468.41" y="502.7" font-size="13" text-anchor="middle" font-weight="normal" font-style="normal" >7</text>
<line x1="486.24" y1="482.1" x2="486.24" y2="486.90000000000003" stroke="#000" stroke-width="1.4"/>
<text x="486.24" y="502.7" font-size="13" text-anchor="middle" font-weight="normal" font-style="normal" >8</text>
<line x1="504.07" y1="482.1" x2="504.07" y2="486.90000000000003" stroke="#000" stroke-width="1.4"/>
<text x="504.07" y="502.7" font-size="13" text-anchor="middle" font-weight="normal" font-style="normal" >9</text>
<text x="349.9" y="307.9" font-size="14" text-anchor="start" font-weight="normal" font-style="normal" textLength="154.6" lengthAdjust="spacingAndGlyphs" >+ Convulxin 100 ng/ml</text>
<text x="397.3" y="523.2" font-size="14" text-anchor="start" font-weight="normal" font-style="normal" textLength="57.5" lengthAdjust="spacingAndGlyphs" >Time (min)</text>
<text transform="translate(304.2,399.45) rotate(-90)" x="0" y="0" font-size="15" text-anchor="middle" textLength="149.1" lengthAdjust="spacingAndGlyphs">JonA/PE binding (MFI x100)</text>
<polygon points="353.8,478.2 354.6,477.2 355.4,477.9 356.2,477.7 357.0,477.5 357.8,477.3 358.6,476.9 359.4,476.9 360.2,477.2 361.0,476.7 361.8,476.3 362.6,476.4 363.4,475.9 364.2,476.2 365.0,476.3 365.8,475.9 366.6,475.9 367.4,475.8 368.2,475.3 369.0,475.4 369.8,474.8 370.6,474.8 371.4,474.9 372.2,474.5 373.0,474.5 373.8,474.5 374.6,474.0 375.4,473.5 376.2,473.7 377.0,473.5 377.8,473.7 378.6,473.5 379.4,472.7 380.2,472.4 381.0,472.9 381.8,472.3 382.6,472.3 383.4,472.0 384.2,471.8 385.0,471.8 385.8,471.3 386.6,472.0 387.4,471.0 388.2,471.2 389.0,470.8 389.8,471.1 390.6,470.3 391.4,470.2 392.2,470.0 393.0,470.1 393.8,470.2 394.6,469.8 395.4,468.9 396.2,469.3 397.0,468.4 397.8,468.9 398.6,469.3 399.4,469.3 400.2,468.7 401.0,468.5 401.8,468.4 402.6,468.5 403.4,468.4 404.2,467.0 405.0,467.3 405.8,467.5 406.6,467.6 407.4,467.2 408.2,467.5 409.0,467.1 409.8,467.0 410.6,466.4 411.4,465.8 412.2,465.9 413.0,465.4 413.8,465.2 414.6,466.4 415.4,465.5 416.2,465.0 417.0,464.2 417.8,464.8 418.6,464.6 419.4,464.7 420.2,463.8 421.0,464.0 421.8,465.0 422.6,463.6 423.4,463.4 424.2,463.4 425.0,462.7 425.8,463.3 426.6,463.3 427.4,462.5 428.2,461.8 429.0,463.0 429.8,461.9 430.6,462.4 431.4,461.7 432.2,461.5 433.0,461.1 433.8,460.4 434.6,460.5 435.4,460.0 436.2,459.8 437.0,460.9 437.8,460.8 438.6,460.3 439.4,459.9 440.2,459.4 441.0,460.0 441.8,458.5 442.6,458.9 443.4,458.6 444.2,457.5 445.0,458.6 445.8,458.3 446.6,457.7 447.4,458.1 448.2,457.1 449.0,457.5 449.8,456.9 450.6,457.8 451.4,456.7 452.2,457.5 453.0,457.1 453.8,455.4 454.6,456.4 455.4,456.1 456.2,455.4 457.0,455.4 457.8,455.5 458.6,455.7 459.4,454.3 460.2,454.5 461.0,454.1 461.8,454.8 462.6,453.7 463.4,453.5 464.2,454.3 465.0,453.2 465.8,453.2 466.6,453.2 467.4,452.5 468.2,453.0 469.0,452.8 469.8,451.7 470.6,452.6 471.4,452.4 472.2,452.1 473.0,451.9 473.8,451.2 474.6,450.8 475.4,452.1 476.2,451.2 477.0,451.2 477.8,449.9 478.6,450.2 479.4,450.4 480.2,449.7 481.0,451.2 481.8,449.3 482.6,449.8 483.4,449.3 484.2,448.5 485.0,449.5 485.8,447.4 486.6,449.2 487.4,446.8 488.2,448.7 489.0,447.9 489.8,447.6 490.6,448.0 491.4,447.3 492.2,446.7 493.0,447.1 493.8,446.7 494.6,447.0 495.4,446.6 496.2,445.8 497.0,447.0 497.8,445.1 498.6,446.3 499.4,445.9 500.2,445.6 501.0,445.9 501.8,444.3 502.6,444.8 503.4,444.2 503.4,448.7 502.6,450.1 501.8,449.0 501.0,449.4 500.2,450.4 499.4,451.6 498.6,450.3 497.8,451.3 497.0,451.4 496.2,450.2 495.4,450.7 494.6,450.8 493.8,452.2 493.0,452.1 492.2,451.5 491.4,452.6 490.6,452.6 489.8,452.3 489.0,451.6 488.2,453.1 487.4,453.0 486.6,453.8 485.8,453.6 485.0,453.3 484.2,453.0 483.4,452.7 482.6,453.9 481.8,453.6 481.0,454.4 480.2,455.0 479.4,454.6 478.6,454.5 477.8,454.8 477.0,454.8 476.2,454.6 475.4,455.2 474.6,456.4 473.8,456.8 473.0,455.2 472.2,456.7 471.4,456.6 470.6,456.3 469.8,456.1 469.0,455.8 468.2,457.5 467.4,458.1 466.6,457.6 465.8,458.4 465.0,457.7 464.2,457.2 463.4,458.3 462.6,458.2 461.8,458.8 461.0,459.0 460.2,459.2 459.4,458.9 458.6,459.8 457.8,459.4 457.0,459.5 456.2,459.9 455.4,459.6 454.6,459.9 453.8,459.6 453.0,460.8 452.2,461.3 451.4,460.1 450.6,461.3 449.8,460.7 449.0,461.0 448.2,461.9 447.4,461.2 446.6,461.8 445.8,461.4 445.0,462.3 444.2,461.6 443.4,462.1 442.6,462.2 441.8,463.1 441.0,463.1 440.2,462.6 439.4,463.1 438.6,462.7 437.8,464.1 437.0,464.5 436.2,464.6 435.4,463.8 434.6,464.7 433.8,464.7 433.0,464.7 432.2,464.3 431.4,465.4 430.6,465.4 429.8,465.8 429.0,465.4 428.2,466.2 427.4,466.6 426.6,466.4 425.8,466.2 425.0,466.4 424.2,466.5 423.4,467.0 422.6,467.1 421.8,467.1 421.0,467.7 420.2,467.1 419.4,467.6 418.6,467.4 417.8,466.9 417.0,468.0 416.2,467.6 415.4,468.6 414.6,468.2 413.8,468.5 413.0,469.8 412.2,468.9 411.4,468.9 410.6,469.4 409.8,469.5 409.0,469.8 408.2,469.8 407.4,469.6 406.6,470.3 405.8,470.3 405.0,470.6 404.2,470.8 403.4,470.1 402.6,471.2 401.8,470.9 401.0,471.0 400.2,471.0 399.4,471.4 398.6,472.2 397.8,471.0 397.0,471.7 396.2,471.7 395.4,471.7 394.6,473.1 393.8,472.7 393.0,472.9 392.2,473.0 391.4,472.6 390.6,473.7 389.8,473.7 389.0,473.6 388.2,474.0 387.4,473.9 386.6,473.7 385.8,474.0 385.0,474.7 384.2,474.3 383.4,474.7 382.6,474.7 381.8,474.8 381.0,474.8 380.2,475.2 379.4,475.5 378.6,475.8 377.8,475.6 377.0,475.8 376.2,476.0 375.4,475.5 374.6,476.1 373.8,476.5 373.0,475.9 372.2,476.7 371.4,477.1 370.6,476.7 369.8,477.4 369.0,477.0 368.2,476.9 367.4,477.1 366.6,477.3 365.8,477.6 365.0,477.7 364.2,477.5 363.4,477.4 362.6,478.0 361.8,477.9 361.0,478.5 360.2,478.7 359.4,478.7 358.6,478.6 357.8,478.4 357.0,478.9 356.2,479.2 355.4,479.2 354.6,479.0 353.8,479.5" fill="#a2002b"/>
<path d="M415.5 466.7h1.3v1.3h-1.3zM358.2 478.1h1.3v1.3h-1.3zM363.2 477.1h1.3v1.3h-1.3zM410.9 467.0h1.3v1.3h-1.3zM450.2 457.1h1.3v1.3h-1.3zM428.8 465.5h1.3v1.3h-1.3zM466.2 454.7h1.3v1.3h-1.3zM437.0 461.6h1.3v1.3h-1.3zM367.2 476.6h1.3v1.3h-1.3zM370.0 475.3h1.3v1.3h-1.3zM407.2 469.3h1.3v1.3h-1.3zM443.9 459.3h1.3v1.3h-1.3zM482.8 451.3h1.3v1.3h-1.3zM484.7 450.2h1.3v1.3h-1.3zM496.8 451.8h1.3v1.3h-1.3zM482.0 448.5h1.3v1.3h-1.3zM414.1 466.0h1.3v1.3h-1.3zM437.3 459.9h1.3v1.3h-1.3zM363.1 475.9h1.3v1.3h-1.3zM493.9 446.0h1.3v1.3h-1.3zM441.5 459.0h1.3v1.3h-1.3zM360.6 477.5h1.3v1.3h-1.3zM485.9 452.9h1.3v1.3h-1.3zM460.7 454.8h1.3v1.3h-1.3zM500.5 444.6h1.3v1.3h-1.3zM368.7 475.0h1.3v1.3h-1.3zM417.1 467.7h1.3v1.3h-1.3zM370.1 475.1h1.3v1.3h-1.3zM493.9 444.4h1.3v1.3h-1.3zM376.5 474.7h1.3v1.3h-1.3zM460.8 455.6h1.3v1.3h-1.3zM454.7 458.2h1.3v1.3h-1.3zM443.6 460.3h1.3v1.3h-1.3zM424.9 462.1h1.3v1.3h-1.3zM417.9 466.7h1.3v1.3h-1.3zM472.5 454.4h1.3v1.3h-1.3zM443.8 458.7h1.3v1.3h-1.3zM404.6 465.6h1.3v1.3h-1.3zM462.8 453.5h1.3v1.3h-1.3zM453.7 455.6h1.3v1.3h-1.3zM419.5 465.9h1.3v1.3h-1.3zM458.4 455.4h1.3v1.3h-1.3zM378.7 473.1h1.3v1.3h-1.3zM417.7 465.5h1.3v1.3h-1.3zM470.3 452.9h1.3v1.3h-1.3zM471.3 454.1h1.3v1.3h-1.3zM466.0 455.2h1.3v1.3h-1.3zM502.4 448.3h1.3v1.3h-1.3zM412.1 465.1h1.3v1.3h-1.3zM489.9 449.9h1.3v1.3h-1.3zM469.4 453.4h1.3v1.3h-1.3zM467.3 457.9h1.3v1.3h-1.3zM402.0 470.5h1.3v1.3h-1.3zM367.7 475.3h1.3v1.3h-1.3zM468.4 455.7h1.3v1.3h-1.3zM363.4 475.1h1.3v1.3h-1.3zM452.1 456.1h1.3v1.3h-1.3zM356.4 477.3h1.3v1.3h-1.3zM381.7 473.2h1.3v1.3h-1.3zM420.1 463.5h1.3v1.3h-1.3zM478.1 452.0h1.3v1.3h-1.3zM398.7 470.9h1.3v1.3h-1.3zM491.2 446.0h1.3v1.3h-1.3zM494.1 445.8h1.3v1.3h-1.3zM465.7 451.5h1.3v1.3h-1.3zM405.7 469.4h1.3v1.3h-1.3zM421.5 463.2h1.3v1.3h-1.3zM498.3 446.6h1.3v1.3h-1.3zM438.4 459.6h1.3v1.3h-1.3zM442.5 459.8h1.3v1.3h-1.3zM438.1 460.4h1.3v1.3h-1.3zM377.5 473.9h1.3v1.3h-1.3zM501.5 447.0h1.3v1.3h-1.3zM442.1 462.4h1.3v1.3h-1.3zM455.0 455.6h1.3v1.3h-1.3zM474.8 453.0h1.3v1.3h-1.3zM427.5 463.2h1.3v1.3h-1.3zM391.0 470.1h1.3v1.3h-1.3zM493.3 450.0h1.3v1.3h-1.3zM380.4 474.8h1.3v1.3h-1.3zM408.9 466.0h1.3v1.3h-1.3zM458.6 460.2h1.3v1.3h-1.3zM419.9 464.7h1.3v1.3h-1.3zM442.5 459.8h1.3v1.3h-1.3zM387.1 469.3h1.3v1.3h-1.3zM479.9 451.6h1.3v1.3h-1.3zM482.4 450.7h1.3v1.3h-1.3zM419.4 464.7h1.3v1.3h-1.3zM490.3 450.4h1.3v1.3h-1.3zM483.2 450.4h1.3v1.3h-1.3zM450.4 458.7h1.3v1.3h-1.3zM388.0 471.0h1.3v1.3h-1.3zM358.7 476.4h1.3v1.3h-1.3zM492.6 448.8h1.3v1.3h-1.3zM491.9 449.8h1.3v1.3h-1.3zM445.3 460.3h1.3v1.3h-1.3zM434.1 461.9h1.3v1.3h-1.3zM463.2 454.0h1.3v1.3h-1.3zM412.9 466.5h1.3v1.3h-1.3zM401.6 468.6h1.3v1.3h-1.3zM405.8 466.5h1.3v1.3h-1.3zM405.7 468.4h1.3v1.3h-1.3zM434.5 461.4h1.3v1.3h-1.3zM356.1 476.8h1.3v1.3h-1.3zM387.5 471.5h1.3v1.3h-1.3zM437.6 461.9h1.3v1.3h-1.3zM485.7 452.9h1.3v1.3h-1.3zM432.0 459.7h1.3v1.3h-1.3zM395.8 469.7h1.3v1.3h-1.3zM494.2 449.3h1.3v1.3h-1.3zM481.2 453.3h1.3v1.3h-1.3zM394.0 470.8h1.3v1.3h-1.3zM501.6 444.6h1.3v1.3h-1.3zM457.4 455.7h1.3v1.3h-1.3zM392.6 470.7h1.3v1.3h-1.3zM444.8 458.2h1.3v1.3h-1.3zM402.7 467.4h1.3v1.3h-1.3zM491.4 446.5h1.3v1.3h-1.3zM445.4 463.1h1.3v1.3h-1.3zM361.7 476.6h1.3v1.3h-1.3zM430.7 462.2h1.3v1.3h-1.3zM435.2 462.5h1.3v1.3h-1.3zM475.9 452.5h1.3v1.3h-1.3zM494.3 448.0h1.3v1.3h-1.3zM455.1 457.5h1.3v1.3h-1.3zM440.3 459.3h1.3v1.3h-1.3zM433.1 461.5h1.3v1.3h-1.3zM379.7 474.1h1.3v1.3h-1.3zM463.7 456.2h1.3v1.3h-1.3zM428.5 461.6h1.3v1.3h-1.3zM413.1 468.3h1.3v1.3h-1.3zM465.6 454.1h1.3v1.3h-1.3zM407.2 465.8h1.3v1.3h-1.3zM458.7 457.5h1.3v1.3h-1.3zM402.6 469.4h1.3v1.3h-1.3zM382.3 473.1h1.3v1.3h-1.3zM437.2 459.7h1.3v1.3h-1.3zM490.3 451.4h1.3v1.3h-1.3zM382.2 473.3h1.3v1.3h-1.3zM376.4 474.3h1.3v1.3h-1.3zM401.5 469.2h1.3v1.3h-1.3zM481.8 451.8h1.3v1.3h-1.3zM422.2 467.4h1.3v1.3h-1.3zM410.2 466.5h1.3v1.3h-1.3zM408.9 467.7h1.3v1.3h-1.3zM402.9 470.0h1.3v1.3h-1.3zM435.4 462.7h1.3v1.3h-1.3zM414.7 465.2h1.3v1.3h-1.3zM376.1 474.0h1.3v1.3h-1.3zM463.5 454.7h1.3v1.3h-1.3zM376.9 472.7h1.3v1.3h-1.3zM435.2 461.4h1.3v1.3h-1.3zM426.3 464.9h1.3v1.3h-1.3zM356.5 477.6h1.3v1.3h-1.3zM390.5 472.4h1.3v1.3h-1.3zM473.2 453.9h1.3v1.3h-1.3zM478.6 450.6h1.3v1.3h-1.3zM482.3 452.1h1.3v1.3h-1.3zM375.0 472.9h1.3v1.3h-1.3zM464.9 457.1h1.3v1.3h-1.3zM406.2 467.5h1.3v1.3h-1.3zM387.7 473.4h1.3v1.3h-1.3zM382.8 471.5h1.3v1.3h-1.3zM484.9 448.7h1.3v1.3h-1.3zM499.8 446.3h1.3v1.3h-1.3zM436.2 461.0h1.3v1.3h-1.3zM494.1 445.4h1.3v1.3h-1.3zM374.5 473.3h1.3v1.3h-1.3zM354.9 477.9h1.3v1.3h-1.3zM422.9 463.2h1.3v1.3h-1.3zM486.6 451.6h1.3v1.3h-1.3zM430.2 465.0h1.3v1.3h-1.3zM392.6 469.2h1.3v1.3h-1.3zM490.9 448.3h1.3v1.3h-1.3zM449.8 461.0h1.3v1.3h-1.3zM405.6 469.3h1.3v1.3h-1.3zM440.2 458.5h1.3v1.3h-1.3zM450.6 458.7h1.3v1.3h-1.3zM365.7 477.0h1.3v1.3h-1.3zM435.9 458.4h1.3v1.3h-1.3zM443.9 460.2h1.3v1.3h-1.3zM366.6 476.5h1.3v1.3h-1.3zM380.8 472.7h1.3v1.3h-1.3zM359.1 476.6h1.3v1.3h-1.3zM387.1 472.6h1.3v1.3h-1.3zM358.9 476.1h1.3v1.3h-1.3zM441.3 461.1h1.3v1.3h-1.3zM475.4 454.8h1.3v1.3h-1.3zM370.2 475.2h1.3v1.3h-1.3zM484.2 447.7h1.3v1.3h-1.3zM389.8 473.0h1.3v1.3h-1.3zM354.2 477.7h1.3v1.3h-1.3zM416.3 466.5h1.3v1.3h-1.3zM398.8 468.5h1.3v1.3h-1.3zM407.0 467.7h1.3v1.3h-1.3zM401.4 470.2h1.3v1.3h-1.3zM470.1 451.2h1.3v1.3h-1.3zM409.2 465.7h1.3v1.3h-1.3zM478.8 448.1h1.3v1.3h-1.3zM454.5 458.0h1.3v1.3h-1.3zM455.5 457.8h1.3v1.3h-1.3zM468.4 452.7h1.3v1.3h-1.3zM379.9 473.6h1.3v1.3h-1.3zM491.7 448.9h1.3v1.3h-1.3zM439.0 463.6h1.3v1.3h-1.3zM356.9 476.7h1.3v1.3h-1.3zM383.6 472.8h1.3v1.3h-1.3zM489.2 448.6h1.3v1.3h-1.3zM448.6 461.4h1.3v1.3h-1.3zM354.7 477.9h1.3v1.3h-1.3zM369.2 474.4h1.3v1.3h-1.3zM496.8 448.6h1.3v1.3h-1.3zM386.1 471.9h1.3v1.3h-1.3zM420.6 463.6h1.3v1.3h-1.3zM437.6 461.6h1.3v1.3h-1.3zM355.7 477.6h1.3v1.3h-1.3zM416.7 464.2h1.3v1.3h-1.3zM439.9 459.9h1.3v1.3h-1.3zM359.9 477.5h1.3v1.3h-1.3zM427.0 464.8h1.3v1.3h-1.3zM469.2 453.7h1.3v1.3h-1.3zM451.9 457.3h1.3v1.3h-1.3zM385.3 472.5h1.3v1.3h-1.3zM420.1 464.7h1.3v1.3h-1.3zM381.4 471.9h1.3v1.3h-1.3zM414.0 467.0h1.3v1.3h-1.3zM406.1 467.0h1.3v1.3h-1.3zM418.2 467.2h1.3v1.3h-1.3zM461.9 456.5h1.3v1.3h-1.3zM381.7 473.6h1.3v1.3h-1.3zM492.9 448.0h1.3v1.3h-1.3zM468.3 454.4h1.3v1.3h-1.3zM495.7 446.8h1.3v1.3h-1.3zM407.8 467.1h1.3v1.3h-1.3zM447.0 457.3h1.3v1.3h-1.3zM453.5 459.7h1.3v1.3h-1.3zM497.2 445.5h1.3v1.3h-1.3zM457.2 459.4h1.3v1.3h-1.3zM430.3 463.7h1.3v1.3h-1.3zM376.7 473.1h1.3v1.3h-1.3zM470.9 455.8h1.3v1.3h-1.3zM490.6 449.9h1.3v1.3h-1.3zM450.4 457.0h1.3v1.3h-1.3zM433.0 462.4h1.3v1.3h-1.3zM356.4 477.2h1.3v1.3h-1.3zM501.6 445.2h1.3v1.3h-1.3zM479.2 451.6h1.3v1.3h-1.3zM448.0 459.2h1.3v1.3h-1.3zM429.2 462.5h1.3v1.3h-1.3zM459.8 456.0h1.3v1.3h-1.3zM481.6 452.6h1.3v1.3h-1.3zM406.1 467.8h1.3v1.3h-1.3zM376.9 473.6h1.3v1.3h-1.3zM407.6 466.1h1.3v1.3h-1.3zM373.2 474.5h1.3v1.3h-1.3zM422.6 463.8h1.3v1.3h-1.3zM465.8 454.4h1.3v1.3h-1.3zM410.7 468.0h1.3v1.3h-1.3zM423.2 465.4h1.3v1.3h-1.3zM380.6 473.2h1.3v1.3h-1.3zM498.3 446.3h1.3v1.3h-1.3zM382.3 473.0h1.3v1.3h-1.3zM487.8 450.4h1.3v1.3h-1.3zM392.5 471.1h1.3v1.3h-1.3zM487.0 447.3h1.3v1.3h-1.3zM377.2 474.1h1.3v1.3h-1.3zM445.0 457.9h1.3v1.3h-1.3zM440.8 460.8h1.3v1.3h-1.3zM377.3 474.2h1.3v1.3h-1.3zM443.5 460.0h1.3v1.3h-1.3zM433.1 463.8h1.3v1.3h-1.3zM486.0 450.2h1.3v1.3h-1.3zM367.5 475.8h1.3v1.3h-1.3zM427.0 462.2h1.3v1.3h-1.3zM357.6 477.2h1.3v1.3h-1.3zM478.0 451.6h1.3v1.3h-1.3zM362.9 476.4h1.3v1.3h-1.3zM481.4 450.9h1.3v1.3h-1.3zM462.0 451.7h1.3v1.3h-1.3zM492.8 450.2h1.3v1.3h-1.3zM435.2 462.6h1.3v1.3h-1.3zM369.9 473.6h1.3v1.3h-1.3zM462.6 455.9h1.3v1.3h-1.3zM360.2 477.4h1.3v1.3h-1.3zM371.5 475.4h1.3v1.3h-1.3zM399.8 470.1h1.3v1.3h-1.3zM434.0 461.6h1.3v1.3h-1.3zM368.7 475.0h1.3v1.3h-1.3zM431.3 465.2h1.3v1.3h-1.3zM384.3 472.9h1.3v1.3h-1.3zM395.8 471.9h1.3v1.3h-1.3zM492.6 448.6h1.3v1.3h-1.3zM436.5 462.7h1.3v1.3h-1.3zM502.0 448.2h1.3v1.3h-1.3zM459.8 457.4h1.3v1.3h-1.3zM412.1 465.2h1.3v1.3h-1.3zM477.9 456.3h1.3v1.3h-1.3zM454.7 457.8h1.3v1.3h-1.3zM393.4 470.3h1.3v1.3h-1.3zM398.5 469.9h1.3v1.3h-1.3zM405.4 466.1h1.3v1.3h-1.3zM412.0 468.5h1.3v1.3h-1.3zM491.3 448.3h1.3v1.3h-1.3zM489.2 450.1h1.3v1.3h-1.3zM362.8 476.5h1.3v1.3h-1.3zM418.7 463.1h1.3v1.3h-1.3zM378.4 473.4h1.3v1.3h-1.3zM475.1 454.9h1.3v1.3h-1.3zM429.9 461.8h1.3v1.3h-1.3zM419.6 465.5h1.3v1.3h-1.3zM466.0 456.5h1.3v1.3h-1.3zM481.0 454.3h1.3v1.3h-1.3zM355.2 477.2h1.3v1.3h-1.3zM377.9 474.6h1.3v1.3h-1.3zM365.9 476.4h1.3v1.3h-1.3zM494.3 449.5h1.3v1.3h-1.3zM406.6 469.1h1.3v1.3h-1.3zM402.6 469.7h1.3v1.3h-1.3zM400.2 468.2h1.3v1.3h-1.3zM379.0 474.0h1.3v1.3h-1.3zM382.8 472.3h1.3v1.3h-1.3zM408.5 468.0h1.3v1.3h-1.3zM488.2 449.1h1.3v1.3h-1.3zM413.1 468.4h1.3v1.3h-1.3zM364.5 476.8h1.3v1.3h-1.3zM406.9 468.5h1.3v1.3h-1.3zM416.1 465.1h1.3v1.3h-1.3zM472.2 454.2h1.3v1.3h-1.3zM458.4 454.8h1.3v1.3h-1.3zM434.3 460.7h1.3v1.3h-1.3zM400.2 467.4h1.3v1.3h-1.3zM370.7 475.7h1.3v1.3h-1.3zM382.5 472.4h1.3v1.3h-1.3zM406.8 469.0h1.3v1.3h-1.3zM483.4 453.0h1.3v1.3h-1.3zM356.5 478.0h1.3v1.3h-1.3zM414.5 465.8h1.3v1.3h-1.3zM451.9 460.3h1.3v1.3h-1.3zM368.6 476.3h1.3v1.3h-1.3zM427.0 461.9h1.3v1.3h-1.3zM472.6 454.0h1.3v1.3h-1.3zM437.3 460.1h1.3v1.3h-1.3zM405.5 468.1h1.3v1.3h-1.3zM489.2 451.9h1.3v1.3h-1.3zM430.2 463.3h1.3v1.3h-1.3zM439.3 463.2h1.3v1.3h-1.3zM404.3 469.2h1.3v1.3h-1.3zM469.4 455.4h1.3v1.3h-1.3zM405.3 470.2h1.3v1.3h-1.3zM438.9 462.7h1.3v1.3h-1.3zM417.3 466.7h1.3v1.3h-1.3zM415.9 467.7h1.3v1.3h-1.3zM386.7 473.3h1.3v1.3h-1.3zM395.6 468.8h1.3v1.3h-1.3zM431.6 461.2h1.3v1.3h-1.3zM435.8 461.8h1.3v1.3h-1.3zM386.7 473.1h1.3v1.3h-1.3zM451.4 457.0h1.3v1.3h-1.3zM487.8 446.9h1.3v1.3h-1.3zM448.7 458.7h1.3v1.3h-1.3zM444.2 458.9h1.3v1.3h-1.3zM476.7 455.1h1.3v1.3h-1.3zM444.3 456.2h1.3v1.3h-1.3zM391.5 472.0h1.3v1.3h-1.3zM372.4 475.3h1.3v1.3h-1.3zM396.3 467.2h1.3v1.3h-1.3zM424.0 462.9h1.3v1.3h-1.3zM399.9 469.1h1.3v1.3h-1.3zM379.0 473.9h1.3v1.3h-1.3zM493.2 448.7h1.3v1.3h-1.3zM483.6 452.0h1.3v1.3h-1.3zM373.8 474.7h1.3v1.3h-1.3zM423.1 463.3h1.3v1.3h-1.3zM501.7 450.0h1.3v1.3h-1.3zM490.0 450.0h1.3v1.3h-1.3zM393.9 469.7h1.3v1.3h-1.3zM383.2 473.2h1.3v1.3h-1.3zM385.8 472.1h1.3v1.3h-1.3zM355.1 477.4h1.3v1.3h-1.3zM475.0 451.7h1.3v1.3h-1.3zM485.2 447.8h1.3v1.3h-1.3zM357.7 476.8h1.3v1.3h-1.3zM488.4 447.4h1.3v1.3h-1.3zM397.4 467.7h1.3v1.3h-1.3zM406.3 468.6h1.3v1.3h-1.3zM456.2 457.5h1.3v1.3h-1.3zM365.9 475.8h1.3v1.3h-1.3zM471.8 451.6h1.3v1.3h-1.3zM381.1 472.4h1.3v1.3h-1.3zM364.9 477.2h1.3v1.3h-1.3zM404.9 467.3h1.3v1.3h-1.3zM385.5 473.1h1.3v1.3h-1.3zM408.6 467.9h1.3v1.3h-1.3zM364.1 476.5h1.3v1.3h-1.3zM414.5 465.7h1.3v1.3h-1.3zM461.2 455.5h1.3v1.3h-1.3zM407.8 467.6h1.3v1.3h-1.3zM421.9 463.2h1.3v1.3h-1.3zM401.7 470.5h1.3v1.3h-1.3zM382.4 472.1h1.3v1.3h-1.3zM480.5 451.9h1.3v1.3h-1.3zM444.0 462.4h1.3v1.3h-1.3zM461.3 458.3h1.3v1.3h-1.3zM432.0 461.6h1.3v1.3h-1.3zM445.4 460.2h1.3v1.3h-1.3zM415.2 467.4h1.3v1.3h-1.3zM427.6 460.7h1.3v1.3h-1.3zM444.6 462.7h1.3v1.3h-1.3zM402.3 469.5h1.3v1.3h-1.3zM406.4 467.6h1.3v1.3h-1.3zM365.3 476.0h1.3v1.3h-1.3zM471.6 449.7h1.3v1.3h-1.3zM374.2 475.0h1.3v1.3h-1.3zM425.9 465.9h1.3v1.3h-1.3zM404.9 468.1h1.3v1.3h-1.3zM367.3 476.8h1.3v1.3h-1.3zM417.3 466.5h1.3v1.3h-1.3zM433.7 460.1h1.3v1.3h-1.3zM461.2 456.8h1.3v1.3h-1.3zM368.5 474.0h1.3v1.3h-1.3zM411.8 464.5h1.3v1.3h-1.3zM496.8 449.1h1.3v1.3h-1.3zM430.2 463.6h1.3v1.3h-1.3zM421.3 464.6h1.3v1.3h-1.3zM429.7 462.8h1.3v1.3h-1.3zM369.1 474.2h1.3v1.3h-1.3zM495.0 450.2h1.3v1.3h-1.3zM383.4 472.7h1.3v1.3h-1.3zM455.1 456.9h1.3v1.3h-1.3zM382.3 476.2h1.3v1.3h-1.3zM438.7 461.3h1.3v1.3h-1.3zM367.4 475.7h1.3v1.3h-1.3zM378.4 475.4h1.3v1.3h-1.3zM457.0 457.3h1.3v1.3h-1.3zM372.4 474.4h1.3v1.3h-1.3zM433.9 464.2h1.3v1.3h-1.3zM444.6 459.5h1.3v1.3h-1.3zM460.4 454.8h1.3v1.3h-1.3zM475.5 452.1h1.3v1.3h-1.3zM463.0 455.6h1.3v1.3h-1.3zM446.4 460.7h1.3v1.3h-1.3zM411.0 468.6h1.3v1.3h-1.3zM456.5 455.1h1.3v1.3h-1.3zM386.3 473.4h1.3v1.3h-1.3zM395.5 469.6h1.3v1.3h-1.3zM394.1 470.1h1.3v1.3h-1.3zM395.9 467.4h1.3v1.3h-1.3zM402.4 470.8h1.3v1.3h-1.3zM455.3 458.3h1.3v1.3h-1.3zM497.4 447.5h1.3v1.3h-1.3zM439.5 460.6h1.3v1.3h-1.3zM490.5 451.3h1.3v1.3h-1.3zM433.5 462.2h1.3v1.3h-1.3zM438.5 456.7h1.3v1.3h-1.3zM423.2 464.8h1.3v1.3h-1.3zM372.3 474.8h1.3v1.3h-1.3zM465.6 455.2h1.3v1.3h-1.3zM389.1 471.7h1.3v1.3h-1.3zM402.7 469.8h1.3v1.3h-1.3zM354.4 477.4h1.3v1.3h-1.3zM406.7 470.8h1.3v1.3h-1.3zM426.8 463.8h1.3v1.3h-1.3zM395.4 469.6h1.3v1.3h-1.3zM385.5 472.4h1.3v1.3h-1.3zM446.0 456.8h1.3v1.3h-1.3zM441.6 460.1h1.3v1.3h-1.3zM437.7 460.1h1.3v1.3h-1.3zM406.2 466.9h1.3v1.3h-1.3zM392.6 471.8h1.3v1.3h-1.3zM426.4 464.1h1.3v1.3h-1.3zM395.2 469.3h1.3v1.3h-1.3zM384.6 471.9h1.3v1.3h-1.3zM448.7 459.3h1.3v1.3h-1.3zM410.0 470.1h1.3v1.3h-1.3zM366.7 475.7h1.3v1.3h-1.3zM488.0 449.6h1.3v1.3h-1.3zM402.1 469.5h1.3v1.3h-1.3zM405.1 466.8h1.3v1.3h-1.3zM426.5 463.6h1.3v1.3h-1.3zM466.5 456.0h1.3v1.3h-1.3zM455.9 457.8h1.3v1.3h-1.3zM380.1 473.7h1.3v1.3h-1.3zM449.6 456.7h1.3v1.3h-1.3zM412.2 466.8h1.3v1.3h-1.3zM474.7 455.5h1.3v1.3h-1.3zM500.0 452.5h1.3v1.3h-1.3zM498.5 449.5h1.3v1.3h-1.3zM456.3 456.2h1.3v1.3h-1.3zM421.4 464.2h1.3v1.3h-1.3zM469.4 453.8h1.3v1.3h-1.3zM487.8 454.0h1.3v1.3h-1.3zM417.4 464.0h1.3v1.3h-1.3zM381.2 473.0h1.3v1.3h-1.3zM393.4 469.0h1.3v1.3h-1.3zM408.1 467.2h1.3v1.3h-1.3zM406.9 467.6h1.3v1.3h-1.3zM422.5 465.8h1.3v1.3h-1.3zM394.5 471.4h1.3v1.3h-1.3zM438.6 461.4h1.3v1.3h-1.3zM374.3 474.2h1.3v1.3h-1.3zM439.5 460.2h1.3v1.3h-1.3zM394.1 472.4h1.3v1.3h-1.3zM437.9 461.0h1.3v1.3h-1.3zM387.5 470.8h1.3v1.3h-1.3zM440.6 459.5h1.3v1.3h-1.3zM415.8 466.1h1.3v1.3h-1.3zM486.6 448.8h1.3v1.3h-1.3zM379.8 472.0h1.3v1.3h-1.3zM409.8 468.5h1.3v1.3h-1.3zM413.6 465.6h1.3v1.3h-1.3zM409.7 467.2h1.3v1.3h-1.3zM407.1 468.0h1.3v1.3h-1.3zM444.8 459.2h1.3v1.3h-1.3zM356.0 477.4h1.3v1.3h-1.3zM411.9 463.6h1.3v1.3h-1.3zM414.0 466.4h1.3v1.3h-1.3zM482.6 450.7h1.3v1.3h-1.3zM496.2 447.3h1.3v1.3h-1.3zM475.2 452.6h1.3v1.3h-1.3zM479.4 455.8h1.3v1.3h-1.3zM501.1 450.2h1.3v1.3h-1.3zM501.9 448.2h1.3v1.3h-1.3zM448.8 461.1h1.3v1.3h-1.3zM363.2 476.1h1.3v1.3h-1.3zM482.3 451.1h1.3v1.3h-1.3zM427.3 464.1h1.3v1.3h-1.3zM358.5 477.7h1.3v1.3h-1.3zM377.6 474.5h1.3v1.3h-1.3zM435.5 464.3h1.3v1.3h-1.3zM459.6 456.1h1.3v1.3h-1.3zM496.9 450.5h1.3v1.3h-1.3zM475.2 451.7h1.3v1.3h-1.3zM486.4 451.3h1.3v1.3h-1.3zM362.8 475.8h1.3v1.3h-1.3zM418.7 467.0h1.3v1.3h-1.3zM473.7 452.2h1.3v1.3h-1.3zM474.3 455.3h1.3v1.3h-1.3zM384.5 470.7h1.3v1.3h-1.3zM440.2 463.3h1.3v1.3h-1.3zM390.3 471.3h1.3v1.3h-1.3zM375.6 474.6h1.3v1.3h-1.3zM477.4 452.8h1.3v1.3h-1.3zM410.1 465.2h1.3v1.3h-1.3zM487.5 448.9h1.3v1.3h-1.3zM359.5 476.6h1.3v1.3h-1.3zM491.3 449.0h1.3v1.3h-1.3zM473.9 450.3h1.3v1.3h-1.3zM424.8 463.1h1.3v1.3h-1.3zM432.5 462.4h1.3v1.3h-1.3zM395.7 471.5h1.3v1.3h-1.3zM430.9 463.7h1.3v1.3h-1.3zM462.1 453.7h1.3v1.3h-1.3zM457.0 458.2h1.3v1.3h-1.3zM439.3 463.2h1.3v1.3h-1.3zM374.1 475.1h1.3v1.3h-1.3zM395.6 469.9h1.3v1.3h-1.3zM498.4 445.8h1.3v1.3h-1.3zM409.9 466.7h1.3v1.3h-1.3zM412.1 468.8h1.3v1.3h-1.3zM414.0 465.1h1.3v1.3h-1.3zM481.0 446.9h1.3v1.3h-1.3zM412.0 467.9h1.3v1.3h-1.3zM438.3 460.1h1.3v1.3h-1.3zM413.0 466.5h1.3v1.3h-1.3zM386.1 471.8h1.3v1.3h-1.3zM399.2 470.8h1.3v1.3h-1.3zM387.5 471.5h1.3v1.3h-1.3zM473.1 451.9h1.3v1.3h-1.3zM502.1 445.2h1.3v1.3h-1.3zM468.5 457.3h1.3v1.3h-1.3zM430.0 465.0h1.3v1.3h-1.3zM443.0 459.5h1.3v1.3h-1.3zM429.2 462.4h1.3v1.3h-1.3zM480.7 451.4h1.3v1.3h-1.3zM374.0 474.9h1.3v1.3h-1.3zM360.5 476.3h1.3v1.3h-1.3zM460.5 458.7h1.3v1.3h-1.3zM422.4 464.9h1.3v1.3h-1.3zM465.4 450.6h1.3v1.3h-1.3zM491.0 447.2h1.3v1.3h-1.3zM382.4 472.6h1.3v1.3h-1.3zM467.1 458.7h1.3v1.3h-1.3zM462.4 458.3h1.3v1.3h-1.3zM447.4 459.4h1.3v1.3h-1.3zM411.8 465.4h1.3v1.3h-1.3zM443.4 459.8h1.3v1.3h-1.3zM432.4 462.4h1.3v1.3h-1.3zM367.4 475.3h1.3v1.3h-1.3zM439.1 461.0h1.3v1.3h-1.3zM354.2 478.1h1.3v1.3h-1.3zM402.0 468.3h1.3v1.3h-1.3zM454.6 455.5h1.3v1.3h-1.3zM489.2 449.8h1.3v1.3h-1.3zM486.0 447.3h1.3v1.3h-1.3zM402.9 468.1h1.3v1.3h-1.3zM354.4 478.3h1.3v1.3h-1.3zM489.1 449.8h1.3v1.3h-1.3zM370.0 474.2h1.3v1.3h-1.3zM456.4 456.7h1.3v1.3h-1.3zM385.4 471.9h1.3v1.3h-1.3zM478.7 452.0h1.3v1.3h-1.3zM368.4 476.1h1.3v1.3h-1.3zM494.2 447.2h1.3v1.3h-1.3zM370.9 474.0h1.3v1.3h-1.3zM444.8 461.7h1.3v1.3h-1.3zM481.4 449.5h1.3v1.3h-1.3zM378.3 474.1h1.3v1.3h-1.3zM415.5 466.4h1.3v1.3h-1.3zM398.0 469.2h1.3v1.3h-1.3zM493.4 449.5h1.3v1.3h-1.3zM444.1 460.0h1.3v1.3h-1.3zM488.5 449.9h1.3v1.3h-1.3zM500.3 448.3h1.3v1.3h-1.3zM438.2 459.8h1.3v1.3h-1.3zM473.2 454.6h1.3v1.3h-1.3zM429.4 461.7h1.3v1.3h-1.3zM416.7 466.9h1.3v1.3h-1.3zM499.3 449.7h1.3v1.3h-1.3zM408.8 466.4h1.3v1.3h-1.3zM411.4 469.2h1.3v1.3h-1.3zM404.5 467.5h1.3v1.3h-1.3zM387.2 471.8h1.3v1.3h-1.3zM405.5 467.1h1.3v1.3h-1.3zM394.7 470.0h1.3v1.3h-1.3zM482.6 451.0h1.3v1.3h-1.3zM465.9 453.6h1.3v1.3h-1.3zM437.2 462.5h1.3v1.3h-1.3zM474.9 451.2h1.3v1.3h-1.3zM465.0 455.4h1.3v1.3h-1.3zM494.3 446.2h1.3v1.3h-1.3zM377.7 472.9h1.3v1.3h-1.3zM398.5 469.6h1.3v1.3h-1.3zM482.1 451.5h1.3v1.3h-1.3zM406.4 467.4h1.3v1.3h-1.3zM354.5 477.8h1.3v1.3h-1.3zM390.5 471.6h1.3v1.3h-1.3zM379.3 472.8h1.3v1.3h-1.3zM449.9 458.3h1.3v1.3h-1.3zM484.9 448.7h1.3v1.3h-1.3zM418.2 463.6h1.3v1.3h-1.3zM432.8 461.2h1.3v1.3h-1.3zM407.8 467.3h1.3v1.3h-1.3zM392.2 472.0h1.3v1.3h-1.3zM364.4 476.4h1.3v1.3h-1.3zM500.7 447.0h1.3v1.3h-1.3zM420.7 461.9h1.3v1.3h-1.3zM461.1 454.2h1.3v1.3h-1.3zM444.4 460.2h1.3v1.3h-1.3zM498.2 448.5h1.3v1.3h-1.3zM481.9 451.0h1.3v1.3h-1.3zM467.0 452.4h1.3v1.3h-1.3zM405.3 465.8h1.3v1.3h-1.3zM501.4 443.4h1.3v1.3h-1.3zM377.0 474.0h1.3v1.3h-1.3zM441.8 460.7h1.3v1.3h-1.3zM427.8 465.7h1.3v1.3h-1.3zM361.4 476.2h1.3v1.3h-1.3zM475.6 453.1h1.3v1.3h-1.3zM384.6 471.7h1.3v1.3h-1.3zM428.2 462.9h1.3v1.3h-1.3zM425.7 463.8h1.3v1.3h-1.3zM404.6 467.7h1.3v1.3h-1.3zM408.5 469.2h1.3v1.3h-1.3zM469.7 452.0h1.3v1.3h-1.3zM492.2 450.3h1.3v1.3h-1.3zM454.0 457.1h1.3v1.3h-1.3zM432.6 461.5h1.3v1.3h-1.3zM381.7 473.9h1.3v1.3h-1.3zM357.8 476.9h1.3v1.3h-1.3zM447.5 459.3h1.3v1.3h-1.3zM464.5 455.1h1.3v1.3h-1.3zM479.7 452.9h1.3v1.3h-1.3zM400.5 467.8h1.3v1.3h-1.3z" fill="#a2002b"/>
<polygon points="353.8,475.3 354.6,475.4 355.4,475.6 356.2,475.0 357.0,475.1 357.8,474.8 358.6,474.2 359.4,474.2 360.2,473.9 361.0,473.5 361.8,473.2 362.6,473.0 363.4,472.9 364.2,472.0 365.0,471.9 365.8,471.4 366.6,471.5 367.4,470.8 368.2,470.5 369.0,470.5 369.8,470.5 370.6,469.2 371.4,469.1 372.2,469.1 373.0,468.6 373.8,468.6 374.6,468.2 375.4,467.5 376.2,467.7 377.0,467.6 377.8,466.7 378.6,465.8 379.4,466.1 380.2,465.3 381.0,465.1 381.8,464.4 382.6,464.1 383.4,464.0 384.2,462.8 385.0,463.2 385.8,462.1 386.6,462.2 387.4,461.2 388.2,460.8 389.0,460.8 389.8,460.4 390.6,459.8 391.4,458.9 392.2,459.0 393.0,458.5 393.8,458.0 394.6,457.9 395.4,457.5 396.2,457.2 397.0,457.3 397.8,455.8 398.6,455.7 399.4,455.0 400.2,454.9 401.0,454.3 401.8,454.8 402.6,453.7 403.4,452.7 404.2,452.7 405.0,452.1 405.8,452.2 406.6,451.8 407.4,451.2 408.2,450.8 409.0,450.4 409.8,449.5 410.6,449.5 411.4,448.8 412.2,449.2 413.0,447.5 413.8,447.5 414.6,446.9 415.4,447.3 416.2,446.1 417.0,445.6 417.8,445.4 418.6,445.1 419.4,443.9 420.2,443.7 421.0,442.8 421.8,443.5 422.6,443.1 423.4,441.1 424.2,441.6 425.0,441.3 425.8,440.9 426.6,441.4 427.4,439.6 428.2,439.1 429.0,439.1 429.8,439.2 430.6,437.8 431.4,437.9 432.2,437.3 433.0,436.4 433.8,436.2 434.6,435.7 435.4,436.1 436.2,435.4 437.0,434.3 437.8,435.1 438.6,434.2 439.4,433.9 440.2,432.9 441.0,432.5 441.8,433.4 442.6,432.2 443.4,431.0 444.2,429.6 445.0,430.7 445.8,429.2 446.6,429.2 447.4,428.7 448.2,428.9 449.0,427.9 449.8,427.6 450.6,427.3 451.4,426.7 452.2,425.9 453.0,425.9 453.8,424.6 454.6,424.8 455.4,424.4 456.2,424.3 457.0,424.2 457.8,423.6 458.6,422.8 459.4,422.2 460.2,422.5 461.0,420.5 461.8,421.0 462.6,419.9 463.4,420.6 464.2,419.5 465.0,419.2 465.8,418.2 466.6,418.4 467.4,418.0 468.2,417.9 469.0,417.0 469.8,416.2 470.6,415.9 471.4,415.4 472.2,415.8 473.0,414.1 473.8,413.9 474.6,414.1 475.4,413.3 476.2,413.8 477.0,413.4 477.8,412.3 478.6,411.4 479.4,411.2 480.2,410.4 481.0,409.2 481.8,411.5 482.6,410.2 483.4,410.5 484.2,409.1 485.0,408.5 485.8,407.7 486.6,407.7 487.4,407.8 488.2,406.8 489.0,406.5 489.8,406.8 490.6,406.1 491.4,405.1 492.2,403.9 493.0,403.7 493.8,404.1 494.6,403.2 495.4,402.8 496.2,402.5 497.0,402.1 497.8,402.3 498.6,401.1 499.4,401.4 500.2,400.7 501.0,398.6 501.8,400.1 502.6,399.9 503.4,399.1 503.4,404.0 502.6,405.4 501.8,406.5 501.0,406.3 500.2,404.9 499.4,406.7 498.6,406.9 497.8,407.8 497.0,408.3 496.2,408.4 495.4,408.6 494.6,408.6 493.8,409.6 493.0,409.0 492.2,410.1 491.4,410.6 490.6,410.4 489.8,412.4 489.0,412.8 488.2,413.6 487.4,412.1 486.6,413.1 485.8,413.2 485.0,413.6 484.2,413.7 483.4,415.2 482.6,415.5 481.8,416.3 481.0,415.3 480.2,416.8 479.4,416.5 478.6,416.5 477.8,417.1 477.0,419.3 476.2,418.4 475.4,419.2 474.6,419.0 473.8,420.4 473.0,420.8 472.2,420.2 471.4,421.1 470.6,420.9 469.8,422.3 469.0,422.3 468.2,422.5 467.4,421.8 466.6,423.5 465.8,424.6 465.0,424.2 464.2,424.8 463.4,425.1 462.6,426.5 461.8,426.4 461.0,427.0 460.2,426.4 459.4,427.5 458.6,427.9 457.8,427.9 457.0,429.2 456.2,429.4 455.4,429.5 454.6,429.6 453.8,430.2 453.0,430.1 452.2,431.3 451.4,430.8 450.6,432.2 449.8,432.9 449.0,432.3 448.2,433.3 447.4,433.3 446.6,433.4 445.8,434.9 445.0,433.6 444.2,435.3 443.4,436.2 442.6,436.7 441.8,436.4 441.0,436.9 440.2,436.9 439.4,437.7 438.6,438.3 437.8,439.4 437.0,438.9 436.2,439.8 435.4,439.4 434.6,440.3 433.8,439.7 433.0,441.8 432.2,440.9 431.4,442.9 430.6,442.7 429.8,443.0 429.0,443.5 428.2,443.4 427.4,445.4 426.6,444.3 425.8,445.8 425.0,445.3 424.2,446.1 423.4,446.0 422.6,447.3 421.8,446.6 421.0,448.4 420.2,447.6 419.4,448.4 418.6,448.3 417.8,449.7 417.0,449.2 416.2,449.9 415.4,450.1 414.6,450.6 413.8,450.5 413.0,452.3 412.2,452.6 411.4,451.9 410.6,453.6 409.8,453.7 409.0,453.4 408.2,454.2 407.4,455.4 406.6,455.2 405.8,455.5 405.0,455.9 404.2,456.4 403.4,456.2 402.6,456.9 401.8,457.0 401.0,458.1 400.2,458.7 399.4,458.3 398.6,458.8 397.8,459.9 397.0,460.0 396.2,459.7 395.4,461.4 394.6,460.9 393.8,461.3 393.0,461.7 392.2,462.3 391.4,462.6 390.6,462.5 389.8,463.9 389.0,463.6 388.2,464.0 387.4,464.8 386.6,464.5 385.8,464.9 385.0,465.5 384.2,465.6 383.4,465.9 382.6,466.5 381.8,467.2 381.0,467.4 380.2,467.8 379.4,468.1 378.6,468.5 377.8,469.2 377.0,469.5 376.2,469.8 375.4,469.7 374.6,469.9 373.8,470.2 373.0,470.9 372.2,470.7 371.4,471.6 370.6,472.0 369.8,472.4 369.0,472.2 368.2,472.5 367.4,473.0 366.6,473.4 365.8,473.7 365.0,474.0 364.2,474.2 363.4,474.8 362.6,474.7 361.8,475.2 361.0,475.2 360.2,475.3 359.4,475.4 358.6,476.4 357.8,475.9 357.0,476.8 356.2,476.4 355.4,476.8 354.6,476.9 353.8,476.5" fill="#6ba643"/>
<path d="M452.2 427.1h1.3v1.3h-1.3zM476.1 414.4h1.3v1.3h-1.3zM496.8 402.7h1.3v1.3h-1.3zM357.3 475.3h1.3v1.3h-1.3zM382.2 463.0h1.3v1.3h-1.3zM417.0 445.8h1.3v1.3h-1.3zM436.0 438.1h1.3v1.3h-1.3zM469.8 421.4h1.3v1.3h-1.3zM436.8 435.7h1.3v1.3h-1.3zM431.2 440.8h1.3v1.3h-1.3zM389.7 458.6h1.3v1.3h-1.3zM450.7 430.0h1.3v1.3h-1.3zM440.7 434.5h1.3v1.3h-1.3zM494.6 402.7h1.3v1.3h-1.3zM382.3 462.7h1.3v1.3h-1.3zM372.7 468.6h1.3v1.3h-1.3zM406.6 452.7h1.3v1.3h-1.3zM402.5 455.0h1.3v1.3h-1.3zM421.4 444.5h1.3v1.3h-1.3zM379.6 466.7h1.3v1.3h-1.3zM459.1 425.4h1.3v1.3h-1.3zM476.4 412.0h1.3v1.3h-1.3zM355.0 475.1h1.3v1.3h-1.3zM489.4 407.0h1.3v1.3h-1.3zM367.6 472.1h1.3v1.3h-1.3zM399.6 455.3h1.3v1.3h-1.3zM426.4 443.3h1.3v1.3h-1.3zM417.1 446.8h1.3v1.3h-1.3zM386.1 465.5h1.3v1.3h-1.3zM462.5 422.1h1.3v1.3h-1.3zM478.8 413.7h1.3v1.3h-1.3zM387.9 461.8h1.3v1.3h-1.3zM378.6 466.5h1.3v1.3h-1.3zM431.2 443.2h1.3v1.3h-1.3zM376.2 467.0h1.3v1.3h-1.3zM493.7 404.0h1.3v1.3h-1.3zM480.6 412.3h1.3v1.3h-1.3zM478.2 415.4h1.3v1.3h-1.3zM415.3 446.1h1.3v1.3h-1.3zM471.0 419.4h1.3v1.3h-1.3zM412.3 450.4h1.3v1.3h-1.3zM422.2 443.7h1.3v1.3h-1.3zM369.9 470.0h1.3v1.3h-1.3zM359.7 473.5h1.3v1.3h-1.3zM453.7 426.4h1.3v1.3h-1.3zM382.8 463.5h1.3v1.3h-1.3zM496.2 407.5h1.3v1.3h-1.3zM438.1 438.2h1.3v1.3h-1.3zM439.8 433.9h1.3v1.3h-1.3zM487.0 409.3h1.3v1.3h-1.3zM398.3 454.0h1.3v1.3h-1.3zM355.7 474.9h1.3v1.3h-1.3zM386.8 462.9h1.3v1.3h-1.3zM422.1 444.4h1.3v1.3h-1.3zM376.7 467.4h1.3v1.3h-1.3zM395.8 459.0h1.3v1.3h-1.3zM463.7 421.7h1.3v1.3h-1.3zM410.1 449.8h1.3v1.3h-1.3zM404.9 455.5h1.3v1.3h-1.3zM388.8 459.1h1.3v1.3h-1.3zM433.1 436.0h1.3v1.3h-1.3zM502.0 400.0h1.3v1.3h-1.3zM379.2 465.3h1.3v1.3h-1.3zM479.5 411.6h1.3v1.3h-1.3zM469.3 418.1h1.3v1.3h-1.3zM443.4 431.1h1.3v1.3h-1.3zM434.8 437.0h1.3v1.3h-1.3zM431.4 439.9h1.3v1.3h-1.3zM369.4 470.5h1.3v1.3h-1.3zM438.7 435.2h1.3v1.3h-1.3zM501.1 400.0h1.3v1.3h-1.3zM462.5 419.9h1.3v1.3h-1.3zM423.4 442.7h1.3v1.3h-1.3zM419.9 446.6h1.3v1.3h-1.3zM483.4 412.0h1.3v1.3h-1.3zM355.0 475.9h1.3v1.3h-1.3zM383.8 465.0h1.3v1.3h-1.3zM496.4 407.1h1.3v1.3h-1.3zM451.2 426.6h1.3v1.3h-1.3zM477.1 417.1h1.3v1.3h-1.3zM433.4 439.1h1.3v1.3h-1.3zM360.2 475.3h1.3v1.3h-1.3zM433.8 438.6h1.3v1.3h-1.3zM447.7 430.7h1.3v1.3h-1.3zM367.3 471.2h1.3v1.3h-1.3zM425.5 442.3h1.3v1.3h-1.3zM494.2 401.9h1.3v1.3h-1.3zM363.4 472.6h1.3v1.3h-1.3zM361.0 473.6h1.3v1.3h-1.3zM369.4 471.3h1.3v1.3h-1.3zM455.5 424.6h1.3v1.3h-1.3zM486.8 409.7h1.3v1.3h-1.3zM377.3 468.8h1.3v1.3h-1.3zM479.6 412.0h1.3v1.3h-1.3zM387.1 463.2h1.3v1.3h-1.3zM434.1 436.5h1.3v1.3h-1.3zM467.6 419.2h1.3v1.3h-1.3zM371.6 469.9h1.3v1.3h-1.3zM425.0 443.8h1.3v1.3h-1.3zM482.9 410.4h1.3v1.3h-1.3zM406.9 450.6h1.3v1.3h-1.3zM472.6 420.0h1.3v1.3h-1.3zM421.6 444.5h1.3v1.3h-1.3zM494.3 407.4h1.3v1.3h-1.3zM413.6 449.9h1.3v1.3h-1.3zM476.4 416.4h1.3v1.3h-1.3zM365.4 471.8h1.3v1.3h-1.3zM404.5 453.2h1.3v1.3h-1.3zM375.8 466.1h1.3v1.3h-1.3zM414.1 448.5h1.3v1.3h-1.3zM414.3 447.4h1.3v1.3h-1.3zM389.9 460.9h1.3v1.3h-1.3zM416.4 449.9h1.3v1.3h-1.3zM455.4 427.3h1.3v1.3h-1.3zM439.9 434.4h1.3v1.3h-1.3zM390.3 459.0h1.3v1.3h-1.3zM459.8 425.0h1.3v1.3h-1.3zM459.4 426.8h1.3v1.3h-1.3zM416.8 445.5h1.3v1.3h-1.3zM422.4 444.5h1.3v1.3h-1.3zM379.8 465.2h1.3v1.3h-1.3zM478.2 413.6h1.3v1.3h-1.3zM407.1 451.4h1.3v1.3h-1.3zM397.6 454.7h1.3v1.3h-1.3zM492.1 405.6h1.3v1.3h-1.3zM399.5 453.7h1.3v1.3h-1.3zM383.5 465.5h1.3v1.3h-1.3zM410.9 451.5h1.3v1.3h-1.3zM430.7 439.3h1.3v1.3h-1.3zM445.4 431.8h1.3v1.3h-1.3zM413.3 448.7h1.3v1.3h-1.3zM455.8 426.1h1.3v1.3h-1.3zM357.5 474.8h1.3v1.3h-1.3zM491.8 406.3h1.3v1.3h-1.3zM422.7 443.4h1.3v1.3h-1.3zM420.8 442.5h1.3v1.3h-1.3zM420.5 443.2h1.3v1.3h-1.3zM395.1 457.4h1.3v1.3h-1.3zM475.2 415.9h1.3v1.3h-1.3zM421.4 443.7h1.3v1.3h-1.3zM368.3 472.4h1.3v1.3h-1.3zM406.1 452.2h1.3v1.3h-1.3zM426.2 441.1h1.3v1.3h-1.3zM407.5 452.4h1.3v1.3h-1.3zM369.3 471.3h1.3v1.3h-1.3zM486.2 413.8h1.3v1.3h-1.3zM376.5 468.2h1.3v1.3h-1.3zM462.4 421.0h1.3v1.3h-1.3zM417.2 446.3h1.3v1.3h-1.3zM427.7 442.6h1.3v1.3h-1.3zM454.7 426.8h1.3v1.3h-1.3zM356.6 475.4h1.3v1.3h-1.3zM426.9 441.2h1.3v1.3h-1.3zM422.3 446.3h1.3v1.3h-1.3zM417.9 448.5h1.3v1.3h-1.3zM354.3 476.1h1.3v1.3h-1.3zM355.8 475.2h1.3v1.3h-1.3zM426.9 438.7h1.3v1.3h-1.3zM421.8 441.9h1.3v1.3h-1.3zM403.9 454.1h1.3v1.3h-1.3zM371.4 470.2h1.3v1.3h-1.3zM408.2 447.2h1.3v1.3h-1.3zM454.1 425.8h1.3v1.3h-1.3zM475.9 417.5h1.3v1.3h-1.3zM467.7 421.3h1.3v1.3h-1.3zM354.4 475.2h1.3v1.3h-1.3zM404.4 454.3h1.3v1.3h-1.3zM426.8 441.5h1.3v1.3h-1.3zM475.1 415.1h1.3v1.3h-1.3zM438.0 437.3h1.3v1.3h-1.3zM473.3 418.8h1.3v1.3h-1.3zM456.5 424.4h1.3v1.3h-1.3zM364.9 471.5h1.3v1.3h-1.3zM499.9 399.8h1.3v1.3h-1.3zM437.0 433.5h1.3v1.3h-1.3zM443.8 434.6h1.3v1.3h-1.3zM392.6 461.9h1.3v1.3h-1.3zM488.3 409.2h1.3v1.3h-1.3zM502.5 403.9h1.3v1.3h-1.3zM405.1 452.1h1.3v1.3h-1.3zM426.8 441.3h1.3v1.3h-1.3zM363.5 473.4h1.3v1.3h-1.3zM467.5 420.2h1.3v1.3h-1.3zM449.7 429.0h1.3v1.3h-1.3zM388.8 459.5h1.3v1.3h-1.3zM477.4 411.3h1.3v1.3h-1.3zM435.4 436.0h1.3v1.3h-1.3zM492.2 405.5h1.3v1.3h-1.3zM476.0 414.9h1.3v1.3h-1.3zM369.1 470.1h1.3v1.3h-1.3zM389.4 460.9h1.3v1.3h-1.3zM480.2 413.0h1.3v1.3h-1.3zM358.8 474.7h1.3v1.3h-1.3zM373.5 468.7h1.3v1.3h-1.3zM490.7 406.2h1.3v1.3h-1.3zM474.6 415.2h1.3v1.3h-1.3zM392.0 461.0h1.3v1.3h-1.3zM404.4 453.1h1.3v1.3h-1.3zM359.8 473.4h1.3v1.3h-1.3zM373.0 468.0h1.3v1.3h-1.3zM355.8 475.3h1.3v1.3h-1.3zM441.4 434.5h1.3v1.3h-1.3zM444.8 433.9h1.3v1.3h-1.3zM375.5 467.5h1.3v1.3h-1.3zM478.0 416.9h1.3v1.3h-1.3zM426.6 441.0h1.3v1.3h-1.3zM443.2 432.1h1.3v1.3h-1.3zM452.6 426.4h1.3v1.3h-1.3zM384.6 464.1h1.3v1.3h-1.3zM473.5 418.5h1.3v1.3h-1.3zM415.2 447.6h1.3v1.3h-1.3zM428.1 439.9h1.3v1.3h-1.3zM372.9 467.6h1.3v1.3h-1.3zM392.0 460.0h1.3v1.3h-1.3zM421.8 443.6h1.3v1.3h-1.3zM461.7 422.2h1.3v1.3h-1.3zM422.1 442.9h1.3v1.3h-1.3zM437.4 434.2h1.3v1.3h-1.3zM466.6 419.1h1.3v1.3h-1.3zM414.0 449.0h1.3v1.3h-1.3zM356.5 475.6h1.3v1.3h-1.3zM437.6 435.6h1.3v1.3h-1.3zM494.4 406.3h1.3v1.3h-1.3zM359.7 473.9h1.3v1.3h-1.3zM422.9 443.3h1.3v1.3h-1.3zM451.4 425.6h1.3v1.3h-1.3zM426.8 442.8h1.3v1.3h-1.3zM369.5 470.9h1.3v1.3h-1.3zM430.5 441.8h1.3v1.3h-1.3zM366.0 471.3h1.3v1.3h-1.3zM364.6 472.5h1.3v1.3h-1.3zM404.4 452.1h1.3v1.3h-1.3zM380.5 465.7h1.3v1.3h-1.3zM429.1 440.0h1.3v1.3h-1.3zM494.5 407.0h1.3v1.3h-1.3zM386.1 462.6h1.3v1.3h-1.3zM501.0 403.7h1.3v1.3h-1.3zM406.0 451.9h1.3v1.3h-1.3zM478.3 415.1h1.3v1.3h-1.3zM431.8 438.2h1.3v1.3h-1.3zM470.1 417.2h1.3v1.3h-1.3zM482.7 411.7h1.3v1.3h-1.3zM479.2 414.1h1.3v1.3h-1.3zM376.1 466.2h1.3v1.3h-1.3zM486.5 406.3h1.3v1.3h-1.3zM371.9 469.5h1.3v1.3h-1.3zM463.2 421.7h1.3v1.3h-1.3zM360.9 472.3h1.3v1.3h-1.3zM398.7 454.1h1.3v1.3h-1.3zM373.7 467.9h1.3v1.3h-1.3zM446.5 431.3h1.3v1.3h-1.3zM400.9 455.5h1.3v1.3h-1.3zM438.3 436.9h1.3v1.3h-1.3zM386.6 463.9h1.3v1.3h-1.3zM413.4 452.1h1.3v1.3h-1.3zM488.1 405.7h1.3v1.3h-1.3zM442.9 432.6h1.3v1.3h-1.3zM426.4 443.3h1.3v1.3h-1.3zM462.0 420.0h1.3v1.3h-1.3zM501.6 398.7h1.3v1.3h-1.3zM403.7 454.0h1.3v1.3h-1.3zM370.4 470.9h1.3v1.3h-1.3zM389.9 462.4h1.3v1.3h-1.3zM377.4 465.2h1.3v1.3h-1.3zM414.3 446.3h1.3v1.3h-1.3zM464.4 421.0h1.3v1.3h-1.3zM468.0 418.2h1.3v1.3h-1.3zM370.2 470.4h1.3v1.3h-1.3zM378.2 466.7h1.3v1.3h-1.3zM407.6 454.2h1.3v1.3h-1.3zM479.6 413.1h1.3v1.3h-1.3zM426.0 442.1h1.3v1.3h-1.3zM434.2 437.5h1.3v1.3h-1.3zM397.4 458.5h1.3v1.3h-1.3zM435.8 434.6h1.3v1.3h-1.3zM444.0 432.8h1.3v1.3h-1.3zM404.1 452.5h1.3v1.3h-1.3zM443.5 429.9h1.3v1.3h-1.3zM466.2 422.6h1.3v1.3h-1.3zM406.7 452.9h1.3v1.3h-1.3zM421.9 446.3h1.3v1.3h-1.3zM373.5 468.9h1.3v1.3h-1.3zM392.7 460.3h1.3v1.3h-1.3zM360.2 474.0h1.3v1.3h-1.3zM362.5 473.5h1.3v1.3h-1.3zM366.6 471.2h1.3v1.3h-1.3zM487.5 412.8h1.3v1.3h-1.3zM462.9 420.2h1.3v1.3h-1.3zM441.1 436.7h1.3v1.3h-1.3zM472.7 416.4h1.3v1.3h-1.3zM380.3 466.5h1.3v1.3h-1.3zM406.4 452.6h1.3v1.3h-1.3zM440.6 434.8h1.3v1.3h-1.3zM481.2 415.6h1.3v1.3h-1.3zM434.4 437.6h1.3v1.3h-1.3zM372.8 468.2h1.3v1.3h-1.3zM360.7 473.9h1.3v1.3h-1.3zM359.3 474.6h1.3v1.3h-1.3zM466.5 415.2h1.3v1.3h-1.3zM487.0 411.5h1.3v1.3h-1.3zM375.7 468.8h1.3v1.3h-1.3zM474.5 412.2h1.3v1.3h-1.3zM360.3 473.8h1.3v1.3h-1.3zM478.2 415.7h1.3v1.3h-1.3zM458.5 422.1h1.3v1.3h-1.3zM424.5 442.0h1.3v1.3h-1.3zM425.0 441.9h1.3v1.3h-1.3zM386.7 463.1h1.3v1.3h-1.3zM492.4 409.1h1.3v1.3h-1.3zM394.6 458.5h1.3v1.3h-1.3zM393.4 459.2h1.3v1.3h-1.3zM468.7 420.8h1.3v1.3h-1.3zM439.8 435.3h1.3v1.3h-1.3zM430.9 439.0h1.3v1.3h-1.3zM439.0 437.2h1.3v1.3h-1.3zM370.5 468.8h1.3v1.3h-1.3zM370.3 470.2h1.3v1.3h-1.3zM499.6 402.1h1.3v1.3h-1.3zM458.5 423.3h1.3v1.3h-1.3zM445.4 431.7h1.3v1.3h-1.3zM437.4 435.8h1.3v1.3h-1.3zM389.0 464.3h1.3v1.3h-1.3zM377.4 467.6h1.3v1.3h-1.3zM440.9 434.4h1.3v1.3h-1.3zM355.6 476.2h1.3v1.3h-1.3zM358.2 475.2h1.3v1.3h-1.3zM405.1 450.4h1.3v1.3h-1.3zM441.2 433.9h1.3v1.3h-1.3zM492.3 408.4h1.3v1.3h-1.3zM421.4 443.4h1.3v1.3h-1.3zM399.5 456.4h1.3v1.3h-1.3zM496.0 403.8h1.3v1.3h-1.3zM398.3 457.1h1.3v1.3h-1.3zM425.6 439.4h1.3v1.3h-1.3zM425.1 439.2h1.3v1.3h-1.3zM360.7 473.4h1.3v1.3h-1.3zM369.8 470.5h1.3v1.3h-1.3zM355.3 476.0h1.3v1.3h-1.3zM472.1 416.5h1.3v1.3h-1.3zM410.5 449.1h1.3v1.3h-1.3zM455.3 427.8h1.3v1.3h-1.3zM420.4 444.9h1.3v1.3h-1.3zM427.7 443.9h1.3v1.3h-1.3zM482.5 411.5h1.3v1.3h-1.3zM412.7 446.1h1.3v1.3h-1.3zM369.2 469.8h1.3v1.3h-1.3zM453.5 425.2h1.3v1.3h-1.3zM358.5 473.5h1.3v1.3h-1.3zM430.7 438.0h1.3v1.3h-1.3zM408.9 450.0h1.3v1.3h-1.3zM417.5 446.0h1.3v1.3h-1.3zM462.3 421.2h1.3v1.3h-1.3zM478.8 414.5h1.3v1.3h-1.3zM497.1 405.1h1.3v1.3h-1.3zM470.0 418.6h1.3v1.3h-1.3zM475.9 415.5h1.3v1.3h-1.3zM493.3 401.9h1.3v1.3h-1.3zM411.3 447.3h1.3v1.3h-1.3zM405.1 451.8h1.3v1.3h-1.3zM358.2 474.7h1.3v1.3h-1.3zM421.5 441.9h1.3v1.3h-1.3zM362.5 472.8h1.3v1.3h-1.3zM385.9 463.1h1.3v1.3h-1.3zM415.4 450.6h1.3v1.3h-1.3zM415.3 448.0h1.3v1.3h-1.3zM467.8 418.3h1.3v1.3h-1.3zM423.0 445.2h1.3v1.3h-1.3zM459.1 424.4h1.3v1.3h-1.3zM357.5 474.5h1.3v1.3h-1.3zM461.3 425.0h1.3v1.3h-1.3zM467.3 417.7h1.3v1.3h-1.3zM356.0 475.2h1.3v1.3h-1.3zM406.3 452.5h1.3v1.3h-1.3zM448.7 431.2h1.3v1.3h-1.3zM374.5 467.1h1.3v1.3h-1.3zM473.9 413.4h1.3v1.3h-1.3zM498.6 402.5h1.3v1.3h-1.3zM470.5 417.3h1.3v1.3h-1.3zM446.2 430.9h1.3v1.3h-1.3zM470.6 417.1h1.3v1.3h-1.3zM493.6 406.9h1.3v1.3h-1.3zM496.1 406.2h1.3v1.3h-1.3zM403.5 454.1h1.3v1.3h-1.3zM450.3 426.7h1.3v1.3h-1.3zM368.1 471.9h1.3v1.3h-1.3zM490.1 404.2h1.3v1.3h-1.3zM362.7 472.9h1.3v1.3h-1.3zM396.8 458.5h1.3v1.3h-1.3zM439.3 433.5h1.3v1.3h-1.3zM387.3 463.7h1.3v1.3h-1.3zM416.7 449.8h1.3v1.3h-1.3zM406.2 454.7h1.3v1.3h-1.3zM453.2 427.9h1.3v1.3h-1.3zM431.1 440.7h1.3v1.3h-1.3zM477.4 413.1h1.3v1.3h-1.3zM446.4 431.5h1.3v1.3h-1.3zM461.2 423.7h1.3v1.3h-1.3zM356.5 475.0h1.3v1.3h-1.3zM454.5 426.7h1.3v1.3h-1.3zM489.4 407.6h1.3v1.3h-1.3zM374.3 466.4h1.3v1.3h-1.3zM470.5 418.7h1.3v1.3h-1.3zM470.7 418.4h1.3v1.3h-1.3zM366.5 473.2h1.3v1.3h-1.3zM445.5 432.5h1.3v1.3h-1.3zM400.4 455.6h1.3v1.3h-1.3zM409.1 452.2h1.3v1.3h-1.3zM501.8 403.2h1.3v1.3h-1.3zM438.9 434.8h1.3v1.3h-1.3zM425.0 441.7h1.3v1.3h-1.3zM472.6 413.7h1.3v1.3h-1.3zM412.2 449.4h1.3v1.3h-1.3zM373.4 470.2h1.3v1.3h-1.3zM499.8 398.5h1.3v1.3h-1.3zM378.1 465.6h1.3v1.3h-1.3zM488.0 410.4h1.3v1.3h-1.3zM499.3 403.5h1.3v1.3h-1.3zM423.8 443.7h1.3v1.3h-1.3zM372.0 467.6h1.3v1.3h-1.3zM422.5 442.7h1.3v1.3h-1.3zM434.8 437.9h1.3v1.3h-1.3zM471.0 418.8h1.3v1.3h-1.3zM502.6 402.1h1.3v1.3h-1.3zM390.5 459.4h1.3v1.3h-1.3zM359.2 474.6h1.3v1.3h-1.3zM500.0 399.9h1.3v1.3h-1.3zM354.5 474.9h1.3v1.3h-1.3zM497.2 401.4h1.3v1.3h-1.3zM486.8 412.6h1.3v1.3h-1.3zM487.8 407.9h1.3v1.3h-1.3zM413.9 448.4h1.3v1.3h-1.3zM383.9 461.3h1.3v1.3h-1.3zM443.0 434.6h1.3v1.3h-1.3zM418.4 446.6h1.3v1.3h-1.3zM459.6 420.4h1.3v1.3h-1.3zM382.6 462.6h1.3v1.3h-1.3zM424.0 445.6h1.3v1.3h-1.3zM489.8 405.7h1.3v1.3h-1.3zM441.7 436.6h1.3v1.3h-1.3zM492.0 405.6h1.3v1.3h-1.3zM465.6 415.4h1.3v1.3h-1.3zM374.1 469.4h1.3v1.3h-1.3zM450.0 429.7h1.3v1.3h-1.3zM381.5 465.7h1.3v1.3h-1.3zM364.7 471.9h1.3v1.3h-1.3zM443.8 431.7h1.3v1.3h-1.3zM355.4 475.8h1.3v1.3h-1.3zM361.9 472.7h1.3v1.3h-1.3zM412.2 446.3h1.3v1.3h-1.3zM381.0 466.2h1.3v1.3h-1.3zM452.9 426.0h1.3v1.3h-1.3zM395.4 459.7h1.3v1.3h-1.3zM390.0 460.2h1.3v1.3h-1.3zM436.1 435.6h1.3v1.3h-1.3zM432.1 438.0h1.3v1.3h-1.3zM479.8 407.9h1.3v1.3h-1.3zM476.1 417.4h1.3v1.3h-1.3zM492.9 404.8h1.3v1.3h-1.3zM370.6 469.7h1.3v1.3h-1.3zM362.5 474.2h1.3v1.3h-1.3zM465.8 420.6h1.3v1.3h-1.3zM413.6 449.8h1.3v1.3h-1.3zM362.0 473.5h1.3v1.3h-1.3zM432.9 439.4h1.3v1.3h-1.3zM401.7 455.1h1.3v1.3h-1.3zM385.9 464.2h1.3v1.3h-1.3zM452.9 426.8h1.3v1.3h-1.3zM463.2 422.6h1.3v1.3h-1.3zM392.8 458.5h1.3v1.3h-1.3zM453.1 429.4h1.3v1.3h-1.3zM387.7 459.3h1.3v1.3h-1.3zM485.7 410.3h1.3v1.3h-1.3zM413.3 449.2h1.3v1.3h-1.3zM424.4 443.2h1.3v1.3h-1.3zM379.1 466.1h1.3v1.3h-1.3zM423.1 445.5h1.3v1.3h-1.3zM395.3 460.9h1.3v1.3h-1.3zM470.6 416.6h1.3v1.3h-1.3zM374.2 466.5h1.3v1.3h-1.3zM433.4 435.9h1.3v1.3h-1.3zM414.2 446.9h1.3v1.3h-1.3zM489.7 407.5h1.3v1.3h-1.3zM451.4 427.9h1.3v1.3h-1.3zM437.7 437.3h1.3v1.3h-1.3zM375.9 467.2h1.3v1.3h-1.3zM369.6 470.3h1.3v1.3h-1.3zM444.0 432.2h1.3v1.3h-1.3zM490.9 405.3h1.3v1.3h-1.3zM366.3 471.4h1.3v1.3h-1.3zM416.8 451.0h1.3v1.3h-1.3zM409.1 450.7h1.3v1.3h-1.3zM357.4 474.1h1.3v1.3h-1.3zM446.9 426.4h1.3v1.3h-1.3zM422.9 445.1h1.3v1.3h-1.3zM425.8 441.3h1.3v1.3h-1.3zM477.4 412.8h1.3v1.3h-1.3zM446.7 435.1h1.3v1.3h-1.3zM389.8 462.7h1.3v1.3h-1.3zM496.9 400.3h1.3v1.3h-1.3zM491.5 406.2h1.3v1.3h-1.3zM457.0 427.0h1.3v1.3h-1.3zM372.3 469.9h1.3v1.3h-1.3zM448.2 427.7h1.3v1.3h-1.3zM354.3 476.4h1.3v1.3h-1.3zM396.7 459.9h1.3v1.3h-1.3zM418.8 443.9h1.3v1.3h-1.3zM422.6 440.7h1.3v1.3h-1.3zM471.3 414.5h1.3v1.3h-1.3zM437.1 436.9h1.3v1.3h-1.3zM450.3 430.6h1.3v1.3h-1.3zM421.0 444.8h1.3v1.3h-1.3zM462.8 420.7h1.3v1.3h-1.3zM381.9 464.6h1.3v1.3h-1.3zM487.5 410.2h1.3v1.3h-1.3zM478.9 410.8h1.3v1.3h-1.3zM489.7 404.0h1.3v1.3h-1.3zM495.5 404.7h1.3v1.3h-1.3zM470.5 420.4h1.3v1.3h-1.3zM397.3 457.3h1.3v1.3h-1.3zM490.0 408.1h1.3v1.3h-1.3zM474.6 414.2h1.3v1.3h-1.3zM424.3 444.2h1.3v1.3h-1.3zM368.7 469.2h1.3v1.3h-1.3zM498.9 403.0h1.3v1.3h-1.3zM385.9 462.1h1.3v1.3h-1.3zM379.8 465.6h1.3v1.3h-1.3zM436.5 434.4h1.3v1.3h-1.3zM481.9 413.5h1.3v1.3h-1.3zM394.2 458.5h1.3v1.3h-1.3zM385.1 462.5h1.3v1.3h-1.3zM470.7 418.8h1.3v1.3h-1.3zM438.3 435.0h1.3v1.3h-1.3zM438.5 434.0h1.3v1.3h-1.3zM442.6 431.7h1.3v1.3h-1.3zM474.3 417.5h1.3v1.3h-1.3zM470.1 416.1h1.3v1.3h-1.3zM393.5 458.7h1.3v1.3h-1.3zM408.0 451.0h1.3v1.3h-1.3zM502.5 402.1h1.3v1.3h-1.3zM478.6 413.1h1.3v1.3h-1.3zM434.4 440.9h1.3v1.3h-1.3zM401.7 452.3h1.3v1.3h-1.3zM487.9 410.1h1.3v1.3h-1.3zM396.1 457.6h1.3v1.3h-1.3zM422.9 445.2h1.3v1.3h-1.3zM442.3 429.9h1.3v1.3h-1.3zM468.1 421.6h1.3v1.3h-1.3zM459.2 421.1h1.3v1.3h-1.3zM456.2 426.8h1.3v1.3h-1.3zM384.9 463.9h1.3v1.3h-1.3zM404.4 453.3h1.3v1.3h-1.3zM465.5 418.9h1.3v1.3h-1.3zM439.9 432.7h1.3v1.3h-1.3zM489.7 408.0h1.3v1.3h-1.3zM364.6 471.7h1.3v1.3h-1.3zM500.3 397.9h1.3v1.3h-1.3zM427.5 437.9h1.3v1.3h-1.3zM398.1 457.7h1.3v1.3h-1.3zM369.0 471.2h1.3v1.3h-1.3zM364.3 472.8h1.3v1.3h-1.3zM501.5 402.0h1.3v1.3h-1.3zM471.0 418.3h1.3v1.3h-1.3zM499.6 404.0h1.3v1.3h-1.3zM480.0 413.4h1.3v1.3h-1.3zM418.1 444.8h1.3v1.3h-1.3zM382.7 463.5h1.3v1.3h-1.3zM433.9 435.5h1.3v1.3h-1.3zM389.7 461.1h1.3v1.3h-1.3zM377.8 465.7h1.3v1.3h-1.3zM436.6 435.7h1.3v1.3h-1.3zM438.9 437.1h1.3v1.3h-1.3zM500.4 401.6h1.3v1.3h-1.3zM473.6 418.3h1.3v1.3h-1.3zM356.9 475.8h1.3v1.3h-1.3zM379.6 463.9h1.3v1.3h-1.3zM437.1 433.2h1.3v1.3h-1.3zM459.2 424.8h1.3v1.3h-1.3zM501.1 400.4h1.3v1.3h-1.3zM435.8 437.4h1.3v1.3h-1.3zM423.8 444.1h1.3v1.3h-1.3zM355.7 474.8h1.3v1.3h-1.3zM418.8 447.0h1.3v1.3h-1.3zM482.3 415.5h1.3v1.3h-1.3zM362.8 473.7h1.3v1.3h-1.3zM432.1 436.9h1.3v1.3h-1.3zM495.4 404.7h1.3v1.3h-1.3zM497.2 402.9h1.3v1.3h-1.3zM356.6 475.9h1.3v1.3h-1.3zM399.7 455.5h1.3v1.3h-1.3zM383.0 463.5h1.3v1.3h-1.3zM500.0 402.8h1.3v1.3h-1.3zM472.8 417.8h1.3v1.3h-1.3zM394.0 458.3h1.3v1.3h-1.3zM411.5 449.8h1.3v1.3h-1.3zM454.4 426.4h1.3v1.3h-1.3zM357.8 475.1h1.3v1.3h-1.3zM378.9 467.2h1.3v1.3h-1.3zM471.4 418.0h1.3v1.3h-1.3zM399.5 455.3h1.3v1.3h-1.3zM389.3 461.6h1.3v1.3h-1.3zM489.4 406.1h1.3v1.3h-1.3zM461.2 425.0h1.3v1.3h-1.3zM481.6 412.9h1.3v1.3h-1.3zM470.4 418.4h1.3v1.3h-1.3zM430.4 435.3h1.3v1.3h-1.3zM381.6 467.5h1.3v1.3h-1.3zM457.4 427.7h1.3v1.3h-1.3zM435.5 438.9h1.3v1.3h-1.3zM462.5 422.4h1.3v1.3h-1.3zM454.4 427.8h1.3v1.3h-1.3zM471.4 423.4h1.3v1.3h-1.3zM362.3 472.7h1.3v1.3h-1.3zM378.6 467.1h1.3v1.3h-1.3zM485.3 411.6h1.3v1.3h-1.3zM455.9 426.0h1.3v1.3h-1.3zM483.0 412.2h1.3v1.3h-1.3zM362.5 472.4h1.3v1.3h-1.3zM431.6 439.9h1.3v1.3h-1.3zM356.0 474.3h1.3v1.3h-1.3zM377.6 468.7h1.3v1.3h-1.3zM361.1 474.2h1.3v1.3h-1.3zM382.3 463.7h1.3v1.3h-1.3zM392.3 457.0h1.3v1.3h-1.3zM364.9 472.3h1.3v1.3h-1.3zM450.6 429.6h1.3v1.3h-1.3zM441.0 432.0h1.3v1.3h-1.3zM456.0 429.0h1.3v1.3h-1.3zM499.3 403.8h1.3v1.3h-1.3zM396.0 457.2h1.3v1.3h-1.3zM390.3 459.0h1.3v1.3h-1.3zM399.4 455.9h1.3v1.3h-1.3zM475.1 415.2h1.3v1.3h-1.3zM451.3 429.5h1.3v1.3h-1.3zM465.6 422.8h1.3v1.3h-1.3zM389.2 461.4h1.3v1.3h-1.3zM374.0 468.9h1.3v1.3h-1.3zM424.3 445.2h1.3v1.3h-1.3zM488.4 410.1h1.3v1.3h-1.3zM392.7 459.2h1.3v1.3h-1.3zM467.4 420.9h1.3v1.3h-1.3zM458.5 423.4h1.3v1.3h-1.3zM408.6 452.0h1.3v1.3h-1.3zM458.1 424.7h1.3v1.3h-1.3zM490.9 405.0h1.3v1.3h-1.3zM385.5 463.8h1.3v1.3h-1.3zM392.8 459.6h1.3v1.3h-1.3zM412.1 450.5h1.3v1.3h-1.3zM383.5 462.6h1.3v1.3h-1.3zM413.7 450.3h1.3v1.3h-1.3zM462.9 424.4h1.3v1.3h-1.3zM481.4 411.6h1.3v1.3h-1.3zM452.8 427.2h1.3v1.3h-1.3zM434.6 437.3h1.3v1.3h-1.3zM491.0 407.4h1.3v1.3h-1.3zM381.9 465.8h1.3v1.3h-1.3zM457.7 423.4h1.3v1.3h-1.3zM410.5 448.5h1.3v1.3h-1.3zM493.2 405.7h1.3v1.3h-1.3zM383.1 466.4h1.3v1.3h-1.3zM392.0 459.4h1.3v1.3h-1.3zM371.2 468.8h1.3v1.3h-1.3zM421.7 442.7h1.3v1.3h-1.3zM456.4 425.8h1.3v1.3h-1.3zM397.5 458.7h1.3v1.3h-1.3zM487.4 407.5h1.3v1.3h-1.3zM473.1 417.0h1.3v1.3h-1.3zM394.4 458.9h1.3v1.3h-1.3zM443.8 433.1h1.3v1.3h-1.3zM451.6 428.3h1.3v1.3h-1.3zM374.4 469.3h1.3v1.3h-1.3zM450.5 429.9h1.3v1.3h-1.3zM447.1 429.3h1.3v1.3h-1.3zM483.5 416.5h1.3v1.3h-1.3z" fill="#6ba643"/>
<polygon points="353.8,475.3 354.6,475.8 355.4,475.0 356.2,475.1 357.0,474.3 357.8,474.1 358.6,473.5 359.4,472.3 360.2,471.4 361.0,471.0 361.8,470.2 362.6,469.6 363.4,469.1 364.2,467.8 365.0,467.2 365.8,466.0 366.6,464.7 367.4,464.4 368.2,463.7 369.0,462.3 369.8,461.8 370.6,460.5 371.4,459.5 372.2,458.8 373.0,458.7 373.8,456.9 374.6,455.8 375.4,455.2 376.2,453.8 377.0,453.3 377.8,452.8 378.6,451.9 379.4,450.6 380.2,449.4 381.0,448.5 381.8,448.7 382.6,446.6 383.4,446.0 384.2,444.9 385.0,443.7 385.8,443.1 386.6,442.9 387.4,441.3 388.2,440.5 389.0,439.3 389.8,438.7 390.6,438.2 391.4,437.8 392.2,436.5 393.0,435.8 393.8,434.7 394.6,434.3 395.4,433.2 396.2,431.9 397.0,430.7 397.8,430.5 398.6,429.9 399.4,428.7 400.2,428.0 401.0,427.3 401.8,427.1 402.6,425.5 403.4,425.7 404.2,424.2 405.0,423.9 405.8,422.4 406.6,421.6 407.4,421.0 408.2,419.5 409.0,419.0 409.8,417.8 410.6,418.1 411.4,416.8 412.2,415.6 413.0,415.3 413.8,414.9 414.6,414.2 415.4,413.0 416.2,412.3 417.0,411.7 417.8,410.5 418.6,410.6 419.4,410.4 420.2,407.1 421.0,408.8 421.8,407.0 422.6,407.2 423.4,406.2 424.2,405.9 425.0,403.7 425.8,403.8 426.6,403.5 427.4,400.7 428.2,402.3 429.0,400.8 429.8,399.6 430.6,399.6 431.4,398.5 432.2,399.0 433.0,398.0 433.8,396.6 434.6,397.4 435.4,396.5 436.2,395.0 437.0,393.8 437.8,394.1 438.6,393.1 439.4,392.3 440.2,392.3 441.0,392.0 441.8,392.1 442.6,390.7 443.4,389.1 444.2,389.3 445.0,388.6 445.8,388.4 446.6,386.9 447.4,387.5 448.2,387.2 449.0,385.7 449.8,385.8 450.6,385.4 451.4,384.3 452.2,384.4 453.0,383.0 453.8,383.1 454.6,383.3 455.4,382.3 456.2,381.4 457.0,381.6 457.8,379.7 458.6,379.7 459.4,378.8 460.2,380.2 461.0,378.6 461.8,376.8 462.6,376.9 463.4,375.9 464.2,377.0 465.0,376.1 465.8,375.3 466.6,375.7 467.4,374.2 468.2,372.9 469.0,372.6 469.8,373.2 470.6,373.9 471.4,372.6 472.2,371.2 473.0,369.4 473.8,370.0 474.6,369.7 475.4,370.4 476.2,369.4 477.0,368.0 477.8,368.3 478.6,368.5 479.4,367.6 480.2,366.5 481.0,367.0 481.8,366.0 482.6,365.3 483.4,365.8 484.2,365.2 485.0,365.0 485.8,363.5 486.6,363.7 487.4,362.7 488.2,362.9 489.0,363.3 489.8,361.9 490.6,361.9 491.4,362.5 492.2,361.3 493.0,361.8 493.8,359.8 494.6,359.1 495.4,360.0 496.2,358.9 497.0,359.3 497.8,358.3 498.6,357.7 499.4,357.3 500.2,359.0 501.0,356.8 501.8,354.6 502.6,356.4 503.4,356.3 503.4,360.9 502.6,361.9 501.8,362.9 501.0,363.9 500.2,363.5 499.4,363.1 498.6,363.9 497.8,365.2 497.0,365.0 496.2,364.2 495.4,365.6 494.6,366.8 493.8,366.8 493.0,367.6 492.2,367.2 491.4,367.8 490.6,368.2 489.8,369.1 489.0,367.9 488.2,369.2 487.4,369.2 486.6,369.7 485.8,371.2 485.0,370.7 484.2,370.6 483.4,371.1 482.6,371.9 481.8,373.3 481.0,371.9 480.2,372.7 479.4,372.9 478.6,373.0 477.8,373.4 477.0,374.9 476.2,375.2 475.4,375.5 474.6,376.7 473.8,375.9 473.0,378.1 472.2,377.6 471.4,377.8 470.6,379.3 469.8,379.3 469.0,378.9 468.2,379.8 467.4,380.9 466.6,380.3 465.8,381.4 465.0,381.1 464.2,381.6 463.4,383.0 462.6,383.6 461.8,383.5 461.0,383.4 460.2,384.7 459.4,384.5 458.6,385.4 457.8,386.5 457.0,387.0 456.2,387.2 455.4,387.3 454.6,388.1 453.8,389.3 453.0,389.3 452.2,389.7 451.4,390.4 450.6,391.3 449.8,391.4 449.0,390.9 448.2,392.1 447.4,392.8 446.6,394.3 445.8,393.4 445.0,394.8 444.2,395.3 443.4,395.5 442.6,396.4 441.8,398.4 441.0,397.9 440.2,398.5 439.4,400.0 438.6,400.3 437.8,400.7 437.0,399.8 436.2,401.6 435.4,400.7 434.6,401.7 433.8,403.7 433.0,403.9 432.2,405.3 431.4,404.7 430.6,405.6 429.8,406.6 429.0,407.2 428.2,407.6 427.4,409.2 426.6,409.0 425.8,409.6 425.0,410.7 424.2,411.4 423.4,411.9 422.6,412.9 421.8,412.5 421.0,413.7 420.2,414.2 419.4,415.2 418.6,415.7 417.8,416.4 417.0,416.9 416.2,417.8 415.4,418.8 414.6,418.9 413.8,419.7 413.0,421.1 412.2,421.4 411.4,422.3 410.6,423.0 409.8,424.3 409.0,425.1 408.2,423.9 407.4,425.4 406.6,427.1 405.8,428.1 405.0,428.2 404.2,429.5 403.4,429.9 402.6,431.6 401.8,431.3 401.0,431.4 400.2,432.5 399.4,434.3 398.6,434.5 397.8,435.4 397.0,436.7 396.2,437.2 395.4,438.1 394.6,438.9 393.8,439.4 393.0,440.2 392.2,441.5 391.4,441.9 390.6,442.4 389.8,443.1 389.0,443.8 388.2,445.2 387.4,446.5 386.6,447.9 385.8,447.7 385.0,447.9 384.2,449.4 383.4,450.7 382.6,451.9 381.8,452.0 381.0,452.4 380.2,454.2 379.4,454.7 378.6,455.5 377.8,456.6 377.0,457.2 376.2,458.5 375.4,459.1 374.6,459.6 373.8,460.7 373.0,461.2 372.2,462.2 371.4,462.9 370.6,463.8 369.8,465.1 369.0,465.6 368.2,466.1 367.4,467.6 366.6,468.4 365.8,468.9 365.0,469.1 364.2,470.2 363.4,470.7 362.6,472.0 361.8,472.5 361.0,473.2 360.2,474.5 359.4,475.5 358.6,475.6 357.8,476.5 357.0,476.7 356.2,477.0 355.4,476.9 354.6,477.1 353.8,476.9" fill="#2e4c7f"/>
<path d="M428.6 397.3h1.3v1.3h-1.3zM443.3 391.6h1.3v1.3h-1.3zM428.0 400.0h1.3v1.3h-1.3zM363.1 469.6h1.3v1.3h-1.3zM431.3 400.2h1.3v1.3h-1.3zM373.4 458.6h1.3v1.3h-1.3zM360.6 471.0h1.3v1.3h-1.3zM488.8 368.6h1.3v1.3h-1.3zM392.8 438.0h1.3v1.3h-1.3zM364.6 469.1h1.3v1.3h-1.3zM356.0 475.3h1.3v1.3h-1.3zM482.5 365.2h1.3v1.3h-1.3zM481.5 364.7h1.3v1.3h-1.3zM464.7 376.4h1.3v1.3h-1.3zM471.8 374.3h1.3v1.3h-1.3zM395.4 432.7h1.3v1.3h-1.3zM440.7 399.9h1.3v1.3h-1.3zM463.5 378.3h1.3v1.3h-1.3zM391.2 439.3h1.3v1.3h-1.3zM462.8 379.1h1.3v1.3h-1.3zM472.6 369.9h1.3v1.3h-1.3zM431.6 403.4h1.3v1.3h-1.3zM449.8 388.9h1.3v1.3h-1.3zM357.9 474.5h1.3v1.3h-1.3zM410.1 417.4h1.3v1.3h-1.3zM402.0 427.4h1.3v1.3h-1.3zM407.5 421.9h1.3v1.3h-1.3zM491.6 366.5h1.3v1.3h-1.3zM494.0 358.8h1.3v1.3h-1.3zM362.9 469.8h1.3v1.3h-1.3zM440.9 396.8h1.3v1.3h-1.3zM383.5 446.0h1.3v1.3h-1.3zM451.0 384.4h1.3v1.3h-1.3zM498.9 363.7h1.3v1.3h-1.3zM375.4 456.0h1.3v1.3h-1.3zM411.5 420.8h1.3v1.3h-1.3zM404.9 426.2h1.3v1.3h-1.3zM459.6 383.6h1.3v1.3h-1.3zM475.1 371.4h1.3v1.3h-1.3zM360.8 469.1h1.3v1.3h-1.3zM384.9 446.3h1.3v1.3h-1.3zM409.4 418.7h1.3v1.3h-1.3zM496.9 362.7h1.3v1.3h-1.3zM467.3 374.9h1.3v1.3h-1.3zM447.3 393.2h1.3v1.3h-1.3zM497.7 360.1h1.3v1.3h-1.3zM412.9 418.8h1.3v1.3h-1.3zM473.2 375.8h1.3v1.3h-1.3zM391.2 438.4h1.3v1.3h-1.3zM392.8 437.4h1.3v1.3h-1.3zM490.2 364.2h1.3v1.3h-1.3zM475.7 369.2h1.3v1.3h-1.3zM446.9 393.1h1.3v1.3h-1.3zM377.8 451.6h1.3v1.3h-1.3zM400.8 425.3h1.3v1.3h-1.3zM491.6 362.2h1.3v1.3h-1.3zM421.7 409.4h1.3v1.3h-1.3zM360.6 471.5h1.3v1.3h-1.3zM388.8 440.4h1.3v1.3h-1.3zM441.7 391.9h1.3v1.3h-1.3zM482.1 362.7h1.3v1.3h-1.3zM421.8 410.4h1.3v1.3h-1.3zM390.9 442.1h1.3v1.3h-1.3zM472.2 371.6h1.3v1.3h-1.3zM400.3 425.4h1.3v1.3h-1.3zM393.9 437.1h1.3v1.3h-1.3zM440.0 393.9h1.3v1.3h-1.3zM430.8 391.3h1.3v1.3h-1.3zM482.4 366.1h1.3v1.3h-1.3zM421.4 405.8h1.3v1.3h-1.3zM450.1 384.1h1.3v1.3h-1.3zM422.1 413.5h1.3v1.3h-1.3zM454.6 386.7h1.3v1.3h-1.3zM488.0 364.8h1.3v1.3h-1.3zM368.5 463.3h1.3v1.3h-1.3zM487.0 369.8h1.3v1.3h-1.3zM488.2 362.3h1.3v1.3h-1.3zM407.8 423.4h1.3v1.3h-1.3zM354.6 475.1h1.3v1.3h-1.3zM422.3 410.6h1.3v1.3h-1.3zM454.5 384.8h1.3v1.3h-1.3zM383.8 445.1h1.3v1.3h-1.3zM381.3 451.1h1.3v1.3h-1.3zM408.2 422.6h1.3v1.3h-1.3zM487.6 370.2h1.3v1.3h-1.3zM443.2 391.0h1.3v1.3h-1.3zM457.9 382.4h1.3v1.3h-1.3zM441.4 391.5h1.3v1.3h-1.3zM454.5 387.4h1.3v1.3h-1.3zM419.0 409.7h1.3v1.3h-1.3zM428.1 403.6h1.3v1.3h-1.3zM370.0 463.4h1.3v1.3h-1.3zM502.2 360.3h1.3v1.3h-1.3zM379.2 452.0h1.3v1.3h-1.3zM475.6 372.3h1.3v1.3h-1.3zM448.4 389.2h1.3v1.3h-1.3zM465.8 378.8h1.3v1.3h-1.3zM432.8 399.1h1.3v1.3h-1.3zM436.0 392.3h1.3v1.3h-1.3zM405.1 427.3h1.3v1.3h-1.3zM365.7 465.0h1.3v1.3h-1.3zM447.6 393.6h1.3v1.3h-1.3zM445.5 391.1h1.3v1.3h-1.3zM403.3 433.0h1.3v1.3h-1.3zM490.8 367.0h1.3v1.3h-1.3zM491.9 364.5h1.3v1.3h-1.3zM408.6 423.1h1.3v1.3h-1.3zM422.8 404.7h1.3v1.3h-1.3zM386.0 444.4h1.3v1.3h-1.3zM461.2 379.0h1.3v1.3h-1.3zM383.0 447.4h1.3v1.3h-1.3zM401.3 423.8h1.3v1.3h-1.3zM496.3 355.6h1.3v1.3h-1.3zM376.9 455.1h1.3v1.3h-1.3zM487.1 365.8h1.3v1.3h-1.3zM437.3 395.2h1.3v1.3h-1.3zM383.6 446.5h1.3v1.3h-1.3zM474.5 370.5h1.3v1.3h-1.3zM440.9 392.4h1.3v1.3h-1.3zM469.7 376.6h1.3v1.3h-1.3zM410.2 418.9h1.3v1.3h-1.3zM400.5 430.3h1.3v1.3h-1.3zM370.5 460.1h1.3v1.3h-1.3zM373.1 455.5h1.3v1.3h-1.3zM430.9 399.6h1.3v1.3h-1.3zM413.0 416.4h1.3v1.3h-1.3zM362.8 467.9h1.3v1.3h-1.3zM382.2 447.4h1.3v1.3h-1.3zM426.4 403.7h1.3v1.3h-1.3zM361.3 471.6h1.3v1.3h-1.3zM355.5 476.1h1.3v1.3h-1.3zM453.0 387.9h1.3v1.3h-1.3zM367.6 463.2h1.3v1.3h-1.3zM415.8 414.9h1.3v1.3h-1.3zM493.0 366.1h1.3v1.3h-1.3zM367.5 464.5h1.3v1.3h-1.3zM412.4 417.1h1.3v1.3h-1.3zM383.3 445.5h1.3v1.3h-1.3zM471.7 375.7h1.3v1.3h-1.3zM430.9 401.7h1.3v1.3h-1.3zM366.6 466.4h1.3v1.3h-1.3zM466.9 376.0h1.3v1.3h-1.3zM491.1 369.0h1.3v1.3h-1.3zM471.3 373.7h1.3v1.3h-1.3zM387.0 440.6h1.3v1.3h-1.3zM501.1 359.7h1.3v1.3h-1.3zM454.7 385.2h1.3v1.3h-1.3zM410.3 422.2h1.3v1.3h-1.3zM367.4 463.8h1.3v1.3h-1.3zM432.8 398.4h1.3v1.3h-1.3zM365.9 465.7h1.3v1.3h-1.3zM373.5 457.1h1.3v1.3h-1.3zM451.1 380.9h1.3v1.3h-1.3zM465.5 379.0h1.3v1.3h-1.3zM445.8 393.2h1.3v1.3h-1.3zM421.0 407.7h1.3v1.3h-1.3zM478.5 367.4h1.3v1.3h-1.3zM481.6 367.9h1.3v1.3h-1.3zM359.6 471.6h1.3v1.3h-1.3zM463.7 380.3h1.3v1.3h-1.3zM474.2 370.6h1.3v1.3h-1.3zM444.1 392.8h1.3v1.3h-1.3zM417.8 409.4h1.3v1.3h-1.3zM469.2 371.4h1.3v1.3h-1.3zM358.3 472.1h1.3v1.3h-1.3zM488.2 361.4h1.3v1.3h-1.3zM433.9 400.0h1.3v1.3h-1.3zM441.1 395.6h1.3v1.3h-1.3zM452.9 385.5h1.3v1.3h-1.3zM423.7 407.8h1.3v1.3h-1.3zM398.3 426.5h1.3v1.3h-1.3zM391.0 440.8h1.3v1.3h-1.3zM378.7 449.9h1.3v1.3h-1.3zM356.3 476.1h1.3v1.3h-1.3zM481.2 374.7h1.3v1.3h-1.3zM498.6 360.4h1.3v1.3h-1.3zM456.5 384.4h1.3v1.3h-1.3zM399.4 431.2h1.3v1.3h-1.3zM413.7 413.1h1.3v1.3h-1.3zM474.7 369.1h1.3v1.3h-1.3zM425.0 404.4h1.3v1.3h-1.3zM412.3 417.7h1.3v1.3h-1.3zM470.0 376.8h1.3v1.3h-1.3zM394.7 435.0h1.3v1.3h-1.3zM370.2 462.9h1.3v1.3h-1.3zM413.0 415.6h1.3v1.3h-1.3zM485.3 362.8h1.3v1.3h-1.3zM502.0 358.9h1.3v1.3h-1.3zM386.9 442.9h1.3v1.3h-1.3zM470.1 370.9h1.3v1.3h-1.3zM369.7 463.3h1.3v1.3h-1.3zM452.1 383.2h1.3v1.3h-1.3zM372.2 458.1h1.3v1.3h-1.3zM386.4 444.0h1.3v1.3h-1.3zM470.2 371.7h1.3v1.3h-1.3zM370.7 461.6h1.3v1.3h-1.3zM430.8 402.3h1.3v1.3h-1.3zM404.9 425.4h1.3v1.3h-1.3zM501.3 359.1h1.3v1.3h-1.3zM467.8 374.7h1.3v1.3h-1.3zM396.4 431.5h1.3v1.3h-1.3zM500.1 360.4h1.3v1.3h-1.3zM448.6 391.6h1.3v1.3h-1.3zM377.4 454.7h1.3v1.3h-1.3zM396.5 433.7h1.3v1.3h-1.3zM474.6 374.6h1.3v1.3h-1.3zM496.5 364.7h1.3v1.3h-1.3zM359.5 471.2h1.3v1.3h-1.3zM439.1 394.8h1.3v1.3h-1.3zM383.6 448.9h1.3v1.3h-1.3zM459.2 379.5h1.3v1.3h-1.3zM354.8 475.2h1.3v1.3h-1.3zM464.2 379.7h1.3v1.3h-1.3zM434.0 398.4h1.3v1.3h-1.3zM448.7 391.2h1.3v1.3h-1.3zM425.8 404.8h1.3v1.3h-1.3zM454.3 385.8h1.3v1.3h-1.3zM478.0 376.7h1.3v1.3h-1.3zM365.1 468.2h1.3v1.3h-1.3zM404.7 421.8h1.3v1.3h-1.3zM383.7 444.8h1.3v1.3h-1.3zM422.2 406.2h1.3v1.3h-1.3zM443.9 391.3h1.3v1.3h-1.3zM414.4 412.3h1.3v1.3h-1.3zM470.9 375.6h1.3v1.3h-1.3zM355.8 476.6h1.3v1.3h-1.3zM378.2 455.1h1.3v1.3h-1.3zM374.5 455.6h1.3v1.3h-1.3zM367.6 463.9h1.3v1.3h-1.3zM443.8 390.7h1.3v1.3h-1.3zM456.0 381.1h1.3v1.3h-1.3zM407.6 425.6h1.3v1.3h-1.3zM459.0 379.5h1.3v1.3h-1.3zM407.8 419.3h1.3v1.3h-1.3zM441.4 394.2h1.3v1.3h-1.3zM360.1 472.2h1.3v1.3h-1.3zM405.3 427.5h1.3v1.3h-1.3zM362.7 471.0h1.3v1.3h-1.3zM466.2 376.4h1.3v1.3h-1.3zM452.7 380.0h1.3v1.3h-1.3zM481.3 370.2h1.3v1.3h-1.3zM484.7 368.8h1.3v1.3h-1.3zM435.6 402.2h1.3v1.3h-1.3zM375.4 453.2h1.3v1.3h-1.3zM399.0 428.0h1.3v1.3h-1.3zM449.0 391.8h1.3v1.3h-1.3zM456.1 387.2h1.3v1.3h-1.3zM458.8 384.7h1.3v1.3h-1.3zM369.1 462.6h1.3v1.3h-1.3zM372.6 460.5h1.3v1.3h-1.3zM461.8 378.1h1.3v1.3h-1.3zM366.4 464.0h1.3v1.3h-1.3zM429.9 401.9h1.3v1.3h-1.3zM419.2 411.4h1.3v1.3h-1.3zM476.0 373.3h1.3v1.3h-1.3zM367.3 465.9h1.3v1.3h-1.3zM464.2 373.5h1.3v1.3h-1.3zM403.8 426.1h1.3v1.3h-1.3zM455.2 384.8h1.3v1.3h-1.3zM378.3 450.3h1.3v1.3h-1.3zM446.2 389.0h1.3v1.3h-1.3zM465.7 377.2h1.3v1.3h-1.3zM456.9 383.6h1.3v1.3h-1.3zM468.3 373.3h1.3v1.3h-1.3zM445.2 388.8h1.3v1.3h-1.3zM430.9 398.4h1.3v1.3h-1.3zM453.7 385.4h1.3v1.3h-1.3zM372.0 458.9h1.3v1.3h-1.3zM453.3 383.3h1.3v1.3h-1.3zM376.1 455.8h1.3v1.3h-1.3zM423.8 406.7h1.3v1.3h-1.3zM423.0 404.8h1.3v1.3h-1.3zM371.2 461.8h1.3v1.3h-1.3zM386.4 445.3h1.3v1.3h-1.3zM461.7 380.6h1.3v1.3h-1.3zM449.0 385.1h1.3v1.3h-1.3zM426.0 408.0h1.3v1.3h-1.3zM455.6 381.8h1.3v1.3h-1.3zM412.0 413.3h1.3v1.3h-1.3zM424.9 405.8h1.3v1.3h-1.3zM416.7 417.4h1.3v1.3h-1.3zM466.5 375.4h1.3v1.3h-1.3zM363.8 468.8h1.3v1.3h-1.3zM475.0 375.2h1.3v1.3h-1.3zM355.7 475.5h1.3v1.3h-1.3zM402.4 426.2h1.3v1.3h-1.3zM498.6 360.2h1.3v1.3h-1.3zM387.7 443.2h1.3v1.3h-1.3zM407.7 420.6h1.3v1.3h-1.3zM378.9 452.2h1.3v1.3h-1.3zM479.1 370.9h1.3v1.3h-1.3zM380.5 449.4h1.3v1.3h-1.3zM412.4 418.8h1.3v1.3h-1.3zM405.3 425.2h1.3v1.3h-1.3zM385.7 443.7h1.3v1.3h-1.3zM436.6 396.3h1.3v1.3h-1.3zM407.7 421.9h1.3v1.3h-1.3zM494.1 361.8h1.3v1.3h-1.3zM422.2 407.9h1.3v1.3h-1.3zM460.7 377.5h1.3v1.3h-1.3zM358.2 473.6h1.3v1.3h-1.3zM478.7 371.6h1.3v1.3h-1.3zM442.2 394.1h1.3v1.3h-1.3zM398.6 429.0h1.3v1.3h-1.3zM436.2 398.5h1.3v1.3h-1.3zM355.9 475.7h1.3v1.3h-1.3zM377.1 452.3h1.3v1.3h-1.3zM459.5 382.1h1.3v1.3h-1.3zM423.5 406.9h1.3v1.3h-1.3zM487.5 364.4h1.3v1.3h-1.3zM459.7 381.2h1.3v1.3h-1.3zM493.6 361.9h1.3v1.3h-1.3zM480.7 363.1h1.3v1.3h-1.3zM372.0 459.7h1.3v1.3h-1.3zM479.8 366.3h1.3v1.3h-1.3zM457.4 381.9h1.3v1.3h-1.3zM381.4 450.1h1.3v1.3h-1.3zM375.3 455.3h1.3v1.3h-1.3zM399.5 428.8h1.3v1.3h-1.3zM474.3 372.4h1.3v1.3h-1.3zM411.8 418.9h1.3v1.3h-1.3zM434.5 396.3h1.3v1.3h-1.3zM428.6 401.5h1.3v1.3h-1.3zM447.9 389.7h1.3v1.3h-1.3zM418.7 415.2h1.3v1.3h-1.3zM364.3 467.7h1.3v1.3h-1.3zM496.9 363.1h1.3v1.3h-1.3zM439.2 392.9h1.3v1.3h-1.3zM359.5 472.3h1.3v1.3h-1.3zM383.3 447.0h1.3v1.3h-1.3zM494.1 358.9h1.3v1.3h-1.3zM496.6 361.0h1.3v1.3h-1.3zM430.2 401.3h1.3v1.3h-1.3zM408.0 415.9h1.3v1.3h-1.3zM419.2 410.8h1.3v1.3h-1.3zM403.9 425.9h1.3v1.3h-1.3zM428.4 403.8h1.3v1.3h-1.3zM446.5 390.1h1.3v1.3h-1.3zM375.1 454.2h1.3v1.3h-1.3zM498.2 358.4h1.3v1.3h-1.3zM385.9 443.6h1.3v1.3h-1.3zM367.3 463.4h1.3v1.3h-1.3zM446.8 388.0h1.3v1.3h-1.3zM407.5 424.4h1.3v1.3h-1.3zM466.1 374.5h1.3v1.3h-1.3zM381.4 448.3h1.3v1.3h-1.3zM436.2 401.5h1.3v1.3h-1.3zM373.8 457.1h1.3v1.3h-1.3zM477.8 367.6h1.3v1.3h-1.3zM389.9 440.2h1.3v1.3h-1.3zM497.1 361.2h1.3v1.3h-1.3zM388.2 441.8h1.3v1.3h-1.3zM441.7 388.7h1.3v1.3h-1.3zM418.5 412.3h1.3v1.3h-1.3zM497.3 361.6h1.3v1.3h-1.3zM408.2 425.6h1.3v1.3h-1.3zM442.0 394.4h1.3v1.3h-1.3zM487.3 364.3h1.3v1.3h-1.3zM369.0 463.1h1.3v1.3h-1.3zM429.0 404.4h1.3v1.3h-1.3zM484.4 366.5h1.3v1.3h-1.3zM394.7 434.6h1.3v1.3h-1.3zM374.0 459.1h1.3v1.3h-1.3zM442.8 393.4h1.3v1.3h-1.3zM476.9 372.1h1.3v1.3h-1.3zM487.0 363.2h1.3v1.3h-1.3zM428.2 404.5h1.3v1.3h-1.3zM384.7 442.2h1.3v1.3h-1.3zM356.1 476.1h1.3v1.3h-1.3zM413.3 415.5h1.3v1.3h-1.3zM375.2 456.8h1.3v1.3h-1.3zM443.4 395.2h1.3v1.3h-1.3zM458.3 379.1h1.3v1.3h-1.3zM457.1 385.4h1.3v1.3h-1.3zM386.3 444.1h1.3v1.3h-1.3zM501.5 362.0h1.3v1.3h-1.3zM471.3 373.1h1.3v1.3h-1.3zM451.3 384.7h1.3v1.3h-1.3zM475.2 375.0h1.3v1.3h-1.3zM496.2 362.5h1.3v1.3h-1.3zM407.4 422.2h1.3v1.3h-1.3zM473.0 370.2h1.3v1.3h-1.3zM418.5 414.9h1.3v1.3h-1.3zM415.5 413.9h1.3v1.3h-1.3zM501.7 358.6h1.3v1.3h-1.3zM377.4 452.5h1.3v1.3h-1.3zM430.5 401.8h1.3v1.3h-1.3zM474.9 373.5h1.3v1.3h-1.3zM451.7 386.0h1.3v1.3h-1.3zM414.7 415.1h1.3v1.3h-1.3zM471.7 372.4h1.3v1.3h-1.3zM391.5 441.0h1.3v1.3h-1.3zM433.1 403.7h1.3v1.3h-1.3zM431.4 400.3h1.3v1.3h-1.3zM379.5 449.8h1.3v1.3h-1.3zM383.1 447.7h1.3v1.3h-1.3zM483.5 363.5h1.3v1.3h-1.3zM372.6 459.1h1.3v1.3h-1.3zM500.5 360.3h1.3v1.3h-1.3zM406.2 423.6h1.3v1.3h-1.3zM499.5 364.0h1.3v1.3h-1.3zM462.8 383.4h1.3v1.3h-1.3zM429.4 403.7h1.3v1.3h-1.3zM486.1 365.3h1.3v1.3h-1.3zM372.5 460.4h1.3v1.3h-1.3zM439.6 397.4h1.3v1.3h-1.3zM464.5 375.0h1.3v1.3h-1.3zM464.4 376.2h1.3v1.3h-1.3zM402.0 426.9h1.3v1.3h-1.3zM364.7 465.5h1.3v1.3h-1.3zM497.7 358.0h1.3v1.3h-1.3zM491.9 367.5h1.3v1.3h-1.3zM403.1 423.7h1.3v1.3h-1.3zM480.3 371.2h1.3v1.3h-1.3zM378.1 451.4h1.3v1.3h-1.3zM398.1 433.3h1.3v1.3h-1.3zM501.2 360.1h1.3v1.3h-1.3zM372.3 460.4h1.3v1.3h-1.3zM443.9 388.1h1.3v1.3h-1.3zM465.3 378.1h1.3v1.3h-1.3zM476.6 369.7h1.3v1.3h-1.3zM494.2 364.3h1.3v1.3h-1.3zM366.7 466.1h1.3v1.3h-1.3zM463.6 378.9h1.3v1.3h-1.3zM454.5 383.9h1.3v1.3h-1.3zM431.4 401.0h1.3v1.3h-1.3zM395.4 434.6h1.3v1.3h-1.3zM482.1 366.9h1.3v1.3h-1.3zM409.7 419.0h1.3v1.3h-1.3zM454.9 382.4h1.3v1.3h-1.3zM405.2 422.1h1.3v1.3h-1.3zM421.9 411.3h1.3v1.3h-1.3zM500.4 356.3h1.3v1.3h-1.3zM387.4 444.9h1.3v1.3h-1.3zM480.9 370.5h1.3v1.3h-1.3zM366.0 463.9h1.3v1.3h-1.3zM497.8 356.2h1.3v1.3h-1.3zM450.2 387.2h1.3v1.3h-1.3zM406.8 420.4h1.3v1.3h-1.3zM474.2 372.7h1.3v1.3h-1.3zM466.8 378.9h1.3v1.3h-1.3zM498.5 361.3h1.3v1.3h-1.3zM460.3 380.0h1.3v1.3h-1.3zM471.1 373.6h1.3v1.3h-1.3zM413.2 419.9h1.3v1.3h-1.3zM477.7 369.6h1.3v1.3h-1.3zM470.8 378.5h1.3v1.3h-1.3zM429.4 407.6h1.3v1.3h-1.3zM393.5 435.4h1.3v1.3h-1.3zM500.7 360.3h1.3v1.3h-1.3zM426.2 409.4h1.3v1.3h-1.3zM476.0 369.7h1.3v1.3h-1.3zM365.6 466.9h1.3v1.3h-1.3zM402.9 428.7h1.3v1.3h-1.3zM385.9 442.4h1.3v1.3h-1.3zM466.4 377.8h1.3v1.3h-1.3zM414.2 416.1h1.3v1.3h-1.3zM475.9 370.2h1.3v1.3h-1.3zM408.0 424.9h1.3v1.3h-1.3zM404.5 424.7h1.3v1.3h-1.3zM405.2 429.1h1.3v1.3h-1.3zM393.0 438.0h1.3v1.3h-1.3zM441.9 391.3h1.3v1.3h-1.3zM432.9 400.6h1.3v1.3h-1.3zM490.7 362.2h1.3v1.3h-1.3zM408.7 422.7h1.3v1.3h-1.3zM375.9 456.3h1.3v1.3h-1.3zM485.6 363.6h1.3v1.3h-1.3zM497.2 360.1h1.3v1.3h-1.3zM438.1 397.0h1.3v1.3h-1.3zM366.6 465.4h1.3v1.3h-1.3zM431.3 398.9h1.3v1.3h-1.3zM385.0 447.1h1.3v1.3h-1.3zM407.9 424.6h1.3v1.3h-1.3zM419.0 408.2h1.3v1.3h-1.3zM363.9 469.8h1.3v1.3h-1.3zM432.1 395.5h1.3v1.3h-1.3zM432.3 400.0h1.3v1.3h-1.3zM394.1 434.3h1.3v1.3h-1.3zM370.9 460.0h1.3v1.3h-1.3zM444.8 391.4h1.3v1.3h-1.3zM454.8 381.3h1.3v1.3h-1.3zM500.8 359.2h1.3v1.3h-1.3zM446.8 393.6h1.3v1.3h-1.3zM385.7 445.2h1.3v1.3h-1.3zM385.3 447.5h1.3v1.3h-1.3zM356.4 475.7h1.3v1.3h-1.3zM368.3 461.5h1.3v1.3h-1.3zM477.0 375.2h1.3v1.3h-1.3zM359.6 473.1h1.3v1.3h-1.3zM423.8 408.9h1.3v1.3h-1.3zM384.7 444.9h1.3v1.3h-1.3zM450.5 385.6h1.3v1.3h-1.3zM471.7 371.2h1.3v1.3h-1.3zM438.2 395.4h1.3v1.3h-1.3zM459.2 381.5h1.3v1.3h-1.3zM360.4 471.5h1.3v1.3h-1.3zM369.3 462.3h1.3v1.3h-1.3zM363.1 466.9h1.3v1.3h-1.3zM393.3 434.9h1.3v1.3h-1.3zM357.4 473.6h1.3v1.3h-1.3zM466.0 377.8h1.3v1.3h-1.3zM481.1 367.6h1.3v1.3h-1.3zM468.1 374.7h1.3v1.3h-1.3zM394.0 435.8h1.3v1.3h-1.3zM416.5 412.7h1.3v1.3h-1.3zM451.8 385.3h1.3v1.3h-1.3zM380.3 452.1h1.3v1.3h-1.3zM402.4 426.7h1.3v1.3h-1.3zM458.0 379.8h1.3v1.3h-1.3zM428.2 405.1h1.3v1.3h-1.3zM412.2 419.3h1.3v1.3h-1.3zM388.1 442.9h1.3v1.3h-1.3zM472.2 370.3h1.3v1.3h-1.3zM401.5 429.8h1.3v1.3h-1.3zM417.0 413.3h1.3v1.3h-1.3zM437.4 396.7h1.3v1.3h-1.3zM382.9 447.6h1.3v1.3h-1.3zM488.5 366.2h1.3v1.3h-1.3zM401.5 428.9h1.3v1.3h-1.3zM467.2 379.9h1.3v1.3h-1.3zM450.8 387.3h1.3v1.3h-1.3zM378.7 452.0h1.3v1.3h-1.3zM355.5 475.9h1.3v1.3h-1.3zM423.5 407.4h1.3v1.3h-1.3zM466.0 379.7h1.3v1.3h-1.3zM373.9 457.5h1.3v1.3h-1.3zM473.5 374.6h1.3v1.3h-1.3zM383.3 446.2h1.3v1.3h-1.3zM409.7 422.1h1.3v1.3h-1.3zM372.5 459.8h1.3v1.3h-1.3zM377.6 452.0h1.3v1.3h-1.3zM445.8 389.3h1.3v1.3h-1.3zM464.3 378.3h1.3v1.3h-1.3zM362.1 468.7h1.3v1.3h-1.3zM478.3 367.6h1.3v1.3h-1.3zM436.0 398.6h1.3v1.3h-1.3zM437.7 397.4h1.3v1.3h-1.3zM430.2 405.2h1.3v1.3h-1.3zM372.9 456.7h1.3v1.3h-1.3zM495.5 360.9h1.3v1.3h-1.3zM483.9 362.4h1.3v1.3h-1.3zM370.9 463.0h1.3v1.3h-1.3zM398.9 428.0h1.3v1.3h-1.3zM381.7 448.4h1.3v1.3h-1.3zM418.2 416.5h1.3v1.3h-1.3zM419.4 414.3h1.3v1.3h-1.3zM494.8 360.0h1.3v1.3h-1.3zM453.6 390.2h1.3v1.3h-1.3zM494.5 363.3h1.3v1.3h-1.3zM480.3 366.6h1.3v1.3h-1.3zM378.8 452.4h1.3v1.3h-1.3zM467.2 377.9h1.3v1.3h-1.3zM443.2 393.5h1.3v1.3h-1.3zM375.6 452.4h1.3v1.3h-1.3zM437.6 400.6h1.3v1.3h-1.3zM459.9 376.9h1.3v1.3h-1.3zM376.5 454.2h1.3v1.3h-1.3zM486.8 369.3h1.3v1.3h-1.3zM495.5 362.7h1.3v1.3h-1.3zM502.2 358.7h1.3v1.3h-1.3zM356.5 474.4h1.3v1.3h-1.3zM408.5 422.2h1.3v1.3h-1.3zM379.7 453.2h1.3v1.3h-1.3zM374.3 456.1h1.3v1.3h-1.3zM443.5 392.8h1.3v1.3h-1.3zM421.4 408.4h1.3v1.3h-1.3zM450.2 386.1h1.3v1.3h-1.3zM469.3 370.1h1.3v1.3h-1.3zM416.5 414.2h1.3v1.3h-1.3zM478.2 372.5h1.3v1.3h-1.3zM482.5 367.6h1.3v1.3h-1.3zM502.5 361.3h1.3v1.3h-1.3zM354.6 475.7h1.3v1.3h-1.3zM404.1 427.8h1.3v1.3h-1.3zM494.4 362.7h1.3v1.3h-1.3zM483.2 366.8h1.3v1.3h-1.3zM387.3 441.9h1.3v1.3h-1.3zM480.4 369.3h1.3v1.3h-1.3zM492.0 364.1h1.3v1.3h-1.3zM473.5 370.9h1.3v1.3h-1.3zM371.8 459.5h1.3v1.3h-1.3zM463.4 375.5h1.3v1.3h-1.3zM354.2 474.8h1.3v1.3h-1.3zM439.7 396.2h1.3v1.3h-1.3zM440.3 395.1h1.3v1.3h-1.3zM469.3 377.3h1.3v1.3h-1.3zM398.9 430.9h1.3v1.3h-1.3zM424.9 407.0h1.3v1.3h-1.3zM412.3 421.5h1.3v1.3h-1.3zM368.2 462.6h1.3v1.3h-1.3zM410.0 420.4h1.3v1.3h-1.3zM457.6 386.0h1.3v1.3h-1.3zM455.8 388.3h1.3v1.3h-1.3zM380.1 451.4h1.3v1.3h-1.3zM357.8 473.8h1.3v1.3h-1.3zM484.4 364.6h1.3v1.3h-1.3zM451.9 385.6h1.3v1.3h-1.3zM368.5 463.4h1.3v1.3h-1.3zM441.6 393.3h1.3v1.3h-1.3zM388.9 441.9h1.3v1.3h-1.3zM458.2 383.2h1.3v1.3h-1.3zM481.1 367.6h1.3v1.3h-1.3zM407.3 420.5h1.3v1.3h-1.3zM474.3 371.6h1.3v1.3h-1.3zM360.4 472.0h1.3v1.3h-1.3zM388.4 444.4h1.3v1.3h-1.3zM410.5 415.7h1.3v1.3h-1.3zM423.5 410.0h1.3v1.3h-1.3zM419.6 410.3h1.3v1.3h-1.3zM487.6 368.1h1.3v1.3h-1.3zM392.4 440.7h1.3v1.3h-1.3zM380.7 450.6h1.3v1.3h-1.3zM482.5 365.2h1.3v1.3h-1.3zM441.5 392.2h1.3v1.3h-1.3zM448.5 389.1h1.3v1.3h-1.3zM417.3 412.2h1.3v1.3h-1.3zM440.3 393.9h1.3v1.3h-1.3zM479.4 367.7h1.3v1.3h-1.3zM386.6 443.0h1.3v1.3h-1.3zM424.7 405.1h1.3v1.3h-1.3zM396.3 434.7h1.3v1.3h-1.3zM439.2 395.7h1.3v1.3h-1.3zM404.9 426.1h1.3v1.3h-1.3zM405.5 420.7h1.3v1.3h-1.3zM406.4 422.1h1.3v1.3h-1.3zM405.3 422.6h1.3v1.3h-1.3zM444.3 390.1h1.3v1.3h-1.3zM371.1 459.3h1.3v1.3h-1.3zM404.9 423.1h1.3v1.3h-1.3zM356.3 476.2h1.3v1.3h-1.3zM413.9 415.4h1.3v1.3h-1.3zM375.1 454.2h1.3v1.3h-1.3zM441.2 392.8h1.3v1.3h-1.3zM382.8 451.2h1.3v1.3h-1.3zM501.2 360.9h1.3v1.3h-1.3zM461.4 377.6h1.3v1.3h-1.3zM388.1 441.3h1.3v1.3h-1.3zM498.6 360.2h1.3v1.3h-1.3zM479.1 369.8h1.3v1.3h-1.3zM372.3 456.6h1.3v1.3h-1.3zM453.1 382.9h1.3v1.3h-1.3zM483.7 366.9h1.3v1.3h-1.3zM354.7 474.5h1.3v1.3h-1.3zM372.3 458.8h1.3v1.3h-1.3zM382.4 448.0h1.3v1.3h-1.3zM447.1 391.0h1.3v1.3h-1.3zM441.7 395.5h1.3v1.3h-1.3zM368.9 462.6h1.3v1.3h-1.3zM372.2 459.5h1.3v1.3h-1.3zM368.0 464.6h1.3v1.3h-1.3zM417.4 415.0h1.3v1.3h-1.3zM396.1 433.5h1.3v1.3h-1.3zM419.9 409.0h1.3v1.3h-1.3zM492.8 364.3h1.3v1.3h-1.3zM429.9 404.2h1.3v1.3h-1.3zM408.6 421.3h1.3v1.3h-1.3zM414.2 416.9h1.3v1.3h-1.3zM447.2 392.9h1.3v1.3h-1.3zM492.1 362.0h1.3v1.3h-1.3zM422.4 406.8h1.3v1.3h-1.3zM474.7 369.5h1.3v1.3h-1.3zM464.4 378.8h1.3v1.3h-1.3zM454.1 386.7h1.3v1.3h-1.3zM444.3 390.0h1.3v1.3h-1.3zM445.9 394.3h1.3v1.3h-1.3zM428.3 402.2h1.3v1.3h-1.3zM373.3 458.4h1.3v1.3h-1.3zM450.4 386.6h1.3v1.3h-1.3zM370.8 462.6h1.3v1.3h-1.3zM467.7 374.5h1.3v1.3h-1.3zM391.6 441.0h1.3v1.3h-1.3zM459.4 380.6h1.3v1.3h-1.3z" fill="#2e4c7f"/>
<line x1="353.2" y1="453.0" x2="353.2" y2="464.2" stroke="#000" stroke-width="1.2"/>
<polygon points="350.30,462.70 353.20,464.10 356.10,462.70 353.20,468.50" fill="#000"/>
<rect x="405.5" y="437.59999999999997" width="1.6" height="1.6" fill="#6ba643"/>
<rect x="465.09999999999997" y="441.8" width="1.6" height="1.6" fill="#a2002b"/>
<polyline points="343.6,481.70000000000005 353.76,481.70000000000005 354.12,476.6" fill="none" stroke="#2e4c7f" stroke-width="2"/>
<text x="11.4" y="566.9" font-size="18.3" text-anchor="start" font-weight="bold" font-style="normal" stroke="#111" stroke-width="0.7">D</text>
<text x="72.4" y="589.4" font-size="11" text-anchor="start" font-weight="normal" font-style="normal" textLength="93.0" lengthAdjust="spacingAndGlyphs" >+ PAR4-AP (&#181;M)</text>
<text x="192.6" y="589.4" font-size="11" text-anchor="start" font-weight="normal" font-style="normal" textLength="96.8" lengthAdjust="spacingAndGlyphs" >Collagen (&#181;g/ml)</text>
<line x1="51.2" y1="611" x2="51.2" y2="807.0" stroke="#000" stroke-width="1.5"/>
<polygon points="47.4,612.6 51.2,610.8 55.0,612.6 51.2,603.3" fill="#000"/>
<text transform="translate(42.6,705.3) rotate(-90)" x="0" y="0" font-size="14.6" text-anchor="middle" textLength="163.8" lengthAdjust="spacingAndGlyphs">Aggregation (light transmitted)</text>
<line x1="63.8" y1="841.3" x2="300.0" y2="841.3" stroke="#000" stroke-width="1.5"/>
<polygon points="298,837.8 298,844.8 308.5,841.3" fill="#000"/>
<text x="173.0" y="859.0" font-size="13" text-anchor="start" font-weight="normal" font-style="normal" textLength="26.0" lengthAdjust="spacingAndGlyphs" >Time</text>
<text x="60.3" y="629.7" font-size="11" text-anchor="start" font-weight="normal" font-style="normal" textLength="18.9" lengthAdjust="spacingAndGlyphs" >500</text>
<line x1="70.1" y1="635.3" x2="70.1" y2="643.0" stroke="#000" stroke-width="1.3"/>
<polygon points="67.50,641.50 70.10,642.90 72.70,641.50 70.10,647.00" fill="#000"/>
<text x="61.2" y="704.9" font-size="11" text-anchor="start" font-weight="normal" font-style="normal" textLength="19.2" lengthAdjust="spacingAndGlyphs" >150</text>
<line x1="70.5" y1="709.9" x2="70.5" y2="717.2" stroke="#000" stroke-width="1.3"/>
<polygon points="67.90,715.70 70.50,717.10 73.10,715.70 70.50,721.20" fill="#000"/>
<text x="60.6" y="775.5" font-size="11" text-anchor="start" font-weight="normal" font-style="normal" textLength="19.0" lengthAdjust="spacingAndGlyphs" >125</text>
<line x1="69.9" y1="781.2" x2="69.9" y2="787.8" stroke="#000" stroke-width="1.3"/>
<polygon points="67.30,786.30 69.90,787.70 72.50,786.30 69.90,791.80" fill="#000"/>
<text x="184.3" y="629.7" font-size="11" text-anchor="start" font-weight="normal" font-style="normal" textLength="12.6" lengthAdjust="spacingAndGlyphs" >10</text>
<line x1="190.5" y1="635.4" x2="190.5" y2="642.9" stroke="#000" stroke-width="1.3"/>
<polygon points="187.90,641.40 190.50,642.80 193.10,641.40 190.50,646.90" fill="#000"/>
<text x="181.3" y="704.9" font-size="11" text-anchor="start" font-weight="normal" font-style="normal" textLength="16.4" lengthAdjust="spacingAndGlyphs" >7.5</text>
<line x1="189.4" y1="708.9" x2="189.4" y2="716.2" stroke="#000" stroke-width="1.3"/>
<polygon points="186.80,714.70 189.40,716.10 192.00,714.70 189.40,720.20" fill="#000"/>
<text x="181.3" y="775.3" font-size="11" text-anchor="start" font-weight="normal" font-style="normal" textLength="16.4" lengthAdjust="spacingAndGlyphs" >2.5</text>
<line x1="189.7" y1="780.3" x2="189.7" y2="787.5" stroke="#000" stroke-width="1.3"/>
<polygon points="187.10,786.00 189.70,787.40 192.30,786.00 189.70,791.50" fill="#000"/>
<line x1="73.0" y1="813.8" x2="93.8" y2="813.8" stroke="#000" stroke-width="2.0"/>
<line x1="192.1" y1="814.0" x2="205.0" y2="814.0" stroke="#000" stroke-width="2.0"/>
<text x="68.6" y="828.7" font-size="11" text-anchor="start" font-weight="normal" font-style="normal" textLength="29.8" lengthAdjust="spacingAndGlyphs" >1 min</text>
<text x="184.4" y="828.7" font-size="11" text-anchor="start" font-weight="normal" font-style="normal" textLength="28.8" lengthAdjust="spacingAndGlyphs" >1 min</text>
<rect x="69.10" y="654.80" width="1.8" height="1.20" fill="#173c82"/>
<rect x="69.10" y="656.80" width="1.8" height="1.20" fill="#ad0029"/>
<rect x="69.10" y="658.80" width="1.8" height="1.20" fill="#55b03a"/>
<polyline points="64.80,652.80 71.30,652.80 72.50,659.50 75.10,659.50" fill="none" stroke="#173c82" stroke-width="1.9" stroke-linejoin="round"/>
<polyline points="64.80,652.80 71.50,652.80 72.70,659.50 76.00,659.50" fill="none" stroke="#ad0029" stroke-width="1.9" stroke-linejoin="round"/>
<polyline points="64.80,653.20 71.70,653.20 72.90,659.50 75.60,659.50" fill="none" stroke="#55b03a" stroke-width="1.9" stroke-linejoin="round"/>
<polyline points="76.00,659.50 76.40,659.15 76.80,658.58 77.20,657.90 77.60,657.13 78.00,656.31 78.40,655.45 78.80,654.56 79.20,653.64 79.60,652.72 80.00,651.78 80.40,650.84 80.80,649.91 81.20,648.97 81.60,648.04 82.00,647.12 82.40,646.21 82.80,645.31 83.20,644.42 83.60,643.54 84.00,642.68 84.40,641.84 84.80,641.01 85.20,640.19 85.60,639.40 86.00,638.62 86.40,637.85 86.80,637.11 87.20,636.38 87.60,635.67 88.00,634.97 88.40,634.29 88.80,633.63 89.20,632.99 89.60,632.36 90.00,631.75 90.40,631.15 90.80,630.57 91.20,630.00 91.60,629.45 92.00,628.92 92.40,628.39 92.80,627.89 93.20,627.39 93.60,626.91 94.00,626.45 94.40,625.99 94.80,625.55 95.20,625.13 95.60,624.71 96.00,624.31 96.40,623.91 96.80,623.53 97.20,623.16 97.60,622.80 98.00,622.45 98.40,622.11 98.80,621.78 99.20,621.46 99.60,621.15 100.00,620.85 100.40,620.55 100.80,620.27 101.20,619.99 101.60,619.72 102.00,619.46 102.40,619.21 102.80,618.96 103.20,618.72 103.60,618.49 104.00,618.26 104.40,618.04 104.80,617.83 105.20,617.62 105.60,617.42 106.00,617.22 106.40,617.03 106.80,616.85 107.20,616.67 107.60,616.49 108.00,616.32 108.40,616.16 108.80,616.00 109.20,615.84 109.60,615.69 110.00,615.54 110.40,615.40 110.80,615.26 111.20,615.12 111.60,614.99 112.00,614.86 112.40,614.73 112.80,614.61 113.20,614.49 113.60,614.38 114.00,614.26 114.40,614.15 114.80,614.05 115.20,613.94 115.60,613.84 116.00,613.74 116.40,613.64 116.80,613.55 117.20,613.45 117.60,613.36 118.00,613.28 118.40,613.19 118.80,613.11 119.20,613.02 119.60,612.94 120.00,612.87 120.40,612.79 120.80,612.71 121.20,612.64 121.60,612.57 122.00,612.50 122.40,612.43 122.80,612.36 123.20,612.30 123.60,612.23 124.00,612.17 124.40,612.11 124.80,612.05 125.20,611.99 125.60,611.93 126.00,611.87 126.40,611.82 126.80,611.76 127.20,611.71 127.60,611.65 128.00,611.60 128.40,611.55 128.80,611.50 129.20,611.45 129.60,611.40 130.00,611.35 130.40,611.31 130.80,611.26 131.20,611.21 131.60,611.17 132.00,611.12 132.40,611.08 132.80,611.04 133.20,611.00 133.60,610.95 134.00,610.91 134.40,610.87 134.80,610.83 135.20,610.79 135.60,610.75 136.00,610.71 136.40,610.67 136.80,610.64 137.20,610.60 137.60,610.56 138.00,610.52 138.40,610.49 138.80,610.45 139.20,610.42 139.60,610.38 140.00,610.35 140.40,610.31 140.80,610.28 141.20,610.24 141.60,610.21 142.00,610.18 142.40,610.14 142.80,610.11 143.20,610.08 143.60,610.04 144.00,610.01 144.40,609.98 144.80,609.95 145.20,609.92 145.60,609.89 146.00,609.86 146.40,609.82 146.80,609.79 147.20,609.76 147.60,609.73 148.00,609.70 148.40,609.67 148.80,609.64 149.20,609.61 149.60,609.58 150.00,609.56 150.40,609.53 150.80,609.50 151.20,609.47 151.60,609.44 152.00,609.41 152.40,609.38 152.80,609.35 153.20,609.33 153.60,609.30 154.00,609.27 154.40,609.24 154.80,609.21 155.20,609.19 155.60,609.16 156.00,609.13 156.40,609.10 156.80,609.08 157.20,609.05 157.60,609.02 158.00,608.99 158.40,608.97 158.80,608.94 159.20,608.91 159.60,608.89 160.00,608.86 160.40,608.83 160.80,608.81 161.20,608.78 161.60,608.75 162.00,608.73 162.40,608.70 162.80,608.67 163.20,608.65 163.60,608.62 164.00,608.60 164.40,608.57 164.80,608.54 165.20,608.52 165.60,608.49 166.00,608.47 166.40,608.44 166.80,608.41 167.20,608.39 167.60,608.36 168.00,608.34 168.40,608.31 168.80,608.28 169.20,608.26 169.60,608.23 170.00,608.21 170.40,608.18" fill="none" stroke="#ad0029" stroke-width="2.1" stroke-linejoin="round" stroke-linecap="round"/>
<polyline points="75.60,659.50 76.00,659.02 76.40,658.21 76.80,657.06 77.20,655.62 77.60,653.97 78.00,652.16 78.40,650.26 78.80,648.32 79.20,646.37 79.60,644.45 80.00,642.58 80.40,640.78 80.80,639.05 81.20,637.41 81.60,635.87 82.00,634.41 82.40,633.04 82.80,631.77 83.20,630.58 83.60,629.46 84.00,628.43 84.40,627.47 84.80,626.57 85.20,625.74 85.60,624.97 86.00,624.25 86.40,623.58 86.80,622.96 87.20,622.38 87.60,621.83 88.00,621.33 88.40,620.85 88.80,620.40 89.20,619.99 89.60,619.59 90.00,619.22 90.40,618.87 90.80,618.54 91.20,618.22 91.60,617.92 92.00,617.64 92.40,617.36 92.80,617.10 93.20,616.86 93.60,616.62 94.00,616.39 94.40,616.17 94.80,615.96 95.20,615.76 95.60,615.56 96.00,615.37 96.40,615.18 96.80,615.01 97.20,614.83 97.60,614.66 98.00,614.50 98.40,614.34 98.80,614.19 99.20,614.04 99.60,613.89 100.00,613.74 100.40,613.60 100.80,613.47 101.20,613.33 101.60,613.20 102.00,613.07 102.40,612.95 102.80,612.82 103.20,612.70 103.60,612.58 104.00,612.47 104.40,612.35 104.80,612.24 105.20,612.13 105.60,612.02 106.00,611.92 106.40,611.81 106.80,611.71 107.20,611.61 107.60,611.51 108.00,611.42 108.40,611.32 108.80,611.23 109.20,611.14 109.60,611.05 110.00,610.96 110.40,610.87 110.80,610.78 111.20,610.70 111.60,610.62 112.00,610.54 112.40,610.46 112.80,610.38 113.20,610.30 113.60,610.22 114.00,610.15 114.40,610.08 114.80,610.00 115.20,609.93 115.60,609.86 116.00,609.79 116.40,609.73 116.80,609.66 117.20,609.59 117.60,609.53 118.00,609.47 118.40,609.40 118.80,609.34 119.20,609.28 119.60,609.22 120.00,609.17 120.40,609.11 120.80,609.05 121.20,609.00 121.60,608.94 122.00,608.89 122.40,608.83 122.80,608.78 123.20,608.73 123.60,608.68 124.00,608.63 124.40,608.58 124.80,608.54 125.20,608.49 125.60,608.44 126.00,608.40 126.40,608.35 126.80,608.31 127.20,608.26 127.60,608.22 128.00,608.18 128.40,608.14 128.80,608.10 129.20,608.06 129.60,608.02 130.00,607.98 130.40,607.94 130.80,607.90 131.20,607.87 131.60,607.83 132.00,607.80 132.40,607.76 132.80,607.73 133.20,607.69 133.60,607.66 134.00,607.63 134.40,607.59 134.80,607.56 135.20,607.53 135.60,607.50 136.00,607.47 136.40,607.44 136.80,607.41 137.20,607.38 137.60,607.35 138.00,607.33 138.40,607.30 138.80,607.27 139.20,607.25 139.60,607.22 140.00,607.19 140.40,607.17 140.80,607.14 141.20,607.12 141.60,607.10 142.00,607.07 142.40,607.05 142.80,607.03 143.20,607.00 143.60,606.98 144.00,606.96 144.40,606.94 144.80,606.92 145.20,606.90 145.60,606.88 146.00,606.86 146.40,606.84 146.80,606.82 147.20,606.80 147.60,606.78 148.00,606.76 148.40,606.74 148.80,606.73 149.20,606.71 149.60,606.69 150.00,606.67 150.40,606.66 150.80,606.64 151.20,606.62 151.60,606.61 152.00,606.59 152.40,606.58 152.80,606.56 153.20,606.55 153.60,606.53 154.00,606.52 154.40,606.50 154.80,606.49 155.20,606.48 155.60,606.46 156.00,606.45 156.40,606.44 156.80,606.42 157.20,606.41 157.60,606.40 158.00,606.39 158.40,606.37 158.80,606.36 159.20,606.35 159.60,606.34 160.00,606.33 160.40,606.32 160.80,606.31 161.20,606.30 161.60,606.29 162.00,606.27 162.40,606.26 162.80,606.25 163.20,606.24 163.60,606.23 164.00,606.23 164.40,606.22 164.80,606.21 165.20,606.20 165.60,606.19 166.00,606.18 166.40,606.17 166.80,606.16 167.20,606.15 167.60,606.15 168.00,606.14 168.40,606.13 168.80,606.12 169.20,606.11 169.60,606.11 170.00,606.10 170.40,606.09" fill="none" stroke="#55b03a" stroke-width="2.1" stroke-linejoin="round" stroke-linecap="round"/>
<polyline points="75.10,659.51 75.50,657.83 75.90,655.10 76.30,651.82 76.70,649.01 77.10,646.17 77.50,643.77 77.90,641.07 78.30,638.88 78.70,635.98 79.10,634.74 79.50,632.37 79.90,630.74 80.30,628.85 80.70,627.23 81.10,626.00 81.50,624.75 81.90,623.27 82.30,622.14 82.70,621.30 83.10,619.94 83.50,618.89 83.90,618.54 84.30,617.51 84.70,616.50 85.10,616.13 85.50,615.61 85.90,614.88 86.30,614.29 86.70,614.20 87.10,613.98 87.50,613.29 87.90,612.78 88.30,612.71 88.70,612.47 89.10,611.91 89.50,611.84 89.90,611.70 90.30,611.14 90.70,610.76 91.10,610.83 91.50,610.60 91.90,610.62 92.30,609.85 92.70,609.83 93.10,609.63 93.50,609.25 93.90,609.57 94.30,609.54 94.70,609.09 95.10,609.50 95.50,609.24 95.90,609.08 96.30,608.91 96.70,608.95 97.10,608.28 97.50,608.67 97.90,608.57 98.30,607.89 98.70,608.33 99.10,608.10 99.50,608.28 99.90,607.89 100.30,607.92 100.70,607.94 101.10,607.56 101.50,607.86 101.90,607.61 102.30,607.70 102.70,607.38 103.10,607.71 103.50,607.53 103.90,607.27 104.30,607.42 104.70,607.51 105.10,607.59 105.50,606.69 105.90,607.25 106.30,607.09 106.70,606.89 107.10,606.61 107.50,607.12 107.90,606.44 108.30,606.85 108.70,606.98 109.10,606.21 109.50,606.48 109.90,606.18 110.30,606.52 110.70,606.79 111.10,606.87 111.50,605.88 111.90,606.13 112.30,606.41 112.70,606.58 113.10,606.25 113.50,605.91 113.90,606.13 114.30,606.01 114.70,605.92 115.10,605.75 115.50,605.99 115.90,605.93 116.30,605.79 116.70,605.71 117.10,605.41 117.50,605.57 117.90,605.95 118.30,605.57 118.70,605.22 119.10,605.87 119.50,605.64 119.90,605.99 120.30,605.45 120.70,605.28 121.10,605.00 121.50,605.66 121.90,605.93 122.30,605.05 122.70,605.06 123.10,605.34 123.50,604.95 123.90,605.06 124.30,605.00 124.70,605.11 125.10,605.30 125.50,605.00 125.90,605.20 126.30,604.83 126.70,604.99 127.10,604.34 127.50,604.48 127.90,605.02 128.30,604.64 128.70,604.90 129.10,604.87 129.50,605.03 129.90,604.88 130.30,604.90 130.70,604.59 131.10,604.42 131.50,604.38 131.90,604.42 132.30,604.23 132.70,604.35 133.10,604.44 133.50,604.50 133.90,604.33 134.30,603.90 134.70,604.34 135.10,604.39 135.50,604.58 135.90,604.43 136.30,604.10 136.70,604.06 137.10,604.72 137.50,604.38 137.90,604.63 138.30,604.68 138.70,603.92 139.10,604.20 139.50,604.20 139.90,604.20 140.30,604.18 140.70,604.07 141.10,604.04 141.50,603.60 141.90,603.92 142.30,603.75 142.70,603.95 143.10,603.78 143.50,604.03 143.90,604.06 144.30,603.92 144.70,603.90 145.10,603.83 145.50,603.67 145.90,603.72 146.30,603.62 146.70,603.83 147.10,603.71 147.50,603.84 147.90,603.34 148.30,603.88 148.70,603.45 149.10,603.44 149.50,603.56 149.90,603.45 150.30,603.65 150.70,603.41 151.10,603.27 151.50,603.31 151.90,603.84 152.30,603.51 152.70,603.19 153.10,603.47 153.50,603.06 153.90,603.88 154.30,603.04 154.70,603.52 155.10,603.53 155.50,603.01 155.90,603.44 156.30,603.60 156.70,603.45 157.10,603.39 157.50,603.54 157.90,603.33 158.30,603.36 158.70,603.23 159.10,603.41 159.50,603.00 159.90,603.43 160.30,603.09 160.70,602.93 161.10,603.28 161.50,603.60 161.90,603.41 162.30,603.02 162.70,603.32 163.10,603.02 163.50,603.09 163.90,603.13 164.30,602.52 164.70,603.13 165.10,602.81 165.50,602.89 165.90,602.68 166.30,602.66 166.70,602.79 167.10,603.22 167.50,603.42 167.90,602.99 168.30,603.26 168.70,602.91 169.10,602.49 169.50,602.99 169.90,603.06 170.30,602.83" fill="none" stroke="#173c82" stroke-width="2.2" stroke-linejoin="round" stroke-linecap="round"/>
<rect x="68.70" y="729.30" width="1.8" height="1.20" fill="#ad0029"/>
<rect x="68.70" y="731.30" width="1.8" height="1.20" fill="#55b03a"/>
<rect x="68.70" y="733.30" width="1.8" height="1.20" fill="#173c82"/>
<polyline points="65.10,727.50 71.10,727.50 72.30,734.30 75.80,734.30" fill="none" stroke="#173c82" stroke-width="1.9" stroke-linejoin="round"/>
<polyline points="65.10,727.20 71.30,727.20 72.50,734.30 83.50,734.30" fill="none" stroke="#ad0029" stroke-width="1.9" stroke-linejoin="round"/>
<polyline points="65.10,727.70 71.50,727.70 72.70,734.30 82.60,734.30" fill="none" stroke="#55b03a" stroke-width="1.9" stroke-linejoin="round"/>
<polyline points="83.50,734.30 83.90,734.08 84.30,733.85 84.70,733.63 85.10,733.41 85.50,733.19 85.90,732.97 86.30,732.75 86.70,732.53 87.10,732.31 87.50,732.09 87.90,731.87 88.30,731.64 88.70,731.41 89.10,731.18 89.50,730.95 89.90,730.71 90.30,730.46 90.70,730.21 91.10,729.96 91.50,729.70 91.90,729.43 92.30,729.16 92.70,728.88 93.10,728.59 93.50,728.30 93.90,728.01 94.30,727.70 94.70,727.40 95.10,727.08 95.50,726.76 95.90,726.44 96.30,726.11 96.70,725.77 97.10,725.44 97.50,725.10 97.90,724.75 98.30,724.40 98.70,724.05 99.10,723.70 99.50,723.34 99.90,722.98 100.30,722.62 100.70,722.26 101.10,721.90 101.50,721.54 101.90,721.18 102.30,720.82 102.70,720.46 103.10,720.10 103.50,719.74 103.90,719.38 104.30,719.03 104.70,718.67 105.10,718.32 105.50,717.97 105.90,717.62 106.30,717.27 106.70,716.93 107.10,716.59 107.50,716.25 107.90,715.92 108.30,715.59 108.70,715.26 109.10,714.93 109.50,714.61 109.90,714.30 110.30,713.98 110.70,713.67 111.10,713.36 111.50,713.06 111.90,712.76 112.30,712.47 112.70,712.18 113.10,711.89 113.50,711.60 113.90,711.32 114.30,711.05 114.70,710.77 115.10,710.50 115.50,710.24 115.90,709.98 116.30,709.72 116.70,709.47 117.10,709.22 117.50,708.97 117.90,708.73 118.30,708.49 118.70,708.25 119.10,708.02 119.50,707.79 119.90,707.56 120.30,707.34 120.70,707.12 121.10,706.90 121.50,706.69 121.90,706.48 122.30,706.27 122.70,706.07 123.10,705.87 123.50,705.67 123.90,705.48 124.30,705.28 124.70,705.10 125.10,704.91 125.50,704.73 125.90,704.54 126.30,704.37 126.70,704.19 127.10,704.02 127.50,703.84 127.90,703.68 128.30,703.51 128.70,703.34 129.10,703.18 129.50,703.02 129.90,702.87 130.30,702.71 130.70,702.56 131.10,702.40 131.50,702.26 131.90,702.11 132.30,701.96 132.70,701.82 133.10,701.68 133.50,701.54 133.90,701.40 134.30,701.26 134.70,701.13 135.10,700.99 135.50,700.86 135.90,700.73 136.30,700.61 136.70,700.48 137.10,700.35 137.50,700.23 137.90,700.11 138.30,699.99 138.70,699.87 139.10,699.75 139.50,699.63 139.90,699.52 140.30,699.40 140.70,699.29 141.10,699.18 141.50,699.07 141.90,698.96 142.30,698.85 142.70,698.74 143.10,698.64 143.50,698.53 143.90,698.43 144.30,698.33 144.70,698.22 145.10,698.12 145.50,698.02 145.90,697.93 146.30,697.83 146.70,697.73 147.10,697.64 147.50,697.54 147.90,697.45 148.30,697.35 148.70,697.26 149.10,697.17 149.50,697.08 149.90,696.99 150.30,696.90 150.70,696.82 151.10,696.73 151.50,696.64 151.90,696.56 152.30,696.47 152.70,696.39 153.10,696.30 153.50,696.22 153.90,696.14 154.30,696.06 154.70,695.98 155.10,695.90 155.50,695.82 155.90,695.74 156.30,695.66 156.70,695.59 157.10,695.51 157.50,695.43 157.90,695.36 158.30,695.28 158.70,695.21 159.10,695.14 159.50,695.06 159.90,694.99 160.30,694.92 160.70,694.85 161.10,694.78 161.50,694.71 161.90,694.64 162.30,694.57 162.70,694.50 163.10,694.43 163.50,694.37 163.90,694.30 164.30,694.23 164.70,694.17 165.10,694.10 165.50,694.04 165.90,693.97 166.30,693.91 166.70,693.84 167.10,693.78 167.50,693.72 167.90,693.66 168.30,693.60 168.70,693.53 169.10,693.47 169.50,693.41 169.90,693.35 170.30,693.29" fill="none" stroke="#ad0029" stroke-width="2.1" stroke-linejoin="round" stroke-linecap="round"/>
<polyline points="82.60,734.30 83.00,734.10 83.40,733.75 83.80,733.32 84.20,732.83 84.60,732.28 85.00,731.69 85.40,731.07 85.80,730.43 86.20,729.76 86.60,729.07 87.00,728.38 87.40,727.67 87.80,726.96 88.20,726.24 88.60,725.52 89.00,724.81 89.40,724.09 89.80,723.38 90.20,722.67 90.60,721.97 91.00,721.27 91.40,720.59 91.80,719.91 92.20,719.24 92.60,718.57 93.00,717.92 93.40,717.28 93.80,716.65 94.20,716.03 94.60,715.42 95.00,714.82 95.40,714.23 95.80,713.65 96.20,713.09 96.60,712.53 97.00,711.99 97.40,711.46 97.80,710.94 98.20,710.43 98.60,709.93 99.00,709.44 99.40,708.96 99.80,708.49 100.20,708.04 100.60,707.59 101.00,707.15 101.40,706.72 101.80,706.31 102.20,705.90 102.60,705.50 103.00,705.11 103.40,704.73 103.80,704.36 104.20,703.99 104.60,703.64 105.00,703.29 105.40,702.95 105.80,702.62 106.20,702.30 106.60,701.98 107.00,701.67 107.40,701.37 107.80,701.08 108.20,700.79 108.60,700.51 109.00,700.23 109.40,699.97 109.80,699.70 110.20,699.45 110.60,699.20 111.00,698.95 111.40,698.71 111.80,698.48 112.20,698.25 112.60,698.02 113.00,697.80 113.40,697.59 113.80,697.38 114.20,697.18 114.60,696.97 115.00,696.78 115.40,696.59 115.80,696.40 116.20,696.21 116.60,696.03 117.00,695.85 117.40,695.68 117.80,695.51 118.20,695.34 118.60,695.18 119.00,695.02 119.40,694.86 119.80,694.71 120.20,694.56 120.60,694.41 121.00,694.26 121.40,694.12 121.80,693.98 122.20,693.84 122.60,693.71 123.00,693.57 123.40,693.44 123.80,693.31 124.20,693.19 124.60,693.06 125.00,692.94 125.40,692.82 125.80,692.70 126.20,692.59 126.60,692.47 127.00,692.36 127.40,692.25 127.80,692.14 128.20,692.03 128.60,691.92 129.00,691.82 129.40,691.71 129.80,691.61 130.20,691.51 130.60,691.41 131.00,691.31 131.40,691.22 131.80,691.12 132.20,691.03 132.60,690.93 133.00,690.84 133.40,690.75 133.80,690.66 134.20,690.57 134.60,690.48 135.00,690.39 135.40,690.31 135.80,690.22 136.20,690.14 136.60,690.05 137.00,689.97 137.40,689.89 137.80,689.81 138.20,689.73 138.60,689.65 139.00,689.57 139.40,689.49 139.80,689.41 140.20,689.33 140.60,689.25 141.00,689.18 141.40,689.10 141.80,689.03 142.20,688.95 142.60,688.88 143.00,688.81 143.40,688.73 143.80,688.66 144.20,688.59 144.60,688.52 145.00,688.45 145.40,688.38 145.80,688.31 146.20,688.24 146.60,688.17 147.00,688.10 147.40,688.03 147.80,687.96 148.20,687.89 148.60,687.83 149.00,687.76 149.40,687.69 149.80,687.63 150.20,687.56 150.60,687.49 151.00,687.43 151.40,687.36 151.80,687.30 152.20,687.23 152.60,687.17 153.00,687.10 153.40,687.04 153.80,686.98 154.20,686.91 154.60,686.85 155.00,686.79 155.40,686.72 155.80,686.66 156.20,686.60 156.60,686.53 157.00,686.47 157.40,686.41 157.80,686.35 158.20,686.29 158.60,686.23 159.00,686.16 159.40,686.10 159.80,686.04 160.20,685.98 160.60,685.92 161.00,685.86 161.40,685.80 161.80,685.74 162.20,685.68 162.60,685.62 163.00,685.56 163.40,685.50 163.80,685.44 164.20,685.38 164.60,685.32 165.00,685.26 165.40,685.20 165.80,685.15 166.20,685.09 166.60,685.03 167.00,684.97 167.40,684.91 167.80,684.85 168.20,684.79 168.60,684.74 169.00,684.68 169.40,684.62 169.80,684.56 170.20,684.50" fill="none" stroke="#55b03a" stroke-width="2.1" stroke-linejoin="round" stroke-linecap="round"/>
<polyline points="75.80,734.30 76.20,732.39 76.60,729.52 77.00,726.65 77.40,724.09 77.80,720.76 78.20,718.45 78.60,716.02 79.00,714.25 79.40,712.64 79.80,710.66 80.20,709.23 80.60,707.21 81.00,706.43 81.40,705.00 81.80,704.61 82.20,703.42 82.60,702.55 83.00,701.50 83.40,700.93 83.80,700.27 84.20,699.41 84.60,698.80 85.00,698.37 85.40,697.77 85.80,697.32 86.20,696.98 86.60,696.48 87.00,696.49 87.40,695.55 87.80,695.83 88.20,695.17 88.60,694.90 89.00,694.42 89.40,694.46 89.80,694.19 90.20,694.06 90.60,693.65 91.00,693.58 91.40,693.80 91.80,693.24 92.20,692.80 92.60,692.99 93.00,692.53 93.40,692.53 93.80,692.36 94.20,691.93 94.60,691.38 95.00,691.61 95.40,691.68 95.80,691.29 96.20,691.34 96.60,691.32 97.00,690.80 97.40,691.09 97.80,691.05 98.20,690.78 98.60,690.66 99.00,690.51 99.40,690.67 99.80,690.02 100.20,689.85 100.60,689.87 101.00,689.37 101.40,689.09 101.80,689.14 102.20,689.33 102.60,689.24 103.00,688.63 103.40,688.43 103.80,688.71 104.20,688.63 104.60,688.56 105.00,688.64 105.40,688.67 105.80,688.32 106.20,688.31 106.60,687.79 107.00,687.67 107.40,687.93 107.80,687.94 108.20,687.86 108.60,687.74 109.00,687.69 109.40,687.61 109.80,686.88 110.20,687.05 110.60,687.26 111.00,687.21 111.40,686.60 111.80,687.19 112.20,686.71 112.60,686.68 113.00,686.73 113.40,686.77 113.80,686.15 114.20,686.68 114.60,686.38 115.00,686.09 115.40,686.15 115.80,685.60 116.20,685.91 116.60,686.05 117.00,685.76 117.40,685.79 117.80,685.77 118.20,685.75 118.60,685.93 119.00,685.61 119.40,685.49 119.80,685.63 120.20,685.95 120.60,685.29 121.00,685.44 121.40,684.86 121.80,685.54 122.20,685.31 122.60,685.43 123.00,685.02 123.40,684.72 123.80,685.15 124.20,685.07 124.60,684.61 125.00,684.41 125.40,684.84 125.80,684.64 126.20,685.29 126.60,684.43 127.00,684.41 127.40,684.46 127.80,684.03 128.20,684.18 128.60,684.77 129.00,684.28 129.40,684.12 129.80,683.91 130.20,684.33 130.60,684.31 131.00,684.17 131.40,683.97 131.80,684.10 132.20,684.08 132.60,683.78 133.00,684.07 133.40,683.35 133.80,683.52 134.20,683.73 134.60,683.74 135.00,683.44 135.40,683.78 135.80,683.93 136.20,683.75 136.60,683.66 137.00,683.78 137.40,683.64 137.80,683.22 138.20,683.42 138.60,683.77 139.00,683.13 139.40,683.40 139.80,683.26 140.20,683.10 140.60,683.04 141.00,683.29 141.40,683.32 141.80,683.29 142.20,682.83 142.60,683.09 143.00,683.22 143.40,683.35 143.80,683.25 144.20,683.27 144.60,683.31 145.00,683.22 145.40,682.78 145.80,682.98 146.20,682.76 146.60,682.32 147.00,682.48 147.40,683.40 147.80,682.57 148.20,682.27 148.60,682.66 149.00,683.17 149.40,682.76 149.80,682.85 150.20,682.66 150.60,682.69 151.00,683.01 151.40,682.87 151.80,682.63 152.20,682.86 152.60,682.88 153.00,682.54 153.40,682.65 153.80,682.63 154.20,682.38 154.60,682.82 155.00,682.47 155.40,682.34 155.80,682.06 156.20,682.15 156.60,682.83 157.00,682.15 157.40,682.52 157.80,682.31 158.20,682.51 158.60,682.52 159.00,682.16 159.40,682.27 159.80,682.35 160.20,682.34 160.60,682.29 161.00,682.21 161.40,682.43 161.80,682.59 162.20,682.38 162.60,682.05 163.00,682.32 163.40,682.23 163.80,682.31 164.20,682.65 164.60,682.12 165.00,682.16 165.40,681.93 165.80,682.07 166.20,681.99 166.60,682.52 167.00,682.18 167.40,681.96 167.80,682.57 168.20,681.75 168.60,682.28 169.00,682.31 169.40,682.19 169.80,681.97 170.20,682.00" fill="none" stroke="#173c82" stroke-width="2.2" stroke-linejoin="round" stroke-linecap="round"/>
<rect x="68.90" y="800.30" width="1.8" height="1.30" fill="#ad0029"/>
<rect x="68.90" y="802.47" width="1.8" height="1.30" fill="#173c82"/>
<rect x="68.90" y="804.63" width="1.8" height="1.30" fill="#ad0029"/>
<polyline points="64.90,798.60 71.50,798.60 72.70,805.80 79.20,805.80" fill="none" stroke="#173c82" stroke-width="1.9" stroke-linejoin="round"/>
<polyline points="64.90,798.30 71.70,798.30 72.90,805.80 72.00,805.80" fill="none" stroke="#ad0029" stroke-width="1.9" stroke-linejoin="round"/>
<polyline points="64.90,798.80 71.90,798.80 73.10,805.80 170.50,805.80" fill="none" stroke="#55b03a" stroke-width="1.9" stroke-linejoin="round"/>
<polyline points="79.20,806.25 79.60,804.29 80.00,804.87 80.40,803.77 80.80,803.12 81.20,801.63 81.60,800.71 82.00,798.72 82.40,797.03 82.80,795.79 83.20,794.17 83.60,792.36 84.00,790.84 84.40,789.62 84.80,788.16 85.20,786.40 85.60,785.10 86.00,783.39 86.40,783.22 86.80,781.50 87.20,780.88 87.60,779.58 88.00,779.08 88.40,778.05 88.80,776.83 89.20,776.37 89.60,774.89 90.00,774.83 90.40,773.34 90.80,773.25 91.20,772.87 91.60,772.05 92.00,771.34 92.40,770.70 92.80,770.35 93.20,770.31 93.60,769.83 94.00,769.07 94.40,768.38 94.80,768.57 95.20,767.57 95.60,767.50 96.00,767.10 96.40,767.22 96.80,766.76 97.20,766.52 97.60,766.18 98.00,765.61 98.40,765.70 98.80,765.70 99.20,765.01 99.60,764.96 100.00,764.49 100.40,764.61 100.80,764.27 101.20,764.11 101.60,763.73 102.00,763.90 102.40,763.09 102.80,762.90 103.20,762.62 103.60,762.79 104.00,762.22 104.40,762.03 104.80,762.26 105.20,762.21 105.60,761.85 106.00,760.70 106.40,761.05 106.80,760.85 107.20,760.64 107.60,760.72 108.00,761.23 108.40,760.43 108.80,760.15 109.20,760.43 109.60,760.09 110.00,759.96 110.40,759.57 110.80,759.64 111.20,759.63 111.60,758.79 112.00,758.74 112.40,759.42 112.80,759.22 113.20,758.68 113.60,758.40 114.00,758.53 114.40,758.10 114.80,758.24 115.20,758.71 115.60,758.14 116.00,758.33 116.40,757.80 116.80,757.87 117.20,758.06 117.60,757.14 118.00,757.33 118.40,757.28 118.80,757.31 119.20,757.59 119.60,757.22 120.00,756.47 120.40,756.74 120.80,756.46 121.20,756.35 121.60,757.14 122.00,756.12 122.40,756.42 122.80,756.05 123.20,756.43 123.60,756.19 124.00,756.04 124.40,755.90 124.80,756.18 125.20,755.47 125.60,755.45 126.00,755.26 126.40,755.92 126.80,755.35 127.20,755.05 127.60,755.16 128.00,755.96 128.40,755.11 128.80,755.32 129.20,755.14 129.60,754.93 130.00,754.65 130.40,754.69 130.80,754.62 131.20,754.00 131.60,755.37 132.00,754.81 132.40,754.51 132.80,754.35 133.20,754.11 133.60,754.57 134.00,754.17 134.40,754.32 134.80,753.70 135.20,754.17 135.60,754.60 136.00,753.86 136.40,754.13 136.80,753.85 137.20,754.12 137.60,754.06 138.00,753.70 138.40,753.47 138.80,753.67 139.20,753.55 139.60,753.30 140.00,753.58 140.40,753.53 140.80,753.08 141.20,753.27 141.60,754.14 142.00,753.46 142.40,753.20 142.80,753.88 143.20,752.95 143.60,752.31 144.00,752.44 144.40,752.51 144.80,753.01 145.20,753.18 145.60,752.20 146.00,753.15 146.40,752.41 146.80,752.82 147.20,752.84 147.60,752.80 148.00,752.64 148.40,752.65 148.80,752.22 149.20,752.61 149.60,752.79 150.00,752.74 150.40,753.22 150.80,752.73 151.20,752.59 151.60,752.84 152.00,752.38 152.40,751.89 152.80,751.58 153.20,752.61 153.60,752.36 154.00,752.42 154.40,752.04 154.80,752.21 155.20,752.65 155.60,752.16 156.00,751.70 156.40,751.88 156.80,752.40 157.20,751.63 157.60,751.16 158.00,751.22 158.40,751.48 158.80,752.10 159.20,751.86 159.60,751.59 160.00,751.41 160.40,751.74 160.80,751.70 161.20,751.56 161.60,751.63 162.00,751.46 162.40,752.21 162.80,750.93 163.20,751.66 163.60,751.30 164.00,751.80 164.40,751.50 164.80,751.66 165.20,751.69 165.60,751.57 166.00,751.79 166.40,751.06 166.80,751.74 167.20,751.38 167.60,751.54 168.00,751.87 168.40,751.73 168.80,751.97 169.20,750.68 169.60,751.06 170.00,751.62 170.40,750.97" fill="none" stroke="#173c82" stroke-width="2.2" stroke-linejoin="round" stroke-linecap="round"/>
<rect x="189.30" y="653.80" width="1.8" height="1.60" fill="#ad0029"/>
<rect x="189.30" y="656.47" width="1.8" height="1.60" fill="#173c82"/>
<rect x="189.30" y="659.13" width="1.8" height="1.60" fill="#55b03a"/>
<polyline points="185.40,652.20 193.40,652.20 193.80,652.27 194.20,652.47 194.60,652.80 195.00,653.24 195.40,653.78 195.80,654.39 196.20,655.06 196.60,655.75 197.00,656.44 197.40,657.11 197.80,657.72 198.20,658.26 198.60,658.70 199.00,659.03 199.40,659.23 199.80,659.30 209.60,659.30" fill="none" stroke="#ad0029" stroke-width="1.9" stroke-linejoin="round"/>
<polyline points="185.40,652.50 193.20,652.50 193.60,652.57 194.00,652.76 194.40,653.07 194.80,653.50 195.20,654.01 195.60,654.60 196.00,655.24 196.40,655.90 196.80,656.56 197.20,657.20 197.60,657.79 198.00,658.30 198.40,658.73 198.80,659.04 199.20,659.23 199.60,659.30 209.20,659.30" fill="none" stroke="#55b03a" stroke-width="1.9" stroke-linejoin="round"/>
<polyline points="185.40,652.00 193.00,652.00 193.40,652.07 193.80,652.28 194.20,652.62 194.60,653.07 195.00,653.62 195.40,654.25 195.80,654.94 196.20,655.65 196.60,656.36 197.00,657.05 197.40,657.68 197.80,658.23 198.20,658.68 198.60,659.02 199.00,659.23 199.40,659.30 198.60,659.30" fill="none" stroke="#173c82" stroke-width="1.9" stroke-linejoin="round"/>
<polyline points="209.60,659.40 210.00,658.26 210.40,657.02 210.80,655.76 211.20,654.51 211.60,653.28 212.00,652.06 212.40,650.88 212.80,649.72 213.20,648.59 213.60,647.49 214.00,646.42 214.40,645.38 214.80,644.37 215.20,643.39 215.60,642.45 216.00,641.53 216.40,640.64 216.80,639.78 217.20,638.95 217.60,638.14 218.00,637.37 218.40,636.61 218.80,635.89 219.20,635.18 219.60,634.50 220.00,633.85 220.40,633.21 220.80,632.60 221.20,632.01 221.60,631.44 222.00,630.89 222.40,630.35 222.80,629.84 223.20,629.34 223.60,628.87 224.00,628.40 224.40,627.96 224.80,627.53 225.20,627.11 225.60,626.71 226.00,626.32 226.40,625.95 226.80,625.59 227.20,625.24 227.60,624.90 228.00,624.58 228.40,624.26 228.80,623.96 229.20,623.67 229.60,623.39 230.00,623.12 230.40,622.86 230.80,622.60 231.20,622.36 231.60,622.12 232.00,621.89 232.40,621.68 232.80,621.46 233.20,621.26 233.60,621.06 234.00,620.87 234.40,620.69 234.80,620.51 235.20,620.34 235.60,620.17 236.00,620.01 236.40,619.86 236.80,619.71 237.20,619.57 237.60,619.43 238.00,619.29 238.40,619.16 238.80,619.04 239.20,618.92 239.60,618.80 240.00,618.69 240.40,618.58 240.80,618.48 241.20,618.38 241.60,618.28 242.00,618.18 242.40,618.09 242.80,618.00 243.20,617.92 243.60,617.84 244.00,617.76 244.40,617.68 244.80,617.61 245.20,617.54 245.60,617.47 246.00,617.40 246.40,617.34 246.80,617.27 247.20,617.21 247.60,617.16 248.00,617.10 248.40,617.05 248.80,616.99 249.20,616.94 249.60,616.89 250.00,616.85 250.40,616.80 250.80,616.76 251.20,616.71 251.60,616.67 252.00,616.63 252.40,616.59 252.80,616.56 253.20,616.52 253.60,616.49 254.00,616.45 254.40,616.42 254.80,616.39 255.20,616.36 255.60,616.33 256.00,616.30 256.40,616.27 256.80,616.25 257.20,616.22 257.60,616.20 258.00,616.17 258.40,616.15 258.80,616.13 259.20,616.11 259.60,616.09 260.00,616.06 260.40,616.05 260.80,616.03 261.20,616.01 261.60,615.99 262.00,615.97 262.40,615.96 262.80,615.94 263.20,615.93 263.60,615.91 264.00,615.90 264.40,615.88 264.80,615.87 265.20,615.85 265.60,615.84 266.00,615.83 266.40,615.82 266.80,615.81 267.20,615.80 267.60,615.78 268.00,615.77 268.40,615.76 268.80,615.75 269.20,615.75 269.60,615.74 270.00,615.73 270.40,615.72 270.80,615.71 271.20,615.70 271.60,615.69 272.00,615.69 272.40,615.68 272.80,615.67 273.20,615.67 273.60,615.66 274.00,615.65 274.40,615.65 274.80,615.64 275.20,615.64 275.60,615.63 276.00,615.62 276.40,615.62 276.80,615.61 277.20,615.61 277.60,615.60 278.00,615.60 278.40,615.60 278.80,615.59 279.20,615.59 279.60,615.58 280.00,615.58 280.40,615.57 280.80,615.57 281.20,615.57 281.60,615.56 282.00,615.56 282.40,615.56 282.80,615.55 283.20,615.55 283.60,615.55 284.00,615.55 284.40,615.54 284.80,615.54 285.20,615.54 285.60,615.54 286.00,615.53 286.40,615.53 286.80,615.53 287.20,615.53 287.60,615.52 288.00,615.52 288.40,615.52 288.80,615.52 289.20,615.52 289.60,615.51 290.00,615.51 290.40,615.51 290.80,615.51 291.20,615.51 291.60,615.51 292.00,615.50 292.40,615.50 292.80,615.50 293.20,615.50 293.60,615.50 294.00,615.50 294.40,615.50 294.80,615.50 295.20,615.49 295.60,615.49 296.00,615.49 296.40,615.49 296.80,615.49 297.20,615.49 297.60,615.49 298.00,615.49 298.40,615.49 298.80,615.49 299.20,615.48 299.60,615.48 300.00,615.48 300.40,615.48 300.80,615.48 301.20,615.48 301.60,615.48 302.00,615.48 302.40,615.48 302.80,615.48 303.20,615.48 303.60,615.48 304.00,615.48 304.40,615.48 304.80,615.48 305.20,615.47 305.60,615.47 306.00,615.47 306.40,615.47 306.80,615.47 307.20,615.47 307.60,615.47" fill="none" stroke="#ad0029" stroke-width="2.1" stroke-linejoin="round" stroke-linecap="round"/>
<polyline points="209.20,659.40 209.60,658.29 210.00,656.61 210.40,654.50 210.80,652.16 211.20,649.70 211.60,647.23 212.00,644.82 212.40,642.52 212.80,640.34 213.20,638.30 213.60,636.41 214.00,634.66 214.40,633.05 214.80,631.58 215.20,630.22 215.60,628.98 216.00,627.84 216.40,626.79 216.80,625.82 217.20,624.93 217.60,624.10 218.00,623.33 218.40,622.62 218.80,621.96 219.20,621.34 219.60,620.75 220.00,620.20 220.40,619.69 220.80,619.20 221.20,618.74 221.60,618.30 222.00,617.88 222.40,617.48 222.80,617.10 223.20,616.73 223.60,616.38 224.00,616.04 224.40,615.72 224.80,615.41 225.20,615.11 225.60,614.82 226.00,614.54 226.40,614.27 226.80,614.01 227.20,613.75 227.60,613.51 228.00,613.27 228.40,613.04 228.80,612.82 229.20,612.60 229.60,612.39 230.00,612.19 230.40,611.99 230.80,611.79 231.20,611.61 231.60,611.43 232.00,611.25 232.40,611.08 232.80,610.91 233.20,610.75 233.60,610.59 234.00,610.44 234.40,610.29 234.80,610.14 235.20,610.00 235.60,609.87 236.00,609.73 236.40,609.60 236.80,609.48 237.20,609.35 237.60,609.23 238.00,609.12 238.40,609.01 238.80,608.90 239.20,608.79 239.60,608.68 240.00,608.58 240.40,608.48 240.80,608.39 241.20,608.30 241.60,608.21 242.00,608.12 242.40,608.03 242.80,607.95 243.20,607.87 243.60,607.79 244.00,607.71 244.40,607.64 244.80,607.56 245.20,607.49 245.60,607.42 246.00,607.36 246.40,607.29 246.80,607.23 247.20,607.17 247.60,607.11 248.00,607.05 248.40,606.99 248.80,606.94 249.20,606.88 249.60,606.83 250.00,606.78 250.40,606.73 250.80,606.68 251.20,606.63 251.60,606.59 252.00,606.54 252.40,606.50 252.80,606.46 253.20,606.42 253.60,606.38 254.00,606.34 254.40,606.30 254.80,606.26 255.20,606.23 255.60,606.19 256.00,606.16 256.40,606.13 256.80,606.09 257.20,606.06 257.60,606.03 258.00,606.00 258.40,605.97 258.80,605.95 259.20,605.92 259.60,605.89 260.00,605.87 260.40,605.84 260.80,605.82 261.20,605.79 261.60,605.77 262.00,605.75 262.40,605.73 262.80,605.71 263.20,605.69 263.60,605.67 264.00,605.65 264.40,605.63 264.80,605.61 265.20,605.59 265.60,605.57 266.00,605.56 266.40,605.54 266.80,605.52 267.20,605.51 267.60,605.49 268.00,605.48 268.40,605.46 268.80,605.45 269.20,605.44 269.60,605.42 270.00,605.41 270.40,605.40 270.80,605.38 271.20,605.37 271.60,605.36 272.00,605.35 272.40,605.34 272.80,605.33 273.20,605.32 273.60,605.31 274.00,605.30 274.40,605.29 274.80,605.28 275.20,605.27 275.60,605.26 276.00,605.25 276.40,605.24 276.80,605.24 277.20,605.23 277.60,605.22 278.00,605.21 278.40,605.20 278.80,605.20 279.20,605.19 279.60,605.18 280.00,605.18 280.40,605.17 280.80,605.16 281.20,605.16 281.60,605.15 282.00,605.15 282.40,605.14 282.80,605.14 283.20,605.13 283.60,605.13 284.00,605.12 284.40,605.12 284.80,605.11 285.20,605.11 285.60,605.10 286.00,605.10 286.40,605.09 286.80,605.09 287.20,605.09 287.60,605.08 288.00,605.08 288.40,605.07 288.80,605.07 289.20,605.07 289.60,605.06 290.00,605.06 290.40,605.06 290.80,605.05 291.20,605.05 291.60,605.05 292.00,605.05 292.40,605.04 292.80,605.04 293.20,605.04 293.60,605.03 294.00,605.03 294.40,605.03 294.80,605.03 295.20,605.03 295.60,605.02 296.00,605.02 296.40,605.02 296.80,605.02 297.20,605.01 297.60,605.01 298.00,605.01 298.40,605.01 298.80,605.01 299.20,605.01 299.60,605.00 300.00,605.00 300.40,605.00 300.80,605.00 301.20,605.00 301.60,605.00 302.00,604.99 302.40,604.99 302.80,604.99 303.20,604.99 303.60,604.99 304.00,604.99 304.40,604.99 304.80,604.99 305.20,604.98 305.60,604.98 306.00,604.98 306.40,604.98 306.80,604.98 307.20,604.98 307.60,604.98" fill="none" stroke="#55b03a" stroke-width="2.1" stroke-linejoin="round" stroke-linecap="round"/>
<polyline points="198.60,659.34 199.00,654.32 199.40,649.68 199.80,645.28 200.20,642.07 200.60,639.04 201.00,635.81 201.40,633.23 201.80,630.94 202.20,628.43 202.60,627.24 203.00,624.83 203.40,623.57 203.80,622.68 204.20,620.90 204.60,619.86 205.00,618.77 205.40,618.07 205.80,616.79 206.20,616.38 206.60,616.22 207.00,615.35 207.40,614.74 207.80,614.39 208.20,613.97 208.60,613.53 209.00,613.26 209.40,612.48 209.80,612.64 210.20,612.11 210.60,612.15 211.00,611.75 211.40,611.34 211.80,611.32 212.20,610.94 212.60,611.17 213.00,610.79 213.40,610.81 213.80,610.27 214.20,610.67 214.60,610.16 215.00,610.36 215.40,610.14 215.80,609.63 216.20,609.80 216.60,609.52 217.00,609.61 217.40,609.72 217.80,609.47 218.20,609.45 218.60,608.91 219.00,609.10 219.40,609.05 219.80,609.11 220.20,608.69 220.60,608.85 221.00,608.74 221.40,608.28 221.80,608.30 222.20,608.53 222.60,608.13 223.00,608.06 223.40,608.41 223.80,608.23 224.20,608.06 224.60,608.06 225.00,607.90 225.40,607.81 225.80,607.77 226.20,607.88 226.60,608.01 227.00,607.59 227.40,607.62 227.80,607.54 228.20,607.27 228.60,607.52 229.00,607.60 229.40,607.20 229.80,607.49 230.20,607.16 230.60,607.46 231.00,607.42 231.40,607.06 231.80,606.69 232.20,606.97 232.60,606.72 233.00,606.69 233.40,606.86 233.80,607.14 234.20,606.81 234.60,606.75 235.00,606.38 235.40,606.59 235.80,606.39 236.20,606.74 236.60,606.49 237.00,606.55 237.40,606.52 237.80,606.45 238.20,606.65 238.60,606.52 239.00,606.33 239.40,606.39 239.80,606.44 240.20,606.57 240.60,606.29 241.00,606.52 241.40,606.08 241.80,606.12 242.20,605.84 242.60,606.28 243.00,605.88 243.40,605.85 243.80,606.20 244.20,605.90 244.60,605.83 245.00,606.14 245.40,605.89 245.80,606.08 246.20,605.80 246.60,606.00 247.00,606.04 247.40,605.82 247.80,606.14 248.20,605.68 248.60,605.69 249.00,605.73 249.40,605.89 249.80,605.61 250.20,605.56 250.60,605.68 251.00,605.86 251.40,605.51 251.80,605.32 252.20,605.53 252.60,605.66 253.00,605.41 253.40,605.52 253.80,605.10 254.20,605.46 254.60,605.46 255.00,605.55 255.40,605.47 255.80,605.55 256.20,605.18 256.60,605.49 257.00,605.01 257.40,605.21 257.80,605.54 258.20,605.47 258.60,604.91 259.00,605.39 259.40,605.17 259.80,605.09 260.20,605.27 260.60,605.24 261.00,605.48 261.40,604.90 261.80,605.09 262.20,605.14 262.60,604.78 263.00,605.37 263.40,605.48 263.80,604.99 264.20,605.18 264.60,605.04 265.00,605.14 265.40,604.94 265.80,605.23 266.20,604.82 266.60,605.31 267.00,605.10 267.40,605.50 267.80,604.68 268.20,604.98 268.60,604.73 269.00,604.95 269.40,605.06 269.80,604.78 270.20,604.66 270.60,604.60 271.00,604.98 271.40,605.18 271.80,605.15 272.20,604.92 272.60,604.71 273.00,604.82 273.40,604.58 273.80,604.56 274.20,605.08 274.60,604.81 275.00,604.92 275.40,604.79 275.80,605.11 276.20,605.12 276.60,604.67 277.00,604.75 277.40,604.68 277.80,605.07 278.20,605.05 278.60,604.74 279.00,605.25 279.40,604.79 279.80,604.53 280.20,604.36 280.60,604.74 281.00,604.82 281.40,604.64 281.80,604.82 282.20,604.98 282.60,604.72 283.00,604.90 283.40,605.06 283.80,604.82 284.20,604.60 284.60,604.80 285.00,604.81 285.40,605.13 285.80,604.61 286.20,604.38 286.60,604.75 287.00,604.75 287.40,604.60 287.80,604.79 288.20,604.73 288.60,604.91 289.00,604.50 289.40,604.52 289.80,604.65 290.20,604.55 290.60,604.90 291.00,604.76 291.40,604.63 291.80,604.94 292.20,604.73 292.60,604.83 293.00,604.79 293.40,604.59 293.80,604.59 294.20,604.62 294.60,604.39 295.00,604.54 295.40,604.78 295.80,604.66 296.20,604.41 296.60,605.07 297.00,604.39 297.40,604.72 297.80,604.73 298.20,604.84 298.60,604.41 299.00,604.58 299.40,604.54 299.80,604.80 300.20,604.65 300.60,604.65 301.00,604.68 301.40,604.96 301.80,604.70 302.20,604.74 302.60,604.38 303.00,604.70 303.40,604.31 303.80,604.75 304.20,604.59 304.60,604.38 305.00,604.32 305.40,604.53 305.80,604.58 306.20,604.44 306.60,604.48 307.00,604.49 307.40,604.44" fill="none" stroke="#173c82" stroke-width="2.2" stroke-linejoin="round" stroke-linecap="round"/>
<rect x="188.70" y="727.80" width="1.8" height="1.27" fill="#173c82"/>
<rect x="188.70" y="729.92" width="1.8" height="1.27" fill="#55b03a"/>
<rect x="188.70" y="732.05" width="1.8" height="1.27" fill="#ad0029"/>
<rect x="188.70" y="734.17" width="1.8" height="1.27" fill="#ad0029"/>
<polyline points="185.40,726.60 194.80,726.60 195.20,726.68 195.60,726.91 196.00,727.29 196.40,727.80 196.80,728.42 197.20,729.13 197.60,729.90 198.00,730.70 198.40,731.50 198.80,732.27 199.20,732.98 199.60,733.60 200.00,734.11 200.40,734.49 200.80,734.72 201.20,734.80 211.30,734.80" fill="none" stroke="#ad0029" stroke-width="1.9" stroke-linejoin="round"/>
<polyline points="185.40,726.90 194.60,726.90 195.00,726.98 195.40,727.20 195.80,727.57 196.20,728.06 196.60,728.66 197.00,729.34 197.40,730.08 197.80,730.85 198.20,731.62 198.60,732.36 199.00,733.04 199.40,733.64 199.80,734.13 200.20,734.50 200.60,734.72 201.00,734.80 210.90,734.80" fill="none" stroke="#55b03a" stroke-width="1.9" stroke-linejoin="round"/>
<polyline points="185.40,726.40 194.40,726.40 194.80,726.48 195.20,726.72 195.60,727.11 196.00,727.63 196.40,728.27 196.80,728.99 197.20,729.78 197.60,730.60 198.00,731.42 198.40,732.21 198.80,732.93 199.20,733.57 199.60,734.09 200.00,734.48 200.40,734.72 200.80,734.80 204.60,734.80" fill="none" stroke="#173c82" stroke-width="1.9" stroke-linejoin="round"/>
<polyline points="211.30,735.00 211.80,734.95 212.30,734.88 212.80,734.79 213.30,734.68 213.80,734.56 214.30,734.43 214.80,734.28 215.30,734.12 215.80,733.96 216.30,733.79 216.80,733.61 217.30,733.42 217.80,733.20 218.30,732.93 218.80,732.63 219.30,732.31 219.80,731.97 220.30,731.64 220.80,731.32 221.30,731.02 221.80,730.75 222.30,730.50 222.80,730.25 223.30,729.99 223.80,729.74 224.30,729.50 224.80,729.28 225.30,729.08 225.80,728.91 226.30,728.78 226.80,728.68 227.30,728.61 227.80,728.54 228.30,728.47 228.80,728.41 229.30,728.35 229.80,728.30 230.30,728.25 230.80,728.21 231.30,728.17 231.80,728.15 232.30,728.12 232.80,728.11 233.30,728.10 233.80,728.10 234.30,728.10 234.80,728.11 235.30,728.12 235.80,728.13 236.30,728.14 236.80,728.16 237.30,728.18 237.80,728.20 238.30,728.22 238.80,728.24 239.30,728.26 239.80,728.28 240.30,728.30 240.80,728.34 241.30,728.38 241.80,728.43 242.30,728.49 242.80,728.56 243.30,728.63 243.80,728.70 244.30,728.78 244.80,728.86 245.30,728.93 245.80,729.01 246.30,729.08 246.80,729.14 247.30,729.20 247.80,729.25 248.30,729.29 248.80,729.32 249.30,729.35 249.80,729.38 250.30,729.40 250.80,729.43 251.30,729.46 251.80,729.49 252.30,729.51 252.80,729.54 253.30,729.56 253.80,729.59 254.30,729.61 254.80,729.63 255.30,729.65 255.80,729.67 256.30,729.69 256.80,729.71 257.30,729.73 257.80,729.74 258.30,729.75 258.80,729.76 259.30,729.77 259.80,729.78 260.30,729.79 260.80,729.80 261.30,729.80 261.80,729.80 262.30,729.80 262.80,729.80 263.30,729.80 263.80,729.80 264.30,729.79 264.80,729.79 265.30,729.79 265.80,729.78 266.30,729.78 266.80,729.77 267.30,729.76 267.80,729.76 268.30,729.75 268.80,729.74 269.30,729.73 269.80,729.73 270.30,729.72 270.80,729.71 271.30,729.70 271.80,729.69 272.30,729.68 272.80,729.67 273.30,729.66 273.80,729.64 274.30,729.63 274.80,729.62 275.30,729.61 275.80,729.60 276.30,729.58 276.80,729.57 277.30,729.56 277.80,729.55 278.30,729.53 278.80,729.52 279.30,729.51 279.80,729.49 280.30,729.48 280.80,729.47 281.30,729.45 281.80,729.44 282.30,729.42 282.80,729.41 283.30,729.40 283.80,729.38 284.30,729.37 284.80,729.36 285.30,729.34 285.80,729.33 286.30,729.32 286.80,729.31 287.30,729.29 287.80,729.28 288.30,729.27 288.80,729.25 289.30,729.24 289.80,729.23 290.30,729.21 290.80,729.20 291.30,729.18 291.80,729.17 292.30,729.15 292.80,729.14 293.30,729.12 293.80,729.11 294.30,729.09 294.80,729.07 295.30,729.06 295.80,729.04 296.30,729.02 296.80,729.01 297.30,728.99 297.80,728.97 298.30,728.96 298.80,728.94 299.30,728.92 299.80,728.90 300.30,728.88 300.80,728.87 301.30,728.85 301.80,728.83 302.30,728.81 302.80,728.79 303.30,728.77 303.80,728.75 304.30,728.73 304.80,728.71 305.30,728.70 305.80,728.68 306.30,728.66 306.80,728.64 307.30,728.62" fill="none" stroke="#ad0029" stroke-width="2.1" stroke-linejoin="round" stroke-linecap="round"/>
<polyline points="210.90,735.00 211.30,734.11 211.70,732.90 212.10,731.59 212.50,730.22 212.90,728.83 213.30,727.44 213.70,726.05 214.10,724.69 214.50,723.34 214.90,722.03 215.30,720.75 215.70,719.50 216.10,718.28 216.50,717.10 216.90,715.96 217.30,714.86 217.70,713.79 218.10,712.77 218.50,711.77 218.90,710.82 219.30,709.90 219.70,709.01 220.10,708.16 220.50,707.34 220.90,706.55 221.30,705.79 221.70,705.07 222.10,704.37 222.50,703.71 222.90,703.07 223.30,702.45 223.70,701.87 224.10,701.30 224.50,700.77 224.90,700.25 225.30,699.76 225.70,699.29 226.10,698.84 226.50,698.41 226.90,698.00 227.30,697.60 227.70,697.23 228.10,696.87 228.50,696.53 228.90,696.20 229.30,695.89 229.70,695.60 230.10,695.32 230.50,695.05 230.90,694.79 231.30,694.55 231.70,694.32 232.10,694.10 232.50,693.89 232.90,693.69 233.30,693.50 233.70,693.33 234.10,693.16 234.50,693.00 234.90,692.84 235.30,692.70 235.70,692.56 236.10,692.43 236.50,692.31 236.90,692.20 237.30,692.09 237.70,691.99 238.10,691.89 238.50,691.80 238.90,691.72 239.30,691.64 239.70,691.56 240.10,691.49 240.50,691.43 240.90,691.37 241.30,691.31 241.70,691.26 242.10,691.21 242.50,691.17 242.90,691.13 243.30,691.09 243.70,691.06 244.10,691.02 244.50,691.00 244.90,690.97 245.30,690.95 245.70,690.93 246.10,690.91 246.50,690.90 246.90,690.88 247.30,690.87 247.70,690.87 248.10,690.86 248.50,690.85 248.90,690.85 249.30,690.85 249.70,690.85 250.10,690.85 250.50,690.86 250.90,690.86 251.30,690.87 251.70,690.88 252.10,690.89 252.50,690.90 252.90,690.91 253.30,690.93 253.70,690.94 254.10,690.95 254.50,690.97 254.90,690.99 255.30,691.01 255.70,691.02 256.10,691.04 256.50,691.06 256.90,691.09 257.30,691.11 257.70,691.13 258.10,691.15 258.50,691.18 258.90,691.20 259.30,691.23 259.70,691.25 260.10,691.28 260.50,691.30 260.90,691.33 261.30,691.36 261.70,691.39 262.10,691.42 262.50,691.44 262.90,691.47 263.30,691.50 263.70,691.53 264.10,691.56 264.50,691.59 264.90,691.62 265.30,691.65 265.70,691.69 266.10,691.72 266.50,691.75 266.90,691.78 267.30,691.81 267.70,691.85 268.10,691.88 268.50,691.91 268.90,691.94 269.30,691.98 269.70,692.01 270.10,692.04 270.50,692.08 270.90,692.11 271.30,692.15 271.70,692.18 272.10,692.21 272.50,692.25 272.90,692.28 273.30,692.32 273.70,692.35 274.10,692.39 274.50,692.42 274.90,692.46 275.30,692.49 275.70,692.52 276.10,692.56 276.50,692.60 276.90,692.63 277.30,692.67 277.70,692.70 278.10,692.74 278.50,692.77 278.90,692.81 279.30,692.84 279.70,692.88 280.10,692.91 280.50,692.95 280.90,692.98 281.30,693.02 281.70,693.06 282.10,693.09 282.50,693.13 282.90,693.16 283.30,693.20 283.70,693.23 284.10,693.27 284.50,693.30 284.90,693.34 285.30,693.38 285.70,693.41 286.10,693.45 286.50,693.48 286.90,693.52 287.30,693.55 287.70,693.59 288.10,693.63 288.50,693.66 288.90,693.70 289.30,693.73 289.70,693.77 290.10,693.80 290.50,693.84 290.90,693.88 291.30,693.91 291.70,693.95 292.10,693.98 292.50,694.02 292.90,694.05 293.30,694.09 293.70,694.13 294.10,694.16 294.50,694.20 294.90,694.23 295.30,694.27 295.70,694.30 296.10,694.34 296.50,694.38 296.90,694.41 297.30,694.45 297.70,694.48 298.10,694.52 298.50,694.55 298.90,694.59 299.30,694.62 299.70,694.66 300.10,694.69 300.50,694.73 300.90,694.77 301.30,694.80 301.70,694.84 302.10,694.87 302.50,694.91 302.90,694.94 303.30,694.98 303.70,695.01 304.10,695.05 304.50,695.08 304.90,695.12 305.30,695.15 305.70,695.19 306.10,695.22 306.50,695.26 306.90,695.29 307.30,695.33 307.70,695.36" fill="none" stroke="#55b03a" stroke-width="2.1" stroke-linejoin="round" stroke-linecap="round"/>
<polyline points="204.60,734.64 205.00,733.95 205.40,732.57 205.80,729.66 206.20,726.55 206.60,722.89 207.00,718.51 207.40,715.43 207.80,711.57 208.20,709.09 208.60,705.92 209.00,703.09 209.40,701.08 209.80,699.16 210.20,697.52 210.60,696.32 211.00,694.84 211.40,694.01 211.80,692.78 212.20,691.72 212.60,690.62 213.00,689.94 213.40,689.77 213.80,689.35 214.20,689.04 214.60,688.07 215.00,687.82 215.40,687.21 215.80,686.95 216.20,686.14 216.60,686.58 217.00,685.91 217.40,685.79 217.80,685.65 218.20,685.36 218.60,684.70 219.00,685.16 219.40,684.74 219.80,684.46 220.20,683.95 220.60,683.51 221.00,683.30 221.40,683.47 221.80,683.37 222.20,682.97 222.60,683.43 223.00,682.88 223.40,682.88 223.80,682.70 224.20,682.05 224.60,682.41 225.00,682.13 225.40,681.55 225.80,681.91 226.20,681.86 226.60,681.71 227.00,681.60 227.40,680.86 227.80,681.02 228.20,680.83 228.60,680.87 229.00,680.77 229.40,680.91 229.80,680.71 230.20,680.21 230.60,680.55 231.00,680.63 231.40,680.21 231.80,679.66 232.20,679.79 232.60,679.81 233.00,679.37 233.40,679.66 233.80,679.29 234.20,679.73 234.60,679.63 235.00,679.36 235.40,679.00 235.80,679.31 236.20,679.01 236.60,678.93 237.00,679.32 237.40,678.79 237.80,678.57 238.20,679.05 238.60,679.24 239.00,679.14 239.40,678.88 239.80,679.16 240.20,678.49 240.60,679.07 241.00,679.01 241.40,678.35 241.80,678.49 242.20,678.02 242.60,678.04 243.00,678.40 243.40,677.92 243.80,678.23 244.20,678.25 244.60,678.13 245.00,678.30 245.40,678.51 245.80,678.03 246.20,678.21 246.60,678.30 247.00,677.78 247.40,677.69 247.80,677.22 248.20,677.90 248.60,678.03 249.00,677.85 249.40,678.24 249.80,678.07 250.20,677.86 250.60,677.63 251.00,677.39 251.40,677.61 251.80,677.69 252.20,677.52 252.60,677.44 253.00,677.40 253.40,677.65 253.80,677.03 254.20,677.36 254.60,677.43 255.00,677.57 255.40,677.55 255.80,677.30 256.20,677.20 256.60,677.03 257.00,677.60 257.40,677.44 257.80,677.33 258.20,677.08 258.60,676.97 259.00,677.53 259.40,677.22 259.80,677.33 260.20,677.65 260.60,676.80 261.00,676.98 261.40,677.25 261.80,677.30 262.20,676.87 262.60,677.10 263.00,676.96 263.40,676.96 263.80,677.19 264.20,677.13 264.60,677.37 265.00,677.21 265.40,677.43 265.80,676.84 266.20,677.14 266.60,676.67 267.00,676.60 267.40,676.66 267.80,677.18 268.20,677.04 268.60,676.57 269.00,677.30 269.40,677.21 269.80,676.91 270.20,676.89 270.60,676.94 271.00,676.63 271.40,677.52 271.80,676.81 272.20,676.87 272.60,676.83 273.00,676.74 273.40,676.68 273.80,676.98 274.20,676.58 274.60,676.63 275.00,676.68 275.40,677.08 275.80,676.62 276.20,676.62 276.60,676.95 277.00,676.58 277.40,676.77 277.80,677.08 278.20,676.95 278.60,676.85 279.00,677.22 279.40,676.73 279.80,676.68 280.20,676.39 280.60,676.84 281.00,676.98 281.40,676.65 281.80,677.29 282.20,677.07 282.60,677.04 283.00,676.51 283.40,676.88 283.80,676.90 284.20,676.29 284.60,676.79 285.00,676.74 285.40,676.36 285.80,676.91 286.20,677.30 286.60,676.98 287.00,676.57 287.40,676.72 287.80,677.06 288.20,676.57 288.60,676.87 289.00,676.78 289.40,676.82 289.80,677.19 290.20,676.39 290.60,677.06 291.00,676.84 291.40,676.74 291.80,676.35 292.20,676.84 292.60,676.66 293.00,676.02 293.40,676.42 293.80,676.46 294.20,676.50 294.60,676.60 295.00,676.55 295.40,677.14 295.80,677.02 296.20,676.73 296.60,677.10 297.00,677.29 297.40,676.87 297.80,676.42 298.20,676.84 298.60,677.10 299.00,676.49 299.40,676.74 299.80,676.98 300.20,677.04 300.60,676.96 301.00,676.84 301.40,676.71 301.80,676.60 302.20,676.99 302.60,676.97 303.00,676.62 303.40,676.56 303.80,677.05 304.20,676.99 304.60,676.54 305.00,676.32 305.40,676.76 305.80,676.94 306.20,676.97 306.60,676.94 307.00,676.34 307.40,676.74" fill="none" stroke="#173c82" stroke-width="2.2" stroke-linejoin="round" stroke-linecap="round"/>
<rect x="188.90" y="800.30" width="1.8" height="1.40" fill="#ad0029"/>
<rect x="188.90" y="802.63" width="1.8" height="1.40" fill="#173c82"/>
<rect x="188.90" y="804.97" width="1.8" height="1.40" fill="#55b03a"/>
<polyline points="185.40,798.90 194.00,798.90 194.40,798.96 194.80,799.15 195.20,799.46 195.60,799.87 196.00,800.37 196.40,800.94 196.80,801.56 197.20,802.20 197.60,802.84 198.00,803.46 198.40,804.03 198.80,804.53 199.20,804.94 199.60,805.25 200.00,805.44 200.40,805.50 217.60,805.50" fill="none" stroke="#55b03a" stroke-width="1.9" stroke-linejoin="round"/>
<polyline points="185.40,798.60 193.80,798.60 194.20,798.67 194.60,798.86 195.00,799.18 195.40,799.61 195.80,800.13 196.20,800.73 196.60,801.38 197.00,802.05 197.40,802.72 197.80,803.37 198.20,803.97 198.60,804.49 199.00,804.92 199.40,805.24 199.80,805.43 200.20,805.50 201.30,805.50" fill="none" stroke="#ad0029" stroke-width="1.9" stroke-linejoin="round"/>
<polyline points="185.40,798.40 193.60,798.40 194.00,798.47 194.40,798.67 194.80,799.00 195.20,799.44 195.60,799.98 196.00,800.59 196.40,801.26 196.80,801.95 197.20,802.64 197.60,803.31 198.00,803.92 198.40,804.46 198.80,804.90 199.20,805.23 199.60,805.43 200.00,805.50 201.30,805.50" fill="none" stroke="#173c82" stroke-width="1.9" stroke-linejoin="round"/>
<polyline points="201.30,805.50 201.80,805.50 202.30,805.50 202.80,805.50 203.30,805.50 203.80,805.50 204.30,805.50 204.80,805.50 205.30,805.50 205.80,805.50 206.30,805.50 206.80,805.50 207.30,805.50 207.80,805.50 208.30,805.50 208.80,805.50 209.30,805.50 209.80,805.50 210.30,805.50 210.80,805.50 211.30,805.50 211.80,805.50 212.30,805.50 212.80,805.50 213.30,805.50 213.80,805.50 214.30,805.50 214.80,805.50 215.30,805.50 215.80,805.50 216.30,805.50 216.80,805.50 217.30,805.50 217.80,805.50 218.30,805.50 218.80,805.50 219.30,805.50 219.80,805.49 220.30,805.49 220.80,805.49 221.30,805.48 221.80,805.48 222.30,805.47 222.80,805.47 223.30,805.46 223.80,805.45 224.30,805.45 224.80,805.44 225.30,805.43 225.80,805.42 226.30,805.41 226.80,805.40 227.30,805.39 227.80,805.38 228.30,805.37 228.80,805.36 229.30,805.35 229.80,805.34 230.30,805.33 230.80,805.32 231.30,805.30 231.80,805.29 232.30,805.28 232.80,805.27 233.30,805.25 233.80,805.24 234.30,805.23 234.80,805.21 235.30,805.20 235.80,805.19 236.30,805.17 236.80,805.16 237.30,805.15 237.80,805.13 238.30,805.12 238.80,805.11 239.30,805.10 239.80,805.08 240.30,805.07 240.80,805.06 241.30,805.04 241.80,805.03 242.30,805.02 242.80,805.01 243.30,805.00 243.80,804.98 244.30,804.97 244.80,804.96 245.30,804.95 245.80,804.93 246.30,804.92 246.80,804.91 247.30,804.90 247.80,804.88 248.30,804.87 248.80,804.86 249.30,804.84 249.80,804.83 250.30,804.82 250.80,804.80 251.30,804.79 251.80,804.78 252.30,804.76 252.80,804.75 253.30,804.73 253.80,804.72 254.30,804.71 254.80,804.69 255.30,804.68 255.80,804.66 256.30,804.65 256.80,804.63 257.30,804.62 257.80,804.60 258.30,804.59 258.80,804.57 259.30,804.56 259.80,804.54 260.30,804.53 260.80,804.51 261.30,804.49 261.80,804.48 262.30,804.46 262.80,804.45 263.30,804.43 263.80,804.42 264.30,804.40 264.80,804.38 265.30,804.37 265.80,804.35 266.30,804.33 266.80,804.32 267.30,804.30 267.80,804.28 268.30,804.27 268.80,804.25 269.30,804.23 269.80,804.22 270.30,804.20 270.80,804.18 271.30,804.17 271.80,804.15 272.30,804.13 272.80,804.11 273.30,804.10 273.80,804.08 274.30,804.06 274.80,804.04 275.30,804.03 275.80,804.01 276.30,803.99 276.80,803.97 277.30,803.96 277.80,803.94 278.30,803.92 278.80,803.90 279.30,803.88 279.80,803.87 280.30,803.85 280.80,803.83 281.30,803.81 281.80,803.79 282.30,803.77 282.80,803.76 283.30,803.74 283.80,803.72 284.30,803.70 284.80,803.68 285.30,803.66 285.80,803.64 286.30,803.63 286.80,803.61 287.30,803.59 287.80,803.57 288.30,803.55 288.80,803.53 289.30,803.51 289.80,803.49 290.30,803.47 290.80,803.45 291.30,803.43 291.80,803.41 292.30,803.39 292.80,803.37 293.30,803.35 293.80,803.33 294.30,803.31 294.80,803.29 295.30,803.26 295.80,803.24 296.30,803.22 296.80,803.20 297.30,803.18 297.80,803.16 298.30,803.13 298.80,803.11 299.30,803.09 299.80,803.07 300.30,803.04 300.80,803.02 301.30,803.00 301.80,802.97 302.30,802.95 302.80,802.93 303.30,802.91 303.80,802.88 304.30,802.86 304.80,802.84 305.30,802.81 305.80,802.79 306.30,802.77 306.80,802.74 307.30,802.72" fill="none" stroke="#ad0029" stroke-width="2.1" stroke-linejoin="round" stroke-linecap="round"/>
<polyline points="217.60,805.50 218.00,805.22 218.40,804.54 218.80,803.74 219.20,802.89 219.60,802.03 220.00,801.18 220.40,800.34 220.80,799.52 221.20,798.74 221.60,797.99 222.00,797.27 222.40,796.59 222.80,795.94 223.20,795.33 223.60,794.75 224.00,794.21 224.40,793.71 224.80,793.23 225.20,792.79 225.60,792.38 226.00,792.00 226.40,791.64 226.80,791.31 227.20,791.01 227.60,790.73 228.00,790.47 228.40,790.24 228.80,790.02 229.20,789.83 229.60,789.65 230.00,789.49 230.40,789.35 230.80,789.22 231.20,789.11 231.60,789.01 232.00,788.92 232.40,788.84 232.80,788.78 233.20,788.72 233.60,788.68 234.00,788.64 234.40,788.61 234.80,788.59 235.20,788.58 235.60,788.57 236.00,788.57 236.40,788.58 236.80,788.59 237.20,788.61 237.60,788.63 238.00,788.65 238.40,788.68 238.80,788.71 239.20,788.74 239.60,788.78 240.00,788.82 240.40,788.86 240.80,788.90 241.20,788.95 241.60,788.99 242.00,789.04 242.40,789.09 242.80,789.14 243.20,789.19 243.60,789.24 244.00,789.29 244.40,789.34 244.80,789.40 245.20,789.45 245.60,789.50 246.00,789.55 246.40,789.61 246.80,789.66 247.20,789.71 247.60,789.76 248.00,789.81 248.40,789.86 248.80,789.92 249.20,789.97 249.60,790.02 250.00,790.06 250.40,790.11 250.80,790.16 251.20,790.21 251.60,790.25 252.00,790.30 252.40,790.34 252.80,790.39 253.20,790.43 253.60,790.47 254.00,790.51 254.40,790.56 254.80,790.60 255.20,790.63 255.60,790.67 256.00,790.71 256.40,790.75 256.80,790.78 257.20,790.82 257.60,790.85 258.00,790.89 258.40,790.92 258.80,790.95 259.20,790.98 259.60,791.02 260.00,791.05 260.40,791.07 260.80,791.10 261.20,791.13 261.60,791.16 262.00,791.18 262.40,791.21 262.80,791.24 263.20,791.26 263.60,791.28 264.00,791.31 264.40,791.33 264.80,791.35 265.20,791.37 265.60,791.39 266.00,791.41 266.40,791.43 266.80,791.45 267.20,791.47 267.60,791.49 268.00,791.51 268.40,791.52 268.80,791.54 269.20,791.56 269.60,791.57 270.00,791.59 270.40,791.60 270.80,791.62 271.20,791.63 271.60,791.65 272.00,791.66 272.40,791.67 272.80,791.68 273.20,791.70 273.60,791.71 274.00,791.72 274.40,791.73 274.80,791.74 275.20,791.75 275.60,791.76 276.00,791.77 276.40,791.78 276.80,791.79 277.20,791.80 277.60,791.81 278.00,791.82 278.40,791.82 278.80,791.83 279.20,791.84 279.60,791.85 280.00,791.85 280.40,791.86 280.80,791.87 281.20,791.87 281.60,791.88 282.00,791.89 282.40,791.89 282.80,791.90 283.20,791.90 283.60,791.91 284.00,791.92 284.40,791.92 284.80,791.93 285.20,791.93 285.60,791.93 286.00,791.94 286.40,791.94 286.80,791.95 287.20,791.95 287.60,791.96 288.00,791.96 288.40,791.96 288.80,791.97 289.20,791.97 289.60,791.97 290.00,791.98 290.40,791.98 290.80,791.98 291.20,791.99 291.60,791.99 292.00,791.99 292.40,791.99 292.80,792.00 293.20,792.00 293.60,792.00 294.00,792.00 294.40,792.01 294.80,792.01 295.20,792.01 295.60,792.01 296.00,792.01 296.40,792.02 296.80,792.02 297.20,792.02 297.60,792.02 298.00,792.02 298.40,792.02 298.80,792.03 299.20,792.03 299.60,792.03 300.00,792.03 300.40,792.03 300.80,792.03 301.20,792.03 301.60,792.04 302.00,792.04 302.40,792.04 302.80,792.04 303.20,792.04 303.60,792.04 304.00,792.04 304.40,792.04 304.80,792.04 305.20,792.05 305.60,792.05 306.00,792.05 306.40,792.05 306.80,792.05 307.20,792.05 307.60,792.05" fill="none" stroke="#55b03a" stroke-width="2.1" stroke-linejoin="round" stroke-linecap="round"/>
<polyline points="201.25,805.35 201.65,804.55 202.05,801.87 202.45,797.96 202.85,793.77 203.25,788.81 203.65,784.89 204.05,780.91 204.45,777.34 204.85,774.67 205.25,772.44 205.65,770.11 206.05,768.55 206.45,767.40 206.85,766.02 207.25,764.96 207.65,764.01 208.05,763.10 208.45,762.01 208.85,762.15 209.25,761.01 209.65,760.98 210.05,760.49 210.45,760.18 210.85,759.87 211.25,759.42 211.65,759.43 212.05,758.61 212.45,758.88 212.85,758.01 213.25,758.50 213.65,757.85 214.05,757.86 214.45,757.93 214.85,756.82 215.25,757.09 215.65,757.12 216.05,757.02 216.45,756.95 216.85,756.59 217.25,756.40 217.65,756.13 218.05,756.01 218.45,755.81 218.85,755.88 219.25,755.52 219.65,755.50 220.05,755.60 220.45,755.34 220.85,754.83 221.25,754.75 221.65,754.83 222.05,754.36 222.45,753.93 222.85,754.02 223.25,754.28 223.65,753.98 224.05,753.82 224.45,753.99 224.85,753.43 225.25,754.15 225.65,753.48 226.05,753.29 226.45,753.78 226.85,752.90 227.25,752.95 227.65,752.95 228.05,752.64 228.45,752.70 228.85,752.84 229.25,752.65 229.65,752.51 230.05,752.69 230.45,752.83 230.85,752.67 231.25,751.68 231.65,752.46 232.05,752.24 232.45,752.07 232.85,751.65 233.25,751.72 233.65,751.71 234.05,751.34 234.45,751.93 234.85,751.78 235.25,751.49 235.65,751.20 236.05,751.71 236.45,751.47 236.85,751.52 237.25,751.09 237.65,751.74 238.05,751.05 238.45,751.52 238.85,750.48 239.25,751.00 239.65,750.90 240.05,750.20 240.45,750.62 240.85,750.42 241.25,750.33 241.65,750.45 242.05,750.30 242.45,750.63 242.85,750.62 243.25,750.53 243.65,750.22 244.05,750.27 244.45,750.77 244.85,750.22 245.25,750.27 245.65,750.09 246.05,750.33 246.45,750.38 246.85,750.33 247.25,750.20 247.65,750.24 248.05,749.98 248.45,750.15 248.85,749.72 249.25,749.96 249.65,750.12 250.05,749.62 250.45,750.04 250.85,749.90 251.25,749.49 251.65,749.34 252.05,749.33 252.45,749.46 252.85,749.77 253.25,749.73 253.65,749.95 254.05,750.19 254.45,749.48 254.85,749.06 255.25,749.18 255.65,749.02 256.05,749.34 256.45,749.35 256.85,749.79 257.25,749.07 257.65,749.37 258.05,749.35 258.45,749.36 258.85,749.23 259.25,749.88 259.65,749.29 260.05,749.33 260.45,749.48 260.85,749.34 261.25,749.72 261.65,748.95 262.05,749.19 262.45,749.10 262.85,749.19 263.25,749.42 263.65,749.03 264.05,748.68 264.45,749.17 264.85,748.88 265.25,749.28 265.65,749.17 266.05,749.63 266.45,749.23 266.85,748.87 267.25,749.16 267.65,749.32 268.05,749.07 268.45,749.03 268.85,748.96 269.25,748.91 269.65,748.77 270.05,749.30 270.45,749.08 270.85,748.62 271.25,749.23 271.65,748.96 272.05,749.00 272.45,748.98 272.85,749.23 273.25,748.37 273.65,748.91 274.05,749.04 274.45,748.87 274.85,748.48 275.25,748.57 275.65,748.93 276.05,749.22 276.45,748.38 276.85,748.71 277.25,748.93 277.65,748.90 278.05,748.97 278.45,749.12 278.85,749.02 279.25,748.45 279.65,748.74 280.05,748.54 280.45,748.80 280.85,749.18 281.25,749.05 281.65,749.37 282.05,749.13 282.45,749.05 282.85,749.03 283.25,748.60 283.65,748.73 284.05,748.91 284.45,748.95 284.85,748.91 285.25,748.52 285.65,748.48 286.05,748.46 286.45,749.20 286.85,748.71 287.25,748.94 287.65,748.71 288.05,748.68 288.45,748.66 288.85,748.62 289.25,748.73 289.65,748.91 290.05,748.38 290.45,748.71 290.85,748.62 291.25,748.58 291.65,748.85 292.05,749.08 292.45,748.35 292.85,748.72 293.25,748.95 293.65,748.89 294.05,748.27 294.45,748.79 294.85,748.56 295.25,748.55 295.65,748.85 296.05,748.40 296.45,748.71 296.85,748.87 297.25,748.49 297.65,748.40 298.05,749.18 298.45,748.39 298.85,748.97 299.25,748.47 299.65,748.68 300.05,748.51 300.45,748.67 300.85,748.67 301.25,748.36 301.65,748.59 302.05,748.86 302.45,748.43 302.85,748.06 303.25,748.68 303.65,748.40 304.05,748.70 304.45,748.51 304.85,748.41 305.25,748.54 305.65,748.69 306.05,748.68 306.45,748.27 306.85,748.25 307.25,748.28 307.65,748.88" fill="none" stroke="#173c82" stroke-width="2.2" stroke-linejoin="round" stroke-linecap="round"/>
<line x1="332.5" y1="686.3" x2="343.8" y2="686.3" stroke="#173c82" stroke-width="2.0"/>
<text x="349.6" y="689.70" font-size="11" text-anchor="start" font-weight="normal" font-style="italic" textLength="38.6" lengthAdjust="spacingAndGlyphs" >Control</text>
<line x1="332.5" y1="703.1999999999999" x2="343.8" y2="703.1999999999999" stroke="#55b03a" stroke-width="2.0"/>
<text x="349.6" y="706.60" font-size="11" text-anchor="start" font-weight="normal" font-style="italic" textLength="70.0" lengthAdjust="spacingAndGlyphs" >Tln1-mR118E</text>
<line x1="332.5" y1="720.0999999999999" x2="343.8" y2="720.0999999999999" stroke="#ad0029" stroke-width="2.0"/>
<text x="349.6" y="723.50" font-size="11" text-anchor="start" font-weight="normal" font-style="italic" textLength="99.8" lengthAdjust="spacingAndGlyphs" >Tln1-mR35E,R118E</text>
<rect x="0" y="0" width="520" height="1.5" fill="#000"/>
<rect x="0" y="0" width="1.6" height="874" fill="#000"/>
<rect x="518.3" y="0" width="1.7" height="874" fill="#000"/>
<rect x="0" y="871.4" width="520" height="2.6" fill="#000"/>
</svg>
</body></html>
